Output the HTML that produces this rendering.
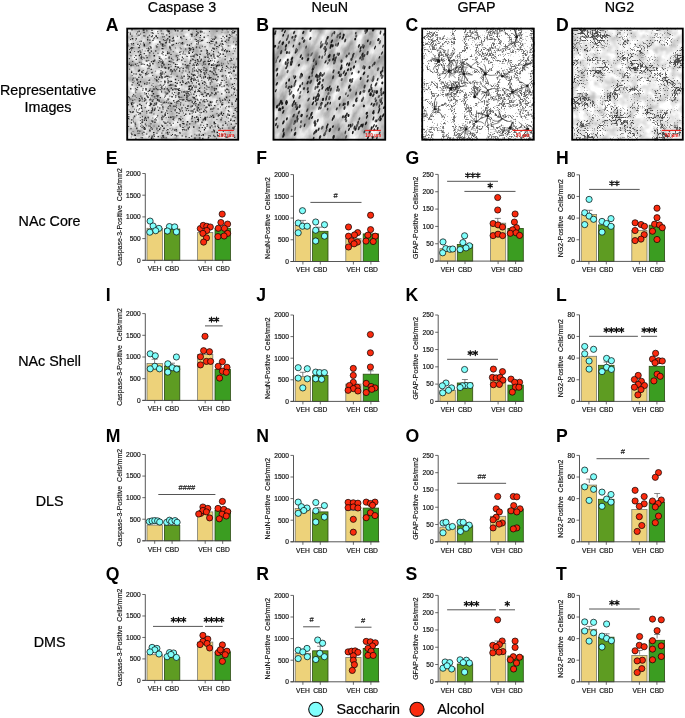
<!DOCTYPE html><html><head><meta charset="utf-8"><style>html,body{margin:0;padding:0;background:#fff}svg{display:block;will-change:transform}text{font-family:"Liberation Sans", sans-serif}</style></head><body>
<svg width="685" height="718" viewBox="0 0 685 718">
<defs>
<filter id="mA" x="0" y="0" width="100%" height="100%" color-interpolation-filters="sRGB">
 <feTurbulence type="fractalNoise" baseFrequency="0.12" numOctaves="3" seed="4"/>
 <feColorMatrix type="matrix" values="0.55 0 0 0 0.55  0.55 0 0 0 0.55  0.55 0 0 0 0.55  0 0 0 0 1"/>
</filter>
<filter id="mB" x="0" y="0" width="100%" height="100%" color-interpolation-filters="sRGB">
 <feTurbulence type="fractalNoise" baseFrequency="0.05 0.1" numOctaves="4" seed="7"/>
 <feColorMatrix type="matrix" values="0.8 0 0 0 0.38  0.8 0 0 0 0.38  0.8 0 0 0 0.38  0 0 0 0 1"/>
</filter>
<filter id="mC" x="0" y="0" width="100%" height="100%" color-interpolation-filters="sRGB">
 <feTurbulence type="turbulence" baseFrequency="0.09" numOctaves="2" seed="4" result="t0"/>
 <feColorMatrix in="t0" type="matrix" values="1 0 0 0 0  1 0 0 0 0  1 0 0 0 0  0 0 0 0 1" result="t"/>
 <feTurbulence type="fractalNoise" baseFrequency="0.7" numOctaves="1" seed="9" result="h0"/>
 <feColorMatrix in="h0" type="matrix" values="1 0 0 0 0  1 0 0 0 0  1 0 0 0 0  0 0 0 0 1" result="h"/>
 <feComposite in="t" in2="h" operator="arithmetic" k1="0" k2="1" k3="1.1" k4="-0.55" result="v"/>
 <feColorMatrix in="v" type="matrix" values="2.6 0 0 0 0.42  2.6 0 0 0 0.42  2.6 0 0 0 0.42  0 0 0 0 1"/>
</filter>
<filter id="mD" x="0" y="0" width="100%" height="100%" color-interpolation-filters="sRGB">
 <feTurbulence type="fractalNoise" baseFrequency="0.06" numOctaves="2" seed="8" result="lo0"/>
 <feColorMatrix in="lo0" type="matrix" values="1 0 0 0 0  1 0 0 0 0  1 0 0 0 0  0 0 0 0 1" result="lo"/>
 <feTurbulence type="turbulence" baseFrequency="0.3" numOctaves="2" seed="5" result="hi0"/>
 <feColorMatrix in="hi0" type="matrix" values="1 0 0 0 0  1 0 0 0 0  1 0 0 0 0  0 0 0 0 1" result="hi"/>
 <feComposite in="lo" in2="hi" operator="arithmetic" k1="0" k2="-0.8" k3="1" k4="0.4" result="v"/>
 <feColorMatrix in="v" type="matrix" values="2.6 0 0 0 0.32  2.6 0 0 0 0.32  2.6 0 0 0 0.32  0 0 0 0 1" result="g"/>
 <feTurbulence type="fractalNoise" baseFrequency="0.12" numOctaves="2" seed="31" result="m0"/>
 <feColorMatrix in="m0" type="matrix" values="0.5 0 0 0 0.67  0.5 0 0 0 0.67  0.5 0 0 0 0.67  0 0 0 0 1" result="m"/>
 <feComposite in="g" in2="m" operator="arithmetic" k1="1" k2="0" k3="0" k4="0"/>
</filter>
<filter id="bl3" x="-5%" y="-5%" width="110%" height="110%"><feGaussianBlur stdDeviation="0.35"/></filter>
<filter id="bl20" x="-20%" y="-20%" width="140%" height="140%"><feGaussianBlur stdDeviation="2"/></filter>
</defs>
<rect width="685" height="718" fill="#fff"/>
<text x="182" y="11.5" font-size="14.3" text-anchor="middle" fill="#000" stroke="#000" stroke-width="0.22">Caspase 3</text>
<text x="329.8" y="11.5" font-size="14.3" text-anchor="middle" fill="#000" stroke="#000" stroke-width="0.22">NeuN</text>
<text x="476.5" y="11.5" font-size="14.3" text-anchor="middle" fill="#000" stroke="#000" stroke-width="0.22">GFAP</text>
<text x="619.5" y="11.5" font-size="14.3" text-anchor="middle" fill="#000" stroke="#000" stroke-width="0.22">NG2</text>
<text transform="translate(105.8 30.8) scale(0.98 1)" font-size="18" font-weight="bold" fill="#000">A</text>
<text transform="translate(256.2 30.8) scale(0.98 1)" font-size="18" font-weight="bold" fill="#000">B</text>
<text transform="translate(405.6 30.8) scale(0.98 1)" font-size="18" font-weight="bold" fill="#000">C</text>
<text transform="translate(556.1 30.8) scale(0.98 1)" font-size="18" font-weight="bold" fill="#000">D</text>
<text transform="translate(105.8 163.8) scale(0.98 1)" font-size="18" font-weight="bold" fill="#000">E</text>
<text transform="translate(256.2 163.8) scale(0.98 1)" font-size="18" font-weight="bold" fill="#000">F</text>
<text transform="translate(405.6 163.8) scale(0.98 1)" font-size="18" font-weight="bold" fill="#000">G</text>
<text transform="translate(556.1 163.8) scale(0.98 1)" font-size="18" font-weight="bold" fill="#000">H</text>
<text transform="translate(105.8 301.3) scale(0.98 1)" font-size="18" font-weight="bold" fill="#000">I</text>
<text transform="translate(256.2 301.3) scale(0.98 1)" font-size="18" font-weight="bold" fill="#000">J</text>
<text transform="translate(405.6 301.3) scale(0.98 1)" font-size="18" font-weight="bold" fill="#000">K</text>
<text transform="translate(556.1 301.3) scale(0.98 1)" font-size="18" font-weight="bold" fill="#000">L</text>
<text transform="translate(105.8 442) scale(0.98 1)" font-size="18" font-weight="bold" fill="#000">M</text>
<text transform="translate(256.2 442) scale(0.98 1)" font-size="18" font-weight="bold" fill="#000">N</text>
<text transform="translate(405.6 442) scale(0.98 1)" font-size="18" font-weight="bold" fill="#000">O</text>
<text transform="translate(556.1 442) scale(0.98 1)" font-size="18" font-weight="bold" fill="#000">P</text>
<text transform="translate(105.8 580) scale(0.98 1)" font-size="18" font-weight="bold" fill="#000">Q</text>
<text transform="translate(256.2 580) scale(0.98 1)" font-size="18" font-weight="bold" fill="#000">R</text>
<text transform="translate(405.6 580) scale(0.98 1)" font-size="18" font-weight="bold" fill="#000">S</text>
<text transform="translate(556.1 580) scale(0.98 1)" font-size="18" font-weight="bold" fill="#000">T</text>
<text x="48" y="94.5" font-size="14.3" text-anchor="middle" fill="#000" stroke="#000" stroke-width="0.22">Representative</text>
<text x="48" y="112" font-size="14.3" text-anchor="middle" fill="#000" stroke="#000" stroke-width="0.22">Images</text>
<text x="49.6" y="226.4" font-size="14.3" text-anchor="middle" fill="#000" stroke="#000" stroke-width="0.22">NAc Core</text>
<text x="49.6" y="366.4" font-size="14.3" text-anchor="middle" fill="#000" stroke="#000" stroke-width="0.22">NAc Shell</text>
<text x="49.6" y="506.4" font-size="14.3" text-anchor="middle" fill="#000" stroke="#000" stroke-width="0.22">DLS</text>
<text x="49.6" y="646.6" font-size="14.3" text-anchor="middle" fill="#000" stroke="#000" stroke-width="0.22">DMS</text>
<clipPath id="cp0"><rect x="126.3" y="27.7" width="112.8" height="112.9"/></clipPath>
<g clip-path="url(#cp0)">
<g transform="translate(126.3 27.7)"><rect x="0" y="0" width="112.8" height="112.9" fill="#ccc" filter="url(#mA)"/></g>
<g filter="url(#bl3)"><path fill="#1e1e1e" d="M142 121.4h1.2v1.3h-1.2zM178.9 70.2h1.3v1.5h-1.3zM201.3 111.9h0.9v1h-0.9zM228.1 39.6h1.2v1.1h-1.2zM187.3 105.6h1.2v1.3h-1.2zM182.5 81.8h1.2v1.2h-1.2zM147.1 38.7h1.2v1.4h-1.2zM135 123.7h1.2v1h-1.2zM161.4 66.3h1.2v1.4h-1.2zM183.1 51.6h0.9v0.9h-0.9zM130.7 102.5h1.3v1.2h-1.3zM221.1 62.7h1v0.9h-1zM229.8 71.4h0.9v1h-0.9zM163.1 136.7h1.2v1.1h-1.2zM210.3 94.4h1.2v1h-1.2zM153 132h1.3v1.3h-1.3zM222 114.9h1.2v1.2h-1.2zM228.5 37.1h1.5v1.4h-1.5zM132.3 61.1h0.9v0.8h-0.9zM145.6 55.1h0.9v1.1h-0.9zM215.4 88.1h1.5v1.5h-1.5zM192.5 77.9h0.9v0.8h-0.9zM163.8 88.2h1.5v1.3h-1.5zM212.3 64.6h1v0.9h-1zM226 116.6h1v1h-1zM234 30.8h1.5v1.3h-1.5zM155.6 119.4h1.3v1.1h-1.3zM194.1 108.4h1v0.8h-1zM233.5 70.5h1.3v1.5h-1.3zM175.2 96.8h1v1h-1zM195.9 95h1v0.9h-1zM215.6 41.6h1.5v1.6h-1.5zM140.8 107.2h1.5v1.7h-1.5zM202 82.6h1.3v1.3h-1.3zM236 98.2h1.5v1.8h-1.5zM196.8 58.9h1.5v1.7h-1.5zM188.6 47.6h1.5v1.3h-1.5zM143.5 132.1h1v0.9h-1zM205.5 68.2h1v0.9h-1zM162.4 130.3h0.9v0.9h-0.9zM204.2 117.9h1.5v1.6h-1.5zM157.3 95.8h1v1h-1zM200 34.9h1v1.1h-1zM196.3 134.8h1v1h-1zM226.2 88.5h1.5v1.6h-1.5zM205.3 110h0.9v1.1h-0.9zM143.8 129.2h0.9v0.8h-0.9zM216.2 80h1.2v1.2h-1.2zM175.8 42.7h1.3v1.3h-1.3zM168.9 41.5h0.9v0.8h-0.9zM216.4 99.9h1.2v1.1h-1.2zM166.8 131.8h1.3v1.4h-1.3zM139.6 112.5h1.5v1.3h-1.5zM151.1 120.4h1.3v1.2h-1.3zM180 36.7h1.2v1h-1.2zM185.4 70.4h0.9v1h-0.9zM183.9 94.6h1.3v1.3h-1.3zM191.4 88.9h1v0.8h-1zM211.3 71.2h1.3v1.3h-1.3zM221.1 93.2h1.3v1.3h-1.3zM208.1 104.3h1.3v1.5h-1.3zM231.1 72.7h0.9v1.1h-0.9zM194.2 137.6h1.5v1.2h-1.5zM210.1 108.5h1.2v1.3h-1.2zM182.8 58.3h1v0.9h-1zM230.7 58.3h1.2v1.1h-1.2zM190.8 78.1h1.5v1.6h-1.5zM140.2 125.8h1v1h-1zM151.4 110h1.2v1.3h-1.2zM168.8 42h0.9v1h-0.9zM142.5 72.4h1v0.9h-1zM128.2 125.9h0.9v1h-0.9zM197.4 121h1.2v1.3h-1.2zM186.8 121h1.5v1.4h-1.5zM192.7 74.9h1.3v1.3h-1.3zM191.5 86.7h1.5v1.8h-1.5zM191 81.2h1v0.9h-1zM206.4 49.9h1.5v1.5h-1.5zM153.4 113.5h1v1h-1zM202.8 100.2h1v1h-1zM154.9 70.7h0.9v0.8h-0.9zM205.9 72.2h1v1.1h-1zM138.6 69.5h1.5v1.7h-1.5zM161.8 117.6h0.9v0.9h-0.9zM191.4 110.2h1.3v1.5h-1.3zM204.7 118.3h1.5v1.6h-1.5zM166.6 124.7h0.9v0.7h-0.9zM187.7 128.2h1.3v1.4h-1.3zM214.2 93.9h1.2v1.3h-1.2zM225.9 65.5h1.5v1.4h-1.5zM186.3 65.3h1.5v1.3h-1.5zM204.8 127.6h1.3v1.2h-1.3zM141.9 77.1h0.9v0.8h-0.9zM191.6 101.3h1.3v1.5h-1.3zM152.7 93h1.5v1.4h-1.5zM175.7 55.3h1.2v1.3h-1.2zM195 121.2h1.5v1.2h-1.5zM175.8 105.2h1v1h-1zM197.5 67.7h0.9v0.9h-0.9zM161.1 124.7h0.9v0.7h-0.9zM139.5 99.4h1.2v1.4h-1.2zM151.4 95h1.2v1.3h-1.2zM133.2 94h1v1.2h-1zM134.1 108.8h0.9v0.7h-0.9zM164.4 114.6h1.5v1.3h-1.5zM159.6 88.9h1v1h-1zM133.8 134.8h0.9v0.9h-0.9zM129 48.9h1v0.9h-1zM226.3 39.4h1v1h-1zM210.9 64.3h1.5v1.6h-1.5zM187.3 108.2h1v0.8h-1zM194.2 54.5h1v1h-1zM220.3 83.8h1.2v1h-1.2zM154.3 121.5h1.3v1.4h-1.3zM152.6 60.5h1v0.9h-1zM164.7 91.6h0.9v1h-0.9zM164.2 121.8h1.2v1h-1.2zM159.1 41.4h1.5v1.4h-1.5zM198.8 90.6h1.5v1.3h-1.5zM208.7 104.9h1.3v1.3h-1.3zM202.5 101.2h0.9v1h-0.9zM140.8 57.4h1.2v1.3h-1.2zM170.7 80.7h1.5v1.3h-1.5zM192.6 48.4h1.5v1.6h-1.5zM233.9 88.9h1.2v1.4h-1.2zM143.6 44.7h1.5v1.7h-1.5zM234.8 125.7h1v0.8h-1zM202.8 118.8h1v0.9h-1zM150.2 127.4h1v1.2h-1zM134.5 95.6h1.2v1h-1.2zM137.1 87h1v1.1h-1zM226.6 29.3h0.9v0.9h-0.9zM167.9 66.9h1.3v1.5h-1.3zM153.5 55.1h1.5v1.3h-1.5zM146.1 118.5h0.9v1h-0.9zM191.2 33.9h1.5v1.2h-1.5zM140.1 123h0.9v0.8h-0.9zM140.1 51.7h1.2v1.1h-1.2zM223.8 50.1h1.5v1.5h-1.5zM130.5 128.1h1v1.2h-1zM162.5 134.9h1.5v1.5h-1.5zM208.7 76.6h1.5v1.5h-1.5zM170.8 111h0.9v0.8h-0.9zM194.1 86.7h0.9v0.7h-0.9zM182.4 127h1.3v1.1h-1.3zM190.4 55.8h1.2v1.4h-1.2zM174.5 134.3h1.3v1.5h-1.3zM196.9 118.8h1.3v1.2h-1.3zM134.6 77.5h1v1.1h-1zM159.7 97.1h1.2v1.1h-1.2zM211.5 78.4h1.2v1h-1.2zM170.1 116.4h1.5v1.7h-1.5zM172.2 37.9h1.3v1.4h-1.3zM199.1 56.3h1v0.9h-1zM145.3 89.2h1.5v1.4h-1.5zM188.1 29.8h1.3v1.1h-1.3zM128.4 114.1h0.9v0.8h-0.9zM199.6 41.2h0.9v0.8h-0.9zM226.3 96.9h0.9v1h-0.9zM190.3 85.3h1.3v1.2h-1.3zM188 88.4h1.5v1.3h-1.5zM185.9 109.7h1v1h-1zM133.1 120.7h0.9v0.8h-0.9zM164.2 80.6h1.2v1.4h-1.2zM171.5 71h1v1h-1zM138.9 103.8h1.2v1.2h-1.2zM161.4 77.1h1.3v1.3h-1.3zM180.7 37.8h0.9v0.7h-0.9zM161.3 87.5h1.2v1.4h-1.2zM153.3 134.5h0.9v0.9h-0.9zM186.1 96.5h1.3v1.5h-1.3zM178.9 108.7h1.3v1.3h-1.3zM166.5 88.3h1.5v1.2h-1.5zM199.2 57.5h1v1.1h-1zM191.6 82.4h1.3v1.1h-1.3zM187.3 100.3h0.9v0.9h-0.9zM224.5 98.9h1.3v1.5h-1.3zM222.8 131.1h0.9v1h-0.9zM221 64.8h1.3v1.3h-1.3zM195.6 86.8h1v1h-1zM144.3 128.2h1.5v1.6h-1.5zM227.6 89.5h1v0.8h-1zM193.3 97.6h0.9v1h-0.9zM221.8 127.8h1.3v1h-1.3zM132.9 117.6h0.9v1h-0.9zM227.3 113.5h1.2v1.3h-1.2zM182.3 99h1.5v1.4h-1.5zM185.9 82.2h1v1h-1zM217.7 115.3h1v1.1h-1zM217.1 64.6h1.5v1.6h-1.5zM152.4 120.6h1v0.9h-1zM184.9 107.2h1v1.1h-1zM181.1 84.1h1.3v1.5h-1.3zM157.5 52.7h1v1h-1zM171.3 95.9h1.5v1.7h-1.5zM212.9 129.4h1.3v1.2h-1.3zM182.2 122.9h1.2v1.1h-1.2zM229 34.3h0.9v0.8h-0.9zM194.8 105.4h0.9v0.9h-0.9zM136.4 65.3h0.9v1h-0.9zM168.8 76.4h1v1h-1zM180.5 50.9h0.9v0.9h-0.9zM180.3 36.6h1.3v1.4h-1.3zM195 111.4h1.2v1.3h-1.2zM179.5 118h1v1h-1zM210.9 116h1v1.2h-1zM145.1 99.3h1.3v1.2h-1.3zM144.1 83.1h1.2v1.4h-1.2zM167.2 75.7h1.3v1.4h-1.3zM139.6 53.8h1.3v1.1h-1.3zM168.7 131.8h1v0.9h-1zM218.2 52.2h1v1.1h-1zM191.7 115.7h1.3v1.3h-1.3zM188.8 71.6h1v1.2h-1zM177.3 88.5h1.5v1.6h-1.5zM236.5 78.7h0.9v0.7h-0.9zM140.8 104.9h1.3v1.1h-1.3zM172 134.1h1v1h-1zM194.3 117.1h1v1.2h-1zM142.6 88.2h1v1.1h-1zM221.1 68.7h1.5v1.7h-1.5zM195.6 39.1h1.3v1.1h-1.3zM141.5 110.9h1.3v1.1h-1.3zM203 110.9h1.5v1.4h-1.5zM236.6 67.3h0.9v0.9h-0.9zM205.6 106.8h1v1.1h-1zM152.4 121.6h0.9v1.1h-0.9zM205.1 116.7h1.3v1.5h-1.3zM165.2 42h1.5v1.4h-1.5zM188.5 77.7h0.9v0.8h-0.9zM221.2 103.9h1.5v1.5h-1.5zM151.2 36.1h1.2v1.1h-1.2zM163 85.2h0.9v0.9h-0.9zM184.9 83.1h1.3v1.2h-1.3zM160.5 101.8h1v1h-1zM188.3 91h1.3v1.1h-1.3zM137.2 31.4h1v1.2h-1zM196.9 62.8h1.3v1.2h-1.3zM183 104.8h0.9v0.8h-0.9zM228.2 71.9h1.3v1.5h-1.3zM203.1 110.8h1.3v1.3h-1.3zM230.1 119.8h1.3v1.3h-1.3zM182.3 126.9h1.2v1h-1.2zM204.6 76.1h1.5v1.6h-1.5zM219 84.4h1v0.9h-1zM224.6 55.8h1.3v1.1h-1.3zM136.6 80h1v1h-1zM176.6 66.3h1v1.1h-1zM178.9 88h0.9v0.9h-0.9zM227.7 117.5h1v0.9h-1zM231.8 83.8h1.3v1.1h-1.3zM151.1 127.3h0.9v0.8h-0.9zM193 126.2h1.5v1.6h-1.5zM135.5 38.3h1.5v1.3h-1.5zM226 50.6h1v0.9h-1zM133.4 73.3h1v1.1h-1zM225.9 78.5h0.9v1h-0.9zM194.8 100.8h1.3v1.2h-1.3zM141.6 127h1v1.1h-1zM167.3 98.4h0.9v0.8h-0.9zM138.3 112.3h0.9v1h-0.9zM218.9 64.5h1v1.2h-1zM142.7 70.1h0.9v1h-0.9zM151.4 84.7h1v1.1h-1zM177.9 100.3h1.3v1.2h-1.3zM134.1 57.1h0.9v0.7h-0.9zM233.9 82.9h0.9v1.1h-0.9zM151.4 29.8h1.2v1.1h-1.2zM196 116.2h1.5v1.5h-1.5zM158.9 76.4h1.5v1.7h-1.5zM208.8 41.9h1.2v1.3h-1.2zM224.7 120.9h1v0.9h-1zM205.4 83.4h1v0.9h-1zM197.8 42.3h1.2v1.1h-1.2zM172.5 118.7h1.3v1.4h-1.3zM221.5 65h1v1.1h-1zM137.6 133.2h0.9v0.8h-0.9zM131.8 74.9h0.9v0.9h-0.9zM194.2 90.9h1.5v1.3h-1.5zM184.8 64.1h1v0.9h-1zM184.3 90.8h1.2v1h-1.2zM167.2 129.1h1.3v1.1h-1.3zM132.5 82.1h1v0.9h-1zM228.9 99.6h1.2v1.3h-1.2zM159.1 107.5h1.3v1.1h-1.3zM174.7 70.4h1.2v1.2h-1.2zM206.6 126.1h0.9v1h-0.9zM195.9 64.3h1.5v1.6h-1.5zM194.6 59.8h1v0.9h-1zM139.8 80.9h1.3v1.5h-1.3zM164.8 67.6h1.2v1.2h-1.2zM209.5 103.5h0.9v0.9h-0.9zM183.3 123.1h1.2v1.3h-1.2zM227.4 67h0.9v1h-0.9zM168.6 57.5h1v1.2h-1zM204.2 116.7h0.9v1h-0.9zM153.6 104.4h1.2v1.2h-1.2zM188.2 109.9h1v1h-1zM130.7 64.1h0.9v0.7h-0.9zM129.7 111h1v1h-1zM215.2 36.6h1.2v1.4h-1.2zM181.3 96.8h0.9v0.9h-0.9zM128.8 97.1h1v1h-1zM211.2 102.5h0.9v0.8h-0.9zM193.9 66.7h0.9v1h-0.9zM222 66.8h1v1h-1zM129.1 68.7h1v0.9h-1zM235.3 74.4h1v1h-1zM146 120h1v0.9h-1zM176.2 115h1.2v1.1h-1.2zM177.4 102.7h0.9v0.9h-0.9zM161.5 47.9h1.5v1.3h-1.5zM131 71.8h1.3v1.1h-1.3zM233.3 128.3h1.2v1.1h-1.2zM212.2 39.1h1v0.9h-1zM182 77.6h0.9v1h-0.9zM160.9 104.6h0.9v0.9h-0.9zM143.5 43.8h1.5v1.7h-1.5zM161 117.3h1.5v1.2h-1.5zM137 82.7h1.2v1.3h-1.2zM180.6 43.2h1v1.1h-1zM148.1 93.4h0.9v0.9h-0.9zM221.3 134.4h1v0.9h-1zM233.7 126.6h1.3v1.1h-1.3zM161.5 62.8h1.2v1.1h-1.2zM177.2 35.8h0.9v1h-0.9zM179.8 96.7h0.9v1h-0.9zM203.7 81.1h1v1.2h-1zM189.6 89.1h1.5v1.5h-1.5zM226.7 50.5h1.5v1.2h-1.5zM170.2 69.1h1.5v1.4h-1.5zM188.7 76.1h1.3v1.3h-1.3zM174.1 129.6h1.2v1.2h-1.2zM167.3 133.4h1.3v1.4h-1.3zM131.3 44.2h1.2v1h-1.2zM142.3 63.4h1v1h-1zM130 48.2h0.9v0.8h-0.9zM178.2 92.1h1.5v1.7h-1.5zM161.8 44.8h1v1.1h-1zM200.8 58.8h1.2v1h-1.2zM195.4 103.1h1.2v1.1h-1.2zM225.8 96.6h1.5v1.6h-1.5zM138.7 55.1h1.3v1.1h-1.3zM232.4 120.4h0.9v1h-0.9zM150.7 50.6h1.3v1.1h-1.3zM193.4 103.2h1.3v1.3h-1.3zM197.4 72.5h1.3v1h-1.3zM171.5 40.4h1.3v1.4h-1.3zM209.5 70.6h1.3v1.3h-1.3zM129.8 32.5h0.9v0.8h-0.9zM181.2 91.5h0.9v0.9h-0.9zM152.9 86.2h0.9v0.9h-0.9zM172.1 71.2h1v1.1h-1zM177.9 42.8h1v0.8h-1zM200.2 124.5h1.2v1h-1.2zM153.8 135.7h1.2v1h-1.2zM231.1 87.2h1.2v1.2h-1.2zM141.9 98.7h1v0.9h-1zM203.1 95.9h1.2v1.1h-1.2zM221.3 117.5h1v0.9h-1zM153.2 88.4h1.5v1.3h-1.5zM146.5 56.9h1.2v1.3h-1.2zM200.3 71h1.5v1.6h-1.5zM131.8 84.5h0.9v0.8h-0.9zM148.8 89.8h1.5v1.4h-1.5zM187.4 92.7h1.2v1.2h-1.2zM192.4 96.6h0.9v1.1h-0.9zM169.4 95.8h1v0.8h-1zM139.9 120.2h0.9v0.8h-0.9zM205.7 94.8h1.5v1.8h-1.5zM224.7 40.8h1.2v1.3h-1.2zM162 43.4h1.5v1.8h-1.5zM161.1 73.6h1.2v1.3h-1.2zM193.3 55.6h0.9v0.8h-0.9zM130.8 122.2h1.2v1.4h-1.2zM164.6 76.6h1v1.1h-1zM152 35.2h1v1.1h-1zM164.4 39.9h1.2v1h-1.2zM147.6 96.5h1.2v1.4h-1.2zM198 120.3h0.9v0.9h-0.9zM146.5 60.3h1v1.1h-1zM215.7 65.8h1.5v1.4h-1.5zM159.3 41h0.9v0.7h-0.9zM131 103.7h1.5v1.6h-1.5zM209.1 31.3h0.9v0.8h-0.9zM166.2 101.8h0.9v1.1h-0.9zM164.3 66.8h1.3v1.4h-1.3zM170.4 49.3h1v0.9h-1zM235 67.3h0.9v1.1h-0.9zM162.2 62.6h1.2v1.1h-1.2zM218.3 69.3h0.9v1h-0.9zM196.1 54h1.2v1.3h-1.2zM162.1 71.5h1.2v1.2h-1.2zM166.9 52.8h1.3v1.5h-1.3zM174.7 65.8h1.5v1.4h-1.5zM221.4 71h1v0.8h-1zM215.8 101.4h1.2v1h-1.2zM135.3 54.9h1.2v1.4h-1.2zM137.5 35.4h0.9v0.9h-0.9zM177.5 55.2h1v0.9h-1zM190.8 43.2h1v1.1h-1zM151.6 107.5h1.5v1.2h-1.5zM181.9 80.3h1.3v1.1h-1.3zM194.1 74.3h0.9v1h-0.9zM206.4 93.2h1.5v1.2h-1.5zM196 82.2h1v1h-1zM164.7 75.9h1v0.8h-1zM127.4 32h1v1h-1zM175.2 85h1v1h-1zM188.4 85.7h1.5v1.8h-1.5zM192.2 58.7h1.5v1.6h-1.5zM218.7 44.7h1.3v1.4h-1.3zM198.3 83.2h1.5v1.8h-1.5zM168.4 30.6h1.5v1.4h-1.5zM143.8 64h0.9v0.9h-0.9zM156 76.4h1.3v1.3h-1.3zM203.8 118.2h1.2v1.4h-1.2zM191.3 35.4h1.2v1.1h-1.2zM130.9 47.1h1.3v1.5h-1.3zM226.1 52.5h0.9v0.8h-0.9zM209.7 101.2h1.5v1.7h-1.5zM159.7 84.4h1.5v1.2h-1.5zM161.4 33.3h0.9v1h-0.9zM231.4 33.6h0.9v0.9h-0.9zM131.1 119.3h1.2v1.3h-1.2zM156.1 46.3h1.5v1.3h-1.5zM186.6 96.7h1v1.1h-1zM130.8 42.9h0.9v1h-0.9zM221.5 75.5h1.5v1.3h-1.5zM216.5 30.7h0.9v1h-0.9zM211.2 49.8h1v0.9h-1zM144.8 116.7h1.3v1.3h-1.3zM128.7 63.7h1.2v1.4h-1.2zM182.4 28.7h1v0.9h-1zM132.7 42.9h1.5v1.2h-1.5zM155.4 104h1.3v1.2h-1.3zM130.5 55.3h0.9v1h-0.9zM137.9 65.2h0.9v1h-0.9zM199.5 39.4h1v0.9h-1zM213.8 130.1h1v0.9h-1zM181.1 59.7h1.3v1.1h-1.3zM224.8 70h1v1.2h-1zM134.8 134.5h1.2v1.4h-1.2zM165.7 137.2h0.9v1.1h-0.9zM233.1 69.8h1.5v1.6h-1.5zM218 126.9h1.3v1.4h-1.3zM190.7 80.7h1.2v1.2h-1.2zM186.5 108h0.9v0.9h-0.9zM144.9 72.9h1.5v1.4h-1.5zM148.8 105h1v0.9h-1zM222.4 103.9h0.9v1.1h-0.9zM163.7 84.1h0.9v0.7h-0.9zM208.1 79.5h1v1h-1zM147.1 39.4h1.2v1.2h-1.2zM181.8 72.4h0.9v0.9h-0.9zM170.4 54h1.2v1h-1.2zM174.8 82.1h1.2v1h-1.2zM167.4 82.1h1.3v1.4h-1.3zM228.4 127.6h0.9v0.9h-0.9zM171.4 44.4h1.5v1.4h-1.5zM232.2 127.3h1.5v1.4h-1.5zM149.9 103.7h1.2v1.4h-1.2zM148.8 82.4h1v1.1h-1zM179.5 124.6h1.3v1.1h-1.3zM181.4 107.3h1.2v1.2h-1.2zM138 47.2h1.2v1.1h-1.2zM184.1 129.5h0.9v1h-0.9zM229.4 60.1h1.3v1.5h-1.3zM232.2 32h1.5v1.6h-1.5zM178.7 97.2h1v1.1h-1zM151.8 32.2h1.2v1.4h-1.2zM130.4 112.1h0.9v0.9h-0.9zM151.6 90.6h1.5v1.6h-1.5zM160.3 72.2h1v1h-1zM216.2 64.8h1v1.1h-1zM170.5 124.4h1.3v1.3h-1.3zM177.3 57.7h0.9v0.7h-0.9zM181.7 41.9h1.5v1.8h-1.5zM164.4 123.1h1.2v1h-1.2zM160.5 75.2h0.9v0.9h-0.9zM167.5 107.6h0.9v1.1h-0.9zM157.6 136.1h1.2v1.2h-1.2zM141.1 71.3h1.5v1.4h-1.5zM182.6 121.1h0.9v0.9h-0.9zM203 76.4h0.9v1h-0.9zM205.9 69.4h1.3v1.1h-1.3zM169.4 104.7h1.5v1.5h-1.5zM188.8 82.5h0.9v1.1h-0.9zM217.4 91.4h1.2v1.2h-1.2zM211.8 110.9h0.9v0.9h-0.9zM233.7 120.1h1.2v1.3h-1.2zM171 102.8h1.3v1.5h-1.3zM212.9 63.3h0.9v0.9h-0.9zM222.4 43.9h1.2v1.1h-1.2zM156.1 79.7h1.5v1.7h-1.5zM162.9 39.3h1.2v1h-1.2zM198.4 69h1.3v1.5h-1.3zM228.9 50.8h1.2v1.2h-1.2zM154.7 107.6h1v1.1h-1zM211.6 131.3h1v1.1h-1zM213.6 130.2h0.9v1h-0.9zM145.6 28.7h1v0.9h-1zM142.7 29.2h1.3v1.5h-1.3zM147.8 49.7h1.3v1.5h-1.3zM161 91.2h1.2v1.3h-1.2zM151.6 128.5h1.2v1.2h-1.2zM186.4 90.8h1.3v1.4h-1.3zM136.9 105.2h1.2v1.4h-1.2zM147 96.4h1v1.1h-1zM152.3 39.8h1.3v1.3h-1.3zM166 41.4h1v1h-1zM221.5 31.8h1v0.8h-1zM143.7 100.7h1v1.1h-1zM148.3 125.4h1.3v1.2h-1.3zM220.7 112.9h1.3v1.5h-1.3zM141.8 76.3h0.9v1h-0.9zM135.2 88.2h0.9v1.1h-0.9zM144.1 97.8h1.3v1.2h-1.3zM209.1 95.6h1v1.2h-1zM235 94.7h1.2v1.3h-1.2zM217.2 135h1.5v1.6h-1.5zM168.6 60.8h1.5v1.3h-1.5zM207.3 56.5h1.3v1.5h-1.3zM198.8 133.8h1v0.9h-1zM140.9 56.3h1v1h-1zM210.4 54.8h1.5v1.6h-1.5zM138.4 84.3h1.5v1.4h-1.5zM227.7 63.3h1v1h-1zM216.5 131.7h1.5v1.6h-1.5zM149.8 102.5h1.3v1.1h-1.3zM212.2 114.8h1.3v1.5h-1.3zM138.9 98.1h1v1h-1zM219.5 113.5h0.9v1.1h-0.9zM158.8 57.7h1.5v1.4h-1.5zM189.3 62.7h1.3v1.3h-1.3zM235.5 65.9h1v1.2h-1zM204.3 60.8h1.2v1.2h-1.2zM233.2 115.2h1.3v1.1h-1.3zM200.9 39.9h1.5v1.3h-1.5zM189.3 85.6h1.3v1.5h-1.3zM180.7 30.7h1v0.8h-1zM151.9 109.5h1v1.1h-1zM210.3 76.9h1.3v1.1h-1.3zM158.3 95.2h1v1.1h-1zM131.4 29.1h1.2v1.3h-1.2zM157.6 32.9h1v0.8h-1zM213.6 131.1h1.3v1.4h-1.3zM188.4 65.4h0.9v1h-0.9zM145.8 93.1h1.2v1.4h-1.2zM149.6 64.6h1.3v1.5h-1.3zM226.1 77.2h0.9v0.9h-0.9zM198.1 64.5h0.9v0.7h-0.9zM148.9 79.4h1.3v1.4h-1.3zM213 51.1h1.2v1.1h-1.2zM220.2 101.2h1.2v1.2h-1.2zM216.3 46.1h1.5v1.2h-1.5zM168.7 36.1h1.5v1.5h-1.5zM189.2 123.2h1.2v1.3h-1.2zM192 51.8h1v1.2h-1zM131.7 102.1h1v1.1h-1zM157.2 31.2h1v1h-1zM139.2 73.8h1.2v1.4h-1.2zM197.7 32.7h0.9v1h-0.9zM146.3 95.3h1.3v1.1h-1.3zM175.6 129.1h1.3v1.1h-1.3zM201.4 121.6h1.2v1.3h-1.2zM208.7 63h1.3v1.1h-1.3zM221.5 117.7h0.9v0.8h-0.9zM216.1 74.1h1.3v1.4h-1.3zM128 118.1h0.9v0.9h-0.9zM162.4 36.3h1v1.1h-1zM174.8 63.8h1.2v1.3h-1.2zM131.8 38h1.5v1.4h-1.5zM210.5 40.5h1.5v1.4h-1.5zM221.5 135.4h1.3v1.1h-1.3zM158.2 125.6h1.2v1.3h-1.2zM138.9 108.3h1v1h-1zM231.6 104.4h0.9v0.8h-0.9zM139.5 113.4h1v1h-1zM173.1 62.2h1.3v1.3h-1.3zM195.1 89.7h1v0.9h-1zM155.4 35.3h1.5v1.7h-1.5zM186.1 94.4h1.5v1.4h-1.5zM143.4 31.7h1.3v1.3h-1.3zM147.5 116.7h1.3v1.1h-1.3zM197.7 79.5h0.9v1h-0.9zM185.9 55.7h1v0.8h-1zM178.4 118.3h1.2v1h-1.2zM165.9 75.5h1.3v1.3h-1.3zM236.3 99h1.2v1.4h-1.2zM136.2 89h1.2v1.3h-1.2zM192.4 74.1h1.3v1.1h-1.3zM179.4 90h1v0.9h-1zM200.8 93.7h1.2v1h-1.2zM218.3 46.6h0.9v0.8h-0.9zM199.5 102.4h1.2v1.2h-1.2zM233 66.5h1.5v1.2h-1.5zM143.5 29.4h1.3v1.1h-1.3zM207.6 35.3h0.9v0.8h-0.9zM200 70h0.9v1.1h-0.9zM198 107h0.9v0.9h-0.9zM200 117.2h1v0.8h-1zM196 69.6h0.9v0.8h-0.9zM150.5 103.2h1.5v1.5h-1.5zM136.2 78.4h1.5v1.5h-1.5zM202.5 134h1.5v1.7h-1.5zM203.9 84.2h1v1h-1zM189 88h1.2v1.3h-1.2zM203.1 63.4h1.2v1h-1.2zM160.7 89.8h0.9v0.8h-0.9zM212.9 116.6h1.5v1.3h-1.5zM214 44.4h1.5v1.2h-1.5zM179.9 118.9h1.5v1.7h-1.5zM161.9 135h1v1h-1zM181.8 110.3h1v1.2h-1zM167.2 113h0.9v1h-0.9zM133.3 44.6h0.9v0.9h-0.9zM189.2 49.6h1.2v1.4h-1.2zM205.9 49.5h1v0.8h-1zM177.1 30.2h1.5v1.3h-1.5zM212.2 40.8h1.3v1.1h-1.3zM234.7 107.9h1.2v1.3h-1.2zM161.2 75.9h1.3v1.4h-1.3zM203.8 129.1h1.3v1.5h-1.3zM171.2 72.6h0.9v1h-0.9zM162.3 107.3h1.3v1.3h-1.3zM160.6 81.3h0.9v0.8h-0.9zM206.6 123.9h1.3v1.5h-1.3zM150.9 137.3h1.5v1.7h-1.5zM164.7 95.5h1.3v1h-1.3zM140.4 95.6h1v1.2h-1zM236.4 110.9h1.3v1.3h-1.3zM192.3 47h1v1h-1zM177.2 75.8h0.9v0.9h-0.9zM213.5 121.4h1.5v1.6h-1.5zM188.8 44.6h1.3v1.3h-1.3zM188.4 52.3h1.5v1.7h-1.5zM136.1 109.5h0.9v1h-0.9zM148.7 52.3h0.9v1h-0.9zM129.9 33.6h1v1.2h-1zM160.6 86.9h1v0.8h-1zM176.5 82.8h1.3v1.1h-1.3zM203.8 105.2h0.9v0.8h-0.9zM148.2 109.9h1v1h-1zM159.8 73.2h1.3v1.4h-1.3zM162.6 108.9h0.9v0.8h-0.9zM129.7 51.6h1.3v1.5h-1.3zM162.6 54.3h0.9v0.9h-0.9zM162.1 61.3h1.5v1.4h-1.5zM130.3 65h1.5v1.3h-1.5zM180.7 108.7h0.9v0.8h-0.9zM220.2 54.3h0.9v0.8h-0.9zM210.6 104.7h1.3v1.1h-1.3zM231.3 59.7h1.2v1.3h-1.2zM195.8 28.9h1v0.8h-1zM196.6 76.6h1.2v1.4h-1.2zM172.1 89.1h1.3v1.3h-1.3zM221.5 134.1h1.2v1.3h-1.2zM201.2 50.4h1v1h-1zM132.8 111h1v1.2h-1zM202.2 137.8h1.2v1.2h-1.2zM210 59.9h1.2v1.3h-1.2zM141.8 49.5h0.9v0.8h-0.9zM174.3 101.9h1v0.9h-1zM186.2 98.5h1.5v1.4h-1.5zM176.3 112h1.2v1.3h-1.2zM163.3 127.6h1.5v1.7h-1.5zM187.3 64.7h1.3v1.1h-1.3zM210.6 79.4h0.9v1h-0.9zM130 39.1h0.9v0.8h-0.9zM159 128.6h1.3v1.4h-1.3zM178 89.4h1.3v1.5h-1.3zM152.9 60.5h1.5v1.4h-1.5zM169.4 47.8h1.3v1h-1.3zM170 47.6h1v1h-1zM215.1 92.2h1.5v1.7h-1.5zM196.1 70.8h0.9v0.8h-0.9zM198.9 87.8h1.3v1.2h-1.3zM195.7 34.8h1.2v1.2h-1.2zM229.8 35.2h1v1.1h-1zM139.5 50.2h1v1.2h-1zM229.9 132.4h1v0.9h-1zM170.6 87.5h1.5v1.2h-1.5zM174.4 116.6h1v0.9h-1zM191.7 117.3h1v0.9h-1zM167.2 51.3h0.9v1.1h-0.9zM214.2 69.9h1v0.8h-1zM203.1 77.7h1v0.9h-1zM186.7 44.2h1.2v1.3h-1.2zM225.1 136.6h0.9v0.8h-0.9zM207.5 60.4h1.5v1.5h-1.5zM172.8 51.2h0.9v1.1h-0.9zM232.9 88.3h0.9v1h-0.9zM211.1 92.2h1.3v1.3h-1.3zM134.5 122.5h1.2v1h-1.2zM178.1 79.9h1v0.9h-1zM215.2 123.1h1v1.2h-1zM144 127.1h1.2v1.4h-1.2zM142.3 89.8h1v1h-1zM160.4 43.3h1.2v1.1h-1.2zM200 131.2h0.9v1h-0.9zM146.8 64.3h1.2v1.4h-1.2zM193.4 96.9h1.5v1.8h-1.5zM199.2 101.8h1.2v1.2h-1.2zM200.1 30.8h1.5v1.8h-1.5zM182.3 130.4h1v0.8h-1zM161.8 125.4h1.3v1.5h-1.3zM219.2 97.7h1v1h-1zM197.4 31.9h1.2v1.3h-1.2zM190.5 33.6h1.3v1.2h-1.3zM202.9 69.5h1v1.1h-1zM149.2 130.2h1.5v1.4h-1.5zM220.8 45.6h0.9v1h-0.9zM226 35.4h1.3v1.5h-1.3zM166.9 29.6h1.5v1.8h-1.5zM182.3 63.5h1.2v1.2h-1.2zM183.8 115.1h1v0.8h-1zM223 112.9h1.2v1.3h-1.2zM163.3 63.9h1.3v1.3h-1.3zM208.1 63.5h1.5v1.7h-1.5zM197.6 118.9h1.5v1.6h-1.5zM195.6 85.4h0.9v0.8h-0.9zM155.2 118.2h0.9v1h-0.9zM180.1 104.3h0.9v1.1h-0.9zM179.2 51.8h1.2v1.2h-1.2zM156.9 99.1h1.5v1.6h-1.5zM207.1 54.2h1.3v1.2h-1.3zM188.4 100.1h1.3v1.4h-1.3zM174.9 108.9h0.9v0.9h-0.9zM137.3 43.8h1.2v1.1h-1.2zM226.2 136.5h1.3v1.3h-1.3zM211.5 108.6h1v0.9h-1zM152.2 109.1h1v1.1h-1zM225.1 122.5h1.2v1.4h-1.2zM202.9 61.5h1.3v1.2h-1.3zM231.5 103.6h1.3v1.5h-1.3zM141.9 119.2h1.3v1.2h-1.3zM196 46.5h1.2v1h-1.2zM190.4 99.8h1v1.2h-1zM167.8 31.5h0.9v1h-0.9zM214 105h1v1h-1zM213.1 73h1.2v1.4h-1.2zM189 126.6h1v1.1h-1zM228.8 114.4h1.3v1.6h-1.3zM220.4 119.1h1.3v1.4h-1.3zM174.8 78.8h1.5v1.4h-1.5z"/><path fill="#3c3c3c" d="M130.1 87.9h1.3v1.5h-1.3zM206.6 86.4h1.3v1.2h-1.3zM206.2 106.5h1.3v1.5h-1.3zM139.1 46.6h1.2v1h-1.2zM132.1 105.7h1.5v1.6h-1.5zM149.1 129.4h1.3v1.5h-1.3zM190.5 78.9h1.5v1.6h-1.5zM213.3 64.9h1v1h-1zM157.1 106.5h1.2v1h-1.2zM131.2 133.7h1.5v1.5h-1.5zM151.4 135.4h1.5v1.5h-1.5zM149.2 39.5h1.3v1.3h-1.3zM137.8 70.2h1.5v1.8h-1.5zM222.1 80h1v0.9h-1zM215.6 72.7h0.9v0.7h-0.9zM144.6 106.9h1.2v1.3h-1.2zM152 62.9h1v0.9h-1zM151.1 91h0.9v0.9h-0.9zM196.9 70.7h1.5v1.2h-1.5zM234.5 117.1h1.2v1h-1.2zM233.8 134.7h0.9v1.1h-0.9zM233.7 88.4h0.9v0.9h-0.9zM168.1 116.8h1.2v1.1h-1.2zM193 85.3h1.2v1.2h-1.2zM200.4 50.3h1.3v1.5h-1.3zM164 96.7h0.9v1h-0.9zM197.3 99.7h1.3v1.1h-1.3zM212.4 72.2h1v1.1h-1zM143.9 119.8h1.3v1.2h-1.3zM156.7 36.9h1.5v1.5h-1.5zM207.6 137.7h1.2v1.1h-1.2zM195.7 46.8h1.3v1.5h-1.3zM216.9 79.3h1v0.9h-1zM130.3 98.4h1v1h-1zM213.4 47.9h1.5v1.8h-1.5zM131 70.7h1.2v1.1h-1.2zM138.7 100.1h1.5v1.7h-1.5zM204 87.3h1.2v1.1h-1.2zM169.8 64.2h1v0.8h-1zM140.6 63.4h1.2v1.2h-1.2zM184.5 91.7h1v1.1h-1zM219.9 106.4h1v1.1h-1zM219.8 70.6h1.2v1.4h-1.2zM150.7 99.2h0.9v0.8h-0.9zM226.3 50.7h1.3v1.5h-1.3zM167.5 80.2h1.5v1.6h-1.5zM197.8 117.5h1.2v1.2h-1.2zM204.1 90.3h1v1h-1zM141.1 106.3h0.9v0.9h-0.9zM201.9 45.7h1v1.1h-1zM159.6 103.9h0.9v0.7h-0.9zM216.4 43.2h0.9v1h-0.9zM138.8 132.8h0.9v1h-0.9zM161.6 124.9h0.9v0.9h-0.9zM166.5 111.2h1v1h-1zM133.4 102.3h1v1.1h-1zM154.1 102.7h1.2v1.3h-1.2zM172.6 116.1h1v1h-1zM196.6 109.2h1.5v1.8h-1.5zM186.8 56h1v0.9h-1zM183.4 75.5h1.5v1.6h-1.5zM221.2 79.7h1v1.2h-1zM187.8 105.2h1v0.9h-1zM154.9 50.2h1.5v1.5h-1.5zM229.5 45.4h0.9v0.9h-0.9zM201.9 93.4h1.5v1.8h-1.5zM149.3 112.2h1.3v1.2h-1.3zM131.4 47.1h1.5v1.7h-1.5zM233.1 112.8h1.2v1.3h-1.2zM146.2 83.6h1.3v1.1h-1.3zM132.1 95.5h1.2v1.2h-1.2zM219.3 99.4h1.2v1.4h-1.2zM162.8 52.1h1v1h-1zM131.4 35.6h1.2v1.2h-1.2zM194.4 68.5h0.9v0.9h-0.9zM173.2 105.5h1.5v1.5h-1.5zM216.9 61.7h1.3v1.2h-1.3zM197.7 104.1h1.5v1.6h-1.5zM205.2 70.2h1.2v1.4h-1.2zM167.8 89.3h1.5v1.8h-1.5zM152.5 110.5h0.9v0.9h-0.9zM158.6 56.3h1v1.1h-1zM214.5 125.6h1.2v1.1h-1.2zM177.2 67.2h1.3v1.2h-1.3zM152.2 62.8h1.5v1.7h-1.5zM213.6 123.1h1.5v1.5h-1.5zM153.2 104.9h1.3v1.1h-1.3zM187.6 127.3h1.3v1.1h-1.3zM134.8 63.6h1.5v1.4h-1.5zM203.6 32.8h0.9v0.7h-0.9zM233.3 47.7h0.9v1h-0.9zM208.3 86.7h1.3v1.3h-1.3zM161.3 85.6h1.2v1.3h-1.2zM198.9 109.1h1.3v1.3h-1.3zM233.9 77.9h1.2v1h-1.2zM138.4 34.6h1.3v1.3h-1.3zM145.2 87.9h1.5v1.5h-1.5zM180.5 77.4h1.2v1.1h-1.2zM192.3 55.5h1.5v1.4h-1.5zM165.7 117.2h0.9v1h-0.9zM175.6 85.8h1.2v1.3h-1.2zM212.5 53.5h1.5v1.8h-1.5zM157.9 109.7h1.3v1.3h-1.3zM176 130.5h1.3v1.1h-1.3zM214.3 135.9h1.3v1.3h-1.3zM141.4 121.5h1.3v1.3h-1.3zM194.1 91.4h1.3v1.4h-1.3zM182.2 43.8h0.9v1h-0.9zM158.3 99.4h1.5v1.5h-1.5zM140 33.4h1.2v1.1h-1.2zM202.1 127h0.9v0.8h-0.9zM168.9 32.5h1.3v1.1h-1.3zM190.1 48.1h1.5v1.6h-1.5zM171.1 135h0.9v1.1h-0.9zM194.7 98.6h1.2v1.2h-1.2zM182.9 112.6h1v1h-1zM155.7 102.2h1.5v1.7h-1.5zM204.4 70.3h1v1h-1zM184.8 64.5h1v1.1h-1zM161.3 137.3h1.2v1.2h-1.2zM164.1 36.2h0.9v1h-0.9zM155.6 88.1h1.5v1.5h-1.5zM151.2 72.1h1.5v1.5h-1.5zM191.4 35.4h0.9v1h-0.9zM230.5 78.4h1.2v1.1h-1.2zM191.7 112.7h1v1h-1zM140.5 57.1h1.2v1.3h-1.2zM200.9 135h0.9v1h-0.9zM172.2 84.6h1.2v1h-1.2zM158.5 66.7h1.3v1.2h-1.3zM188.6 137h1.3v1.1h-1.3zM233.7 91.7h1v1.2h-1zM146.1 110.7h1.3v1.4h-1.3zM164.2 81.4h1.5v1.7h-1.5zM147.3 49.9h1.5v1.6h-1.5zM221.3 103.2h0.9v0.9h-0.9zM185.5 129.3h1.3v1.4h-1.3zM203.9 73.7h1.5v1.4h-1.5zM139.1 130.6h1.5v1.2h-1.5zM219.4 128.3h1.5v1.3h-1.5zM158 62.1h1.2v1h-1.2zM232.6 53.1h1v1.2h-1zM150.8 68.7h1.2v1.2h-1.2zM143.6 52.9h1.5v1.4h-1.5zM149.3 99h1.3v1.4h-1.3zM219.6 53.1h1.2v1.3h-1.2zM191.5 120.8h1.3v1.3h-1.3zM213.4 56.2h1.2v1.2h-1.2zM169.6 102.4h1.3v1.5h-1.3zM196.1 33.5h1.5v1.6h-1.5zM203.5 36.6h1.5v1.5h-1.5zM206.2 52.8h0.9v0.9h-0.9zM170.6 74h0.9v0.9h-0.9zM163.9 101.6h1.5v1.7h-1.5zM154.3 60.7h1v0.9h-1zM190.5 58.8h1v0.8h-1zM194.8 60.1h1.2v1h-1.2zM173.6 68.8h1.3v1.4h-1.3zM235.5 123.1h1.3v1.2h-1.3zM152.1 75.1h1.2v1h-1.2zM149.6 105.1h1.2v1.2h-1.2zM169.1 46.5h1.5v1.5h-1.5zM187.3 75.4h1.5v1.4h-1.5zM219.9 43.5h1v0.9h-1zM161.8 115.5h1.3v1.3h-1.3zM208.8 78.1h1.3v1.5h-1.3zM223.9 37.2h1v1.1h-1zM142.3 125.6h1v1h-1zM141.5 137h1.3v1.3h-1.3zM225.7 68.3h0.9v0.8h-0.9zM165.2 54.8h1.3v1.1h-1.3zM153 52.7h0.9v1h-0.9zM142.4 56.7h1.2v1h-1.2zM159.5 41.8h0.9v0.9h-0.9zM150.8 61.1h1.3v1.3h-1.3zM128.8 58.1h1.2v1.2h-1.2zM214.7 126.6h0.9v0.8h-0.9zM230.3 77.7h1.2v1.4h-1.2zM174.4 109.5h1.3v1.4h-1.3zM201.8 39.4h1.5v1.5h-1.5zM213.8 38.5h1.2v1.4h-1.2zM174.6 85h1.5v1.7h-1.5zM192.1 64.9h1v0.9h-1zM213.9 89.6h1.3v1.5h-1.3zM226.3 84.1h1.5v1.5h-1.5zM199.7 70.1h1.2v1h-1.2zM213.1 134.7h1.3v1.5h-1.3zM179.4 98.9h1.3v1.1h-1.3zM179.5 124h1v1.1h-1zM197.5 43.8h1v1h-1zM132.6 119.5h0.9v0.8h-0.9zM214.6 70.7h1.2v1.1h-1.2zM226.4 137h1v0.9h-1zM214.6 105.3h1.2v1h-1.2zM177.1 121.7h1.2v1.3h-1.2zM160.3 58.6h1.5v1.2h-1.5zM194.3 74.7h1.5v1.3h-1.5zM153.5 133.9h1v1h-1zM217.9 114.2h1.2v1.2h-1.2zM192.3 104.9h1v0.9h-1zM166.2 109.8h1.2v1.1h-1.2zM172.4 116.1h1.2v1.3h-1.2zM174 91.9h1.2v1.2h-1.2zM187.8 93h1.3v1.2h-1.3zM155 86.7h1v0.8h-1zM144.3 35.4h1.2v1.1h-1.2zM221.9 127.7h1v0.8h-1zM177 58.9h1.3v1.3h-1.3zM223.9 80h0.9v0.8h-0.9zM229.2 72.2h1v1h-1zM174.1 28.8h1v1.1h-1zM207.9 134.9h0.9v0.9h-0.9zM143.1 126.3h1v1.1h-1zM132.1 99.7h1.3v1.5h-1.3zM147.1 36.6h1.3v1.5h-1.3zM191.3 118.3h1v1.2h-1zM201.7 126.9h1.2v1.1h-1.2zM213.7 87.8h1.3v1.5h-1.3zM174.9 47.5h0.9v0.9h-0.9zM204.6 92h1.5v1.3h-1.5zM176.7 82.5h0.9v1.1h-0.9zM167.8 68.1h1.3v1.4h-1.3zM136.9 62.9h0.9v0.9h-0.9zM145.6 73.2h1v1.1h-1zM177 100.8h1v1.2h-1zM162.8 33.4h1v1h-1zM140.6 74.2h1v1h-1zM165.1 111.9h1v0.8h-1zM232.8 85.9h1v1h-1zM205.4 56.3h0.9v0.9h-0.9zM233.8 109.7h1v0.8h-1zM136 127.5h1.5v1.7h-1.5zM141.3 97.2h1.3v1.5h-1.3zM232.5 67.8h0.9v0.8h-0.9zM170.2 84.1h1.5v1.8h-1.5zM149.1 42h1.5v1.5h-1.5zM221.3 86.3h1.2v1h-1.2zM157.1 95h1.2v1.2h-1.2zM221 65h1v1h-1zM187.1 95.5h1.5v1.3h-1.5zM173.6 88.2h1.3v1.4h-1.3zM137.6 50.9h1.5v1.5h-1.5zM219 84.5h1.5v1.7h-1.5zM197.3 40.2h1.2v1.4h-1.2zM220.8 38h1v0.9h-1zM152.1 71.8h0.9v0.8h-0.9zM162.1 51.3h1.3v1.3h-1.3zM139.5 113.1h1v1h-1zM209.8 70.7h1v0.9h-1zM179.6 110.3h1.5v1.5h-1.5zM193.5 64.6h1.3v1.4h-1.3zM177.7 66.4h1.5v1.5h-1.5zM181.5 59.4h0.9v0.8h-0.9zM178.1 107.9h1v0.9h-1zM137.3 78.9h1v1h-1zM181.6 135.2h1.2v1.3h-1.2zM153.9 96.2h1.5v1.4h-1.5zM228.2 106h0.9v0.9h-0.9zM193.2 93.5h1.3v1.5h-1.3zM196.5 106.3h1.3v1.5h-1.3zM197.1 110.2h0.9v1.1h-0.9zM199.4 84.8h0.9v0.9h-0.9zM183.4 128.8h1.2v1.2h-1.2zM235 100.5h1.3v1.5h-1.3zM175.9 102.2h1.3v1.4h-1.3zM216.1 137.7h1v1.1h-1zM222 99.6h1.3v1.5h-1.3zM165.3 122.5h1.3v1.4h-1.3zM158.8 60.3h1.5v1.3h-1.5zM200.2 60h1.3v1.3h-1.3zM230.4 118.4h1.2v1.4h-1.2zM190.5 76.4h1.5v1.4h-1.5zM190.9 135.4h1.3v1.4h-1.3zM163 116.5h1v1h-1zM200.5 112.6h0.9v0.9h-0.9zM203.5 99.3h1.3v1.3h-1.3zM134.7 125.4h1.5v1.2h-1.5zM164.9 71.6h1.3v1.4h-1.3zM184.5 60.9h1v1.1h-1zM211.4 86.3h1.2v1.1h-1.2zM198.9 95.4h1v0.9h-1zM200.3 86.7h0.9v0.9h-0.9zM190 79.3h0.9v0.9h-0.9zM175.2 95.1h1.2v1.3h-1.2zM205.5 88.4h0.9v0.8h-0.9zM216.7 55.6h1.5v1.4h-1.5zM162 59.8h0.9v0.9h-0.9zM138.1 76.8h1.3v1.3h-1.3zM209.9 77.7h1v1.1h-1zM170.9 57.8h1.3v1.5h-1.3zM166.4 93.8h0.9v0.8h-0.9zM148.1 65.3h1.2v1.3h-1.2zM202.5 119.4h1.3v1.3h-1.3zM148.2 80h0.9v0.8h-0.9zM141.5 122.2h1v1.1h-1zM217.3 75.9h1.5v1.6h-1.5zM221.6 43.1h1.5v1.7h-1.5zM147.8 117.6h0.9v1h-0.9zM169.3 80.7h1.5v1.5h-1.5zM197.7 107.6h1.5v1.2h-1.5zM204.4 72.7h1v1.1h-1zM165.6 132.5h0.9v0.9h-0.9zM160.7 60.8h1v1.1h-1zM183.5 43.4h0.9v0.9h-0.9zM188 67.6h0.9v0.8h-0.9zM191.4 105.4h1.5v1.7h-1.5zM228.6 110.9h1v1h-1zM220.7 111.6h1.5v1.3h-1.5zM194.4 78.8h1.5v1.6h-1.5zM165.7 94h0.9v0.8h-0.9zM160.4 74.9h1.2v1.4h-1.2zM188.5 28.7h1.2v1h-1.2zM152.7 32.8h1v1.1h-1zM228.2 101.4h0.9v0.9h-0.9zM139 45h0.9v1h-0.9zM164.1 76.9h0.9v0.7h-0.9zM157.1 88.9h1.5v1.4h-1.5zM226 91.8h1.2v1.2h-1.2zM213.7 53.7h0.9v0.9h-0.9zM191.5 35.2h1v1.1h-1zM163.2 48.3h1v1h-1zM204.4 126.7h0.9v1.1h-0.9zM167.1 38.1h1.3v1.3h-1.3zM161.3 132.5h1.2v1.3h-1.2zM191 73.6h1.3v1.2h-1.3zM180.6 67h1v0.8h-1zM144.2 92.2h1v1.1h-1zM128.2 116.1h1.2v1.4h-1.2zM222 46.5h0.9v1.1h-0.9zM144.8 123.5h1.3v1.3h-1.3zM146.1 112.6h1.2v1h-1.2zM213.2 67.3h1.5v1.6h-1.5zM222.4 35.7h1.3v1.2h-1.3zM182.4 53.3h1.2v1.1h-1.2zM228.1 110.7h0.9v0.8h-0.9zM178.1 96h1.5v1.5h-1.5zM231 94.4h1.3v1.3h-1.3zM133.8 80.7h0.9v0.9h-0.9zM153.9 108.5h1.5v1.5h-1.5zM185.3 136.2h1.2v1.3h-1.2zM127.9 96h1v1h-1zM132.6 131.2h0.9v0.8h-0.9zM229.7 135.5h1v1.1h-1zM203.8 56.5h1v0.9h-1zM176.4 64h1.3v1.1h-1.3zM193 79.9h1.3v1.2h-1.3zM169.7 84.2h0.9v0.7h-0.9zM181.1 75.7h0.9v1h-0.9zM206.4 88.7h1v1.1h-1zM209.3 134.9h1.3v1.3h-1.3zM172.9 94.3h1.2v1h-1.2zM153.9 59.5h1.5v1.5h-1.5zM209.8 83.6h1v1.2h-1zM207.3 52h0.9v0.9h-0.9zM137.5 130h1v0.9h-1zM170.4 61.4h1.2v1.1h-1.2zM176.2 107h0.9v1h-0.9zM148.2 73.3h0.9v0.8h-0.9zM210.1 115.4h1v0.9h-1zM217.8 115.4h1.2v1.2h-1.2zM128.6 118.6h1v0.9h-1zM203.5 71.9h1.2v1.3h-1.2zM189.6 49h1.5v1.3h-1.5zM207.8 74.3h0.9v1h-0.9zM168 63.9h1.3v1.1h-1.3zM203.3 66.9h1.5v1.5h-1.5zM234.9 110.1h1v1h-1zM188.1 78.2h0.9v0.9h-0.9zM233.9 64.7h0.9v0.8h-0.9zM190 60.1h1.5v1.4h-1.5zM170.5 134.7h0.9v0.8h-0.9zM193.5 56.2h1.3v1.4h-1.3zM185.5 92.6h1.5v1.6h-1.5zM150.6 47.7h1v1h-1zM168.1 105.9h1v0.8h-1zM218.4 114.8h1.5v1.3h-1.5zM151.7 100.2h1.5v1.7h-1.5zM196.1 64.9h0.9v0.7h-0.9zM199.7 30.7h1.5v1.7h-1.5zM150.8 111.8h1.5v1.7h-1.5zM199.5 36.9h1.2v1.4h-1.2zM192.8 63.6h1.2v1.1h-1.2zM203.9 101.1h1.5v1.4h-1.5zM168.5 91.1h1.5v1.4h-1.5zM213.1 107.4h1.3v1.4h-1.3zM172.7 36.8h1.3v1.4h-1.3zM174.6 70.2h0.9v0.9h-0.9zM217.2 125.5h1.3v1.5h-1.3zM161.3 118.7h1.5v1.3h-1.5zM132 79.2h1.3v1.2h-1.3zM151.1 68.8h1v1.1h-1zM150.8 110.5h0.9v0.9h-0.9zM200.7 59.3h1.2v1.2h-1.2zM182.6 70.5h1.2v1h-1.2zM172.9 100.1h1.5v1.4h-1.5zM148 47.6h0.9v0.7h-0.9zM181.8 56.6h1.2v1.3h-1.2zM199.9 74.3h1.2v1.2h-1.2zM225 49.1h1v1h-1zM212.2 47.5h1.5v1.4h-1.5zM180.1 102.2h1.2v1.4h-1.2zM198.7 127.3h1.3v1.3h-1.3zM219.5 57.3h0.9v1h-0.9zM172.9 43.9h1.2v1.3h-1.2zM199.5 60.9h1.2v1.1h-1.2zM169.3 45.7h0.9v0.8h-0.9zM233.4 32.1h1.5v1.4h-1.5zM168.9 33.4h0.9v0.9h-0.9zM232.7 70.8h1v1h-1zM176 135.2h1v1.1h-1zM147.3 82.4h0.9v0.8h-0.9zM160.9 111.3h1.5v1.7h-1.5zM209.5 117.1h0.9v0.7h-0.9zM191 88.2h1.3v1.5h-1.3zM195.9 40.9h1.2v1.1h-1.2zM132.6 103.4h1v0.9h-1zM179.6 132.6h1.2v1.2h-1.2zM187.6 81.2h1.5v1.5h-1.5zM166 67.5h1v0.9h-1zM228.4 105.8h1.3v1.6h-1.3zM135.2 92.3h1.2v1h-1.2zM161.5 119.1h1v1.1h-1zM200.9 77.6h1.2v1h-1.2zM235.2 43.8h1.5v1.7h-1.5zM132.4 64.5h1.3v1.2h-1.3zM161.4 73.2h1.5v1.3h-1.5zM230.7 123.5h1.2v1.4h-1.2zM196.5 98.7h1.3v1.5h-1.3zM218 61.2h1.2v1.1h-1.2zM169 39.2h1.5v1.7h-1.5zM210.9 80.6h0.9v1h-0.9zM212.7 78.6h1.5v1.5h-1.5zM197.5 60.6h1.3v1.4h-1.3zM216.5 113h1v1.2h-1zM167.2 121.6h1.3v1.1h-1.3zM155.6 79.1h1.2v1.2h-1.2zM206 111.3h1.2v1.3h-1.2zM179.4 42h1v0.8h-1zM198.6 103.8h0.9v0.8h-0.9zM187 73.9h0.9v1h-0.9zM207.5 93h1.5v1.7h-1.5zM181.9 129.1h1.3v1.1h-1.3zM150.5 69.3h1v0.8h-1zM232.9 41.5h1.2v1h-1.2zM225 107.6h1.2v1h-1.2zM183.7 99.3h1v0.9h-1zM129.7 111.3h1v1h-1zM228.9 33.9h0.9v0.8h-0.9zM226.1 105.9h1v0.8h-1zM206.5 69.6h1v1.2h-1zM152.4 117.5h0.9v1h-0.9zM165.5 58.3h0.9v0.9h-0.9zM207.8 136.4h1.5v1.6h-1.5zM140.9 54.6h0.9v0.8h-0.9zM228.5 91.4h1.3v1.4h-1.3zM179.1 131.9h1.2v1h-1.2zM154.3 78.2h1v1h-1zM174.7 29.8h1.5v1.7h-1.5zM184.9 113.5h1.5v1.5h-1.5zM157 115.2h1.3v1.3h-1.3zM230.2 57.7h0.9v0.7h-0.9zM156.4 95.1h1.5v1.7h-1.5zM181.5 38.2h1v1.1h-1zM222.5 53.6h1.5v1.3h-1.5zM145.7 125.2h1v1.1h-1zM138.8 61.8h1v1.2h-1zM167.5 98.9h1.3v1.5h-1.3zM209 60.9h1.3v1h-1.3zM199.7 114.7h0.9v1h-0.9zM164.5 113.3h1.5v1.6h-1.5zM176.3 101h1v0.9h-1zM205.7 98.9h1.3v1.1h-1.3zM140.6 40.6h1.2v1.3h-1.2zM179.5 81.7h1.5v1.6h-1.5zM157.1 130.6h0.9v0.7h-0.9zM134.4 99.3h0.9v1h-0.9zM144.2 100.1h1.2v1.2h-1.2zM188.1 51.3h0.9v1h-0.9zM162.6 102.2h1.5v1.4h-1.5zM195.1 61.5h1.2v1.2h-1.2zM196.1 43.3h1v1.2h-1zM199.4 53.8h1.5v1.3h-1.5zM199.6 137.6h0.9v0.8h-0.9zM146.4 81.7h1v1h-1zM168.7 57.1h1v1.1h-1zM134 134.3h0.9v0.9h-0.9zM139.8 117.2h1v0.8h-1zM196 30.7h1.3v1.4h-1.3zM164.5 45.3h0.9v0.9h-0.9zM139 47.3h1v0.9h-1zM168.6 84.9h1.5v1.2h-1.5zM227.7 109.9h1.3v1.2h-1.3zM214.7 78.5h1.5v1.5h-1.5zM206.7 51.5h1.2v1.3h-1.2zM211.6 81.5h1v1h-1zM233.1 58.4h1v0.8h-1zM194.1 70.1h1.3v1.3h-1.3zM158.5 100.9h1.3v1.2h-1.3zM200.7 68.9h1v1.2h-1zM127.3 101.9h1.3v1.1h-1.3zM141.2 108h0.9v0.9h-0.9zM226.9 124.5h0.9v0.9h-0.9zM171.7 92.6h1.2v1.2h-1.2zM140.1 43.6h1v1h-1zM153.9 109.9h1.2v1.1h-1.2zM192.2 32.7h1v0.9h-1zM167.8 108.2h1v1.1h-1zM195.9 79.9h0.9v0.9h-0.9zM149.4 94.7h0.9v0.9h-0.9zM137.5 81.4h1.3v1.1h-1.3zM131.8 111.4h1.3v1.5h-1.3zM228.2 101.9h1.3v1.3h-1.3zM199.8 75.9h1.3v1.1h-1.3zM163.2 121.3h1v1.2h-1zM166.2 39.3h1.2v1.4h-1.2zM194.4 61.9h1.3v1.3h-1.3zM144.2 117.8h1.5v1.7h-1.5zM134.2 50.9h0.9v1.1h-0.9zM192.7 102.9h1.3v1.4h-1.3zM130.9 49.5h1v1h-1zM216.2 47.9h0.9v1.1h-0.9zM196.9 54.6h1.2v1.3h-1.2zM197.9 90h1.5v1.7h-1.5zM149.1 52.2h1.5v1.3h-1.5zM188.2 69.4h1v0.9h-1zM162.3 45.5h1.3v1.6h-1.3zM177.4 135.3h1v1h-1zM233.1 93.6h0.9v0.8h-0.9zM138.3 109.4h1v1.1h-1zM135.5 58.8h1.5v1.3h-1.5zM233.9 136.6h1.5v1.5h-1.5zM204.8 56.7h1.3v1.3h-1.3zM190.2 110.6h1v1h-1zM183 91.2h1.3v1.2h-1.3zM178.6 58.7h1.2v1.1h-1.2zM216.4 85.3h1.5v1.3h-1.5zM221.2 40.3h1.5v1.6h-1.5zM204.4 74.7h1v0.9h-1zM211.4 57.7h1v1h-1zM175.2 106.1h1v0.8h-1zM174.7 110.3h1v1.1h-1zM146.8 70.7h0.9v0.7h-0.9zM170.4 60.6h1v1.2h-1zM135.1 90.5h1v1.1h-1zM206.5 53h1v1h-1zM192.2 68.2h1.2v1.2h-1.2zM208.6 53h1.3v1.5h-1.3zM138.5 30.5h1.3v1.5h-1.3zM209.5 126.6h1.5v1.8h-1.5zM176.6 59.9h1.2v1.2h-1.2zM190.8 93.7h0.9v0.8h-0.9zM173.2 117.8h1.2v1.2h-1.2zM233.4 64.2h1v0.9h-1zM173 39.7h1.5v1.7h-1.5zM177.6 93.5h1.5v1.7h-1.5zM223.8 85.3h1.2v1.3h-1.2zM178.3 112.7h1.5v1.4h-1.5zM204.3 81.7h1.3v1.3h-1.3zM185.8 38.9h1.2v1.1h-1.2zM184.5 53.8h1.2v1h-1.2zM231.2 31.2h1.3v1.4h-1.3zM186.1 66.7h1.5v1.7h-1.5zM141.9 116.1h1v1.2h-1zM231.5 102.3h1v1.1h-1zM141.6 59.2h1v0.9h-1zM147.9 47.8h1.3v1.4h-1.3zM210.6 67h1.2v1.1h-1.2zM140.1 74.8h0.9v1h-0.9zM197.5 89.2h1.2v1.1h-1.2zM193.4 108.7h1.2v1.4h-1.2zM168 52.4h1.5v1.4h-1.5zM222.4 29.7h0.9v0.9h-0.9zM194 101.7h1.2v1.2h-1.2zM222.3 124.4h1.3v1.5h-1.3zM179.7 54.1h0.9v0.8h-0.9zM183.9 91.5h1v0.9h-1zM166.8 92.6h1.5v1.7h-1.5zM227.5 31.4h1.2v1.1h-1.2zM182.5 67.8h1.5v1.2h-1.5zM133.8 115.6h1.5v1.6h-1.5zM150.2 46.7h1.5v1.7h-1.5z"/><path fill="#5e5e5e" d="M176 107.6h0.9v0.7h-0.9zM148.1 59.8h1.3v1.3h-1.3zM169.2 122.5h1.5v1.5h-1.5zM216.9 134h1v1.1h-1zM224.7 90.5h1.3v1.1h-1.3zM193 78.6h1.5v1.7h-1.5zM234.8 77.7h1.2v1.1h-1.2zM160.8 64.5h1.5v1.4h-1.5zM204.8 120h1v0.9h-1zM176.1 75.8h1.3v1.3h-1.3zM170.6 65.8h0.9v1.1h-0.9zM180.4 48.1h1.3v1.4h-1.3zM211 125.3h1.2v1.1h-1.2zM204 109.3h0.9v1.1h-0.9zM149.2 62.7h1.3v1.5h-1.3zM193.5 66.9h1.3v1.3h-1.3zM232.6 106h0.9v1h-0.9zM171.3 130.2h1v0.9h-1zM179.8 125.9h1.2v1.2h-1.2zM160.5 30.3h1.5v1.2h-1.5zM188.2 64.8h1.3v1.3h-1.3zM157.9 78.4h1.3v1.5h-1.3zM155.9 97.9h0.9v1h-0.9zM224.9 75.2h1.5v1.3h-1.5zM140.4 61.8h1.2v1.2h-1.2zM189.8 89h1.5v1.8h-1.5zM173.3 59.5h0.9v1.1h-0.9zM179.7 132.9h1v0.8h-1zM198.5 130h1.3v1.4h-1.3zM186 123.8h1.5v1.7h-1.5zM188.6 94.2h1.5v1.5h-1.5zM199.4 62.4h0.9v1h-0.9zM195.1 86.4h1.5v1.4h-1.5zM180.2 116.3h1.2v1h-1.2zM220.1 70.5h0.9v0.8h-0.9zM138.1 113.9h0.9v1h-0.9zM226.7 100.3h1v1h-1zM182.2 117.9h1v1.1h-1zM204.6 63.5h1.3v1.5h-1.3zM217.7 51.5h1.2v1.3h-1.2zM209.7 82.1h1.5v1.4h-1.5zM153.9 37.1h1.3v1.1h-1.3zM134.4 123.4h0.9v1h-0.9zM213.7 68.2h1.5v1.5h-1.5zM222 74.7h1.2v1.3h-1.2zM157.6 81.3h1.2v1.3h-1.2zM149.6 88.2h1.2v1.4h-1.2zM148.8 34.7h1.2v1.3h-1.2zM166.1 130h0.9v0.7h-0.9zM210.9 38h0.9v0.8h-0.9zM148.6 48.6h1.2v1.2h-1.2zM182.1 81h1.5v1.7h-1.5zM140.4 136.9h1v0.9h-1zM160.4 70.1h1.3v1.5h-1.3zM137.1 130.6h1.3v1.5h-1.3zM161.8 103.7h0.9v1h-0.9zM148.2 67.6h1.5v1.4h-1.5zM150.1 46.6h0.9v0.7h-0.9zM163.1 62.9h1.2v1.4h-1.2zM182.7 91.1h1.5v1.5h-1.5zM181.6 30.1h1.5v1.5h-1.5zM192.2 69.5h1.2v1.2h-1.2zM148.6 43.4h0.9v0.9h-0.9zM193.9 77.3h1v1.2h-1zM140.8 63.6h1.3v1.3h-1.3zM196.8 107.9h1.5v1.4h-1.5zM230.3 66.4h1.5v1.7h-1.5zM198.5 134.6h1.5v1.3h-1.5zM175.1 88h1.5v1.8h-1.5zM150.1 46h1v0.9h-1zM135.2 40.3h0.9v0.8h-0.9zM172.7 122.8h1.2v1.3h-1.2zM172.1 128.5h1.3v1.2h-1.3zM199.3 111.8h1.3v1.3h-1.3zM233.6 126.4h1.2v1.1h-1.2zM234 87.5h1.5v1.7h-1.5zM139.5 103.7h1.5v1.5h-1.5zM226.9 137h1v0.8h-1zM214 60.6h1v1.1h-1zM186 96.6h1v0.9h-1zM204.4 46h1.3v1.4h-1.3zM161.3 52.7h1.5v1.6h-1.5zM129 62.4h1.2v1.1h-1.2zM137 111.8h1v0.9h-1zM204.5 133.4h0.9v0.8h-0.9zM230.7 106.2h1v0.9h-1zM178.5 101h1.3v1.1h-1.3zM168 98.4h1.3v1.4h-1.3zM212.3 108.4h1.2v1.3h-1.2zM215.9 93.9h0.9v0.9h-0.9zM145.9 71.7h1.5v1.6h-1.5zM207 116.6h1v1.2h-1zM169.7 42.4h0.9v1.1h-0.9zM229.9 68.7h0.9v1h-0.9zM163.3 115.7h1.5v1.4h-1.5zM195.3 53.4h1.3v1.3h-1.3zM208.8 116.7h1v1h-1zM222 48.3h1.5v1.8h-1.5zM127.8 104h1.3v1.5h-1.3zM195 104.5h1.3v1.5h-1.3zM191.7 58.1h0.9v1.1h-0.9zM144.9 74.3h1.5v1.3h-1.5zM194.4 133.7h0.9v1h-0.9zM185 48.3h1.3v1.5h-1.3zM153.3 137.9h0.9v1h-0.9zM200.3 99h1.3v1.5h-1.3zM163.4 65.1h0.9v1h-0.9zM193 64.2h1.2v1.2h-1.2zM224.6 134.2h1v1.1h-1zM127.9 45.3h1v1.2h-1zM213 67h1v0.8h-1zM236.1 40.9h0.9v1h-0.9zM215.3 68.1h1.3v1.3h-1.3zM150.1 97.7h0.9v1.1h-0.9zM235.9 77.9h1.3v1.4h-1.3zM200.4 91.8h1.2v1.3h-1.2zM228.5 67.9h0.9v0.8h-0.9zM145.7 60.1h1.5v1.7h-1.5zM197 90.9h1.3v1.1h-1.3zM194.9 122.6h0.9v0.9h-0.9zM175.9 68.5h1.5v1.7h-1.5zM146.4 48.1h1v0.9h-1zM144.4 93.5h1.3v1.1h-1.3zM173.5 119.7h0.9v1h-0.9zM153.9 96.2h0.9v0.8h-0.9zM160.2 61.3h1.5v1.4h-1.5zM163.5 73.2h1.3v1.3h-1.3zM194.7 99.2h1v1.1h-1zM141.5 130.5h0.9v1h-0.9zM189.1 71.3h0.9v0.9h-0.9zM163.3 129.9h0.9v0.8h-0.9zM162 105.8h1.5v1.7h-1.5zM131.3 84.2h1.5v1.2h-1.5zM161.2 72.3h1.2v1.3h-1.2zM181.4 77.6h1.3v1.1h-1.3zM154.2 119.1h1.3v1.5h-1.3zM187 99.3h1v0.8h-1zM143.1 127.8h1.3v1.3h-1.3zM230.8 29.1h0.9v0.8h-0.9zM142.2 134.4h1.3v1.1h-1.3zM130.7 132.6h1.3v1.3h-1.3zM197.5 110.6h1v1.2h-1zM143.8 98.7h0.9v1h-0.9zM228.2 89.6h1.2v1h-1.2zM156.3 117.1h1v1h-1zM227.4 114.5h1.3v1.5h-1.3zM185.4 66.7h1.5v1.4h-1.5zM154.6 98h0.9v0.9h-0.9zM231.3 35.7h1.2v1h-1.2zM207.2 52.8h0.9v0.7h-0.9zM183.1 35.4h1.5v1.6h-1.5zM224.9 133.8h1.3v1.1h-1.3zM204.3 108.7h1v1.1h-1zM213.2 54.9h1.3v1.5h-1.3zM205.2 107.1h1.3v1.5h-1.3zM227.6 45.2h1.5v1.4h-1.5zM201.4 79.9h1v1h-1zM136.2 111.2h0.9v0.9h-0.9zM212.3 43.3h0.9v0.8h-0.9zM160 127.2h1.3v1.3h-1.3zM153.7 125.7h0.9v0.7h-0.9zM182.5 69.7h1v0.8h-1zM214.2 74h1.5v1.5h-1.5zM135.7 114.5h1v0.9h-1zM152.6 83h0.9v0.9h-0.9zM152.6 99h1.5v1.3h-1.5zM193.9 36.2h0.9v0.8h-0.9zM190 91.8h1v1h-1zM213.1 53.7h0.9v0.8h-0.9zM192.4 110.1h1.2v1.4h-1.2zM136 33.3h1.3v1.2h-1.3zM154.1 131.9h0.9v0.8h-0.9zM232.2 29.6h1.5v1.8h-1.5zM139.3 41h1v1h-1zM176.1 136.3h1v1h-1zM228.1 85.4h0.9v1h-0.9zM193.2 29.4h0.9v0.9h-0.9zM214.5 35.8h1v1.1h-1zM227.1 61.5h1v1.1h-1zM132.9 121.7h1v0.9h-1zM133 111.6h0.9v1h-0.9zM223.4 85.8h0.9v0.9h-0.9zM175 88.8h1.3v1.5h-1.3zM141.7 132.5h1.3v1.5h-1.3zM185.3 100.8h1v1.1h-1zM208.7 58.1h1v1.1h-1zM146.4 101.8h1v0.9h-1zM178.3 119.6h0.9v1h-0.9zM200.6 108.4h1.3v1.2h-1.3zM192.4 89.8h0.9v0.9h-0.9zM144.7 50.4h0.9v1h-0.9zM176.8 56.9h1.2v1.4h-1.2zM167.6 102.3h1.3v1.5h-1.3zM205.9 123.7h0.9v0.8h-0.9zM133.1 47.2h1.2v1h-1.2zM182.3 100.1h1v0.9h-1zM221.2 49.3h1.3v1.4h-1.3zM130.7 136.5h1v1.1h-1zM205 82h1v0.8h-1zM229.5 36.9h1.2v1.1h-1.2zM236.3 89.6h1.3v1.1h-1.3zM190.3 105.8h1.5v1.6h-1.5zM210.2 136.2h0.9v0.9h-0.9zM140.6 85.5h1.5v1.5h-1.5zM163.5 89.3h1v0.9h-1zM142.9 42.3h1.2v1.4h-1.2zM160.4 73.2h1.5v1.5h-1.5zM197.4 39.9h1.5v1.8h-1.5zM159.5 56.4h1v1h-1zM217.5 55.7h1.5v1.7h-1.5zM148.8 54.5h0.9v0.9h-0.9zM201.9 65.1h0.9v0.8h-0.9zM149.6 125.6h1.3v1.4h-1.3zM164.4 82.9h0.9v0.8h-0.9zM128.8 98.2h1.2v1.1h-1.2zM187.7 105.1h1.3v1.4h-1.3zM235 48.1h1v1.2h-1zM141.7 100.8h1v0.9h-1zM165.2 81.3h1v0.9h-1zM224.2 98.1h1v1h-1zM168.6 66.8h1.3v1.4h-1.3zM198.1 110.7h0.9v0.9h-0.9zM171.8 69.9h1.5v1.3h-1.5zM169.5 128.1h1v0.9h-1zM187.5 99.8h0.9v0.7h-0.9zM236.1 107.3h1.3v1.2h-1.3zM189.5 61.4h1.2v1.2h-1.2zM161.5 89.3h1v0.9h-1zM156.3 132.6h1.3v1.3h-1.3zM193 50.6h1v1.1h-1zM169.8 70.2h1.5v1.3h-1.5zM155.7 45.2h1.2v1.3h-1.2zM138.3 77.2h0.9v0.8h-0.9zM185.1 135.7h1.5v1.4h-1.5zM198.9 46.8h1.2v1.3h-1.2zM175.6 103.8h0.9v0.9h-0.9zM165.1 86.5h0.9v0.9h-0.9zM235.8 34.2h1.2v1.4h-1.2zM186.3 83h1.2v1.4h-1.2zM147.5 90.8h1.5v1.3h-1.5zM158.6 85.2h1v1h-1zM168.7 101.4h1v0.9h-1zM208.4 58.9h0.9v0.9h-0.9zM179.1 68h1.5v1.6h-1.5zM169.7 105.3h1.5v1.4h-1.5zM143.2 34.9h1.3v1.5h-1.3zM166.5 29.6h1.3v1.4h-1.3zM158 130.3h1.2v1h-1.2zM211.9 59.7h0.9v1h-0.9zM150.3 123.1h1.3v1.4h-1.3zM170.3 69.6h1v1.2h-1zM192.7 111.3h1.2v1.4h-1.2zM147 68.2h1v1h-1zM212.6 56.4h0.9v0.9h-0.9zM207 77.3h1.5v1.7h-1.5zM229.3 75.5h1v1.2h-1zM163.2 44.3h0.9v0.8h-0.9zM189 113.1h1.5v1.7h-1.5zM168.9 52.4h1.2v1.3h-1.2zM142.1 137.1h1v1.1h-1zM192.2 71h1.2v1.2h-1.2zM224.6 89.6h1.3v1.2h-1.3zM203.4 72.6h1.3v1.2h-1.3zM148.3 136.9h1v0.9h-1zM210.3 43.1h1.3v1.1h-1.3zM172.1 59.3h1v0.9h-1zM229.1 34.4h1.2v1.1h-1.2zM151.8 136.4h1.5v1.4h-1.5zM213 69.4h1.5v1.4h-1.5zM211.6 125h0.9v1.1h-0.9zM205.8 85.1h1.5v1.4h-1.5zM176.2 88.6h0.9v1.1h-0.9zM189.8 38.7h0.9v0.8h-0.9zM157.1 97.3h1.2v1.1h-1.2zM172 61.7h1v0.9h-1zM146.1 133.3h1.3v1.4h-1.3zM181.3 99.1h1.2v1.2h-1.2zM214.1 57.5h1.5v1.6h-1.5zM156.2 127.6h1.5v1.7h-1.5zM178.2 93.9h1v0.9h-1zM166.3 100.2h1.2v1.4h-1.2zM150.6 32.3h1.2v1h-1.2zM132.5 77.5h1.5v1.4h-1.5zM162 135.5h1.5v1.5h-1.5zM214.7 37.3h1.5v1.6h-1.5zM212.4 38.4h1.3v1.2h-1.3zM170.4 76.4h1.3v1.2h-1.3zM216.3 118.9h1.2v1.1h-1.2zM157.2 43.8h1.3v1.2h-1.3zM135.4 73.2h1.5v1.5h-1.5zM217.6 83h0.9v0.8h-0.9zM215.9 67.3h0.9v1.1h-0.9zM221.7 49.8h1.2v1.1h-1.2zM217.4 124.4h0.9v0.9h-0.9zM127.6 43.4h1.2v1.1h-1.2zM234.9 99.7h0.9v1h-0.9zM145.7 102.8h1.2v1.4h-1.2zM215.3 42.5h1.3v1.1h-1.3zM151.7 72.2h0.9v0.9h-0.9zM165.5 92.5h1.5v1.7h-1.5zM221.6 114.2h0.9v1h-0.9zM146.2 73.5h1.5v1.6h-1.5zM169 40.9h1.3v1.3h-1.3zM229.4 96.3h1v0.8h-1zM221.9 102.2h1.5v1.4h-1.5zM203.1 125.1h1v1h-1zM225.9 41.8h1.2v1h-1.2zM165.9 34.3h1.5v1.4h-1.5zM218.9 54.8h1v1.1h-1zM141.3 71.2h1v0.9h-1zM220.2 99.8h1v1.1h-1zM179.6 84.7h0.9v0.9h-0.9zM206.7 100.3h1.5v1.8h-1.5zM149 65.4h1.5v1.5h-1.5zM207.8 103.5h1.2v1.4h-1.2zM182.7 76.2h0.9v1h-0.9zM175.3 130.5h1v0.8h-1zM135.8 97h0.9v0.9h-0.9zM195.5 96h1v1.1h-1zM217.4 103.8h1v1h-1zM128.3 96.4h1.3v1.4h-1.3zM231.8 115.5h1.5v1.7h-1.5zM160.9 111.8h1v0.8h-1zM136.8 111.7h1.5v1.3h-1.5zM211.4 101.3h1.3v1.5h-1.3zM228.1 91.7h1.5v1.5h-1.5zM194.6 38.6h1.3v1.5h-1.3zM143 131.5h1.5v1.3h-1.5zM141.2 124.5h1.2v1h-1.2zM187.1 92.1h1.2v1.4h-1.2zM234 50.5h1.3v1.1h-1.3zM197.6 80.5h1.5v1.6h-1.5zM191.2 117.8h1.3v1.2h-1.3zM198.4 74.6h1v1.1h-1zM184.4 126.3h0.9v0.9h-0.9zM148.6 135.7h1.3v1.3h-1.3zM146.2 30h1.3v1.5h-1.3zM225.6 81.6h1.3v1.4h-1.3zM211.6 92.7h1.5v1.4h-1.5zM168.6 56.3h1.3v1.6h-1.3zM214.4 64.1h1.3v1.5h-1.3zM143.4 57.4h1.5v1.3h-1.5zM220.5 82.1h1.3v1.3h-1.3zM141.5 119.1h1.2v1.2h-1.2zM236.1 58.3h1.5v1.2h-1.5zM176.3 116.5h0.9v0.8h-0.9zM155.5 85.9h0.9v0.8h-0.9zM167 78.2h1.3v1.2h-1.3zM198.8 137h1.5v1.7h-1.5zM209.4 94.4h1.5v1.8h-1.5zM149.6 45.9h1.2v1.2h-1.2zM201.1 80h0.9v0.7h-0.9zM212.4 126.6h1v0.9h-1zM228.2 121h1v1.1h-1zM222.8 63.2h1.2v1.4h-1.2zM153.1 37.9h1.3v1.5h-1.3zM214.9 71.9h1.2v1.2h-1.2zM142.1 109.5h0.9v1h-0.9zM222.6 75.2h1.3v1.2h-1.3zM224.4 58.4h1.5v1.8h-1.5zM179.6 47.3h1.2v1h-1.2zM201.5 31.3h1.5v1.3h-1.5zM128.7 109.5h0.9v0.8h-0.9zM209.1 74.9h1v0.9h-1zM135.2 137.8h1.3v1.1h-1.3zM206.8 41.9h1.3v1.2h-1.3zM187.2 78.2h1.3v1.5h-1.3zM172.8 117.5h1.3v1.1h-1.3zM199.5 48h1v1.1h-1zM217.4 108.2h1.5v1.6h-1.5zM204.1 91.8h1.3v1.5h-1.3zM156.1 128.6h1v1.1h-1zM221.5 28.9h1.5v1.5h-1.5z"/></g>
</g>
<rect x="127.2" y="28.6" width="111" height="111.1" fill="none" stroke="#000" stroke-width="1.8"/>
<path d="M218.1 130.4H233.9" stroke="#f0201a" stroke-width="1.1"/>
<text x="226.1" y="136.9" font-size="4.8" font-weight="bold" text-anchor="middle" fill="#f0201a">100 µm</text>
<clipPath id="cp1"><rect x="272.6" y="27.7" width="113.5" height="112.9"/></clipPath>
<g clip-path="url(#cp1)">
<rect x="244.35" y="-0.85" width="170" height="170" fill="#ccc" filter="url(#mB)" transform="rotate(-68 329.35 84.15)"/>
<g filter="url(#bl3)"><g fill="#fafafa" opacity="0.45" filter="url(#bl20)"><ellipse cx="381.1" cy="134.7" rx="8.6" ry="2.1" transform="rotate(-70 381.1 134.7)"/><ellipse cx="367.4" cy="110.8" rx="14.7" ry="2.5" transform="rotate(-70 367.4 110.8)"/><ellipse cx="341.4" cy="96.2" rx="13.8" ry="2.2" transform="rotate(-70 341.4 96.2)"/><ellipse cx="321.5" cy="72.1" rx="15.2" ry="3.5" transform="rotate(-70 321.5 72.1)"/><ellipse cx="380.4" cy="89.1" rx="12.4" ry="2.4" transform="rotate(-70 380.4 89.1)"/><ellipse cx="276.7" cy="30.8" rx="12.6" ry="2.5" transform="rotate(-70 276.7 30.8)"/><ellipse cx="315.7" cy="128.4" rx="13.3" ry="2.8" transform="rotate(-70 315.7 128.4)"/><ellipse cx="299.4" cy="30.4" rx="11.3" ry="2.2" transform="rotate(-70 299.4 30.4)"/><ellipse cx="330.5" cy="140.5" rx="14.7" ry="2.3" transform="rotate(-70 330.5 140.5)"/><ellipse cx="374" cy="117.7" rx="15.3" ry="3.4" transform="rotate(-70 374 117.7)"/><ellipse cx="359.2" cy="116.9" rx="11.5" ry="3.5" transform="rotate(-70 359.2 116.9)"/><ellipse cx="381.8" cy="45.9" rx="15.5" ry="3.1" transform="rotate(-70 381.8 45.9)"/><ellipse cx="325" cy="87.6" rx="12.9" ry="3.4" transform="rotate(-70 325 87.6)"/><ellipse cx="329.4" cy="121.6" rx="11.5" ry="3.3" transform="rotate(-70 329.4 121.6)"/></g><g fill="#1a1a1a"><ellipse cx="298.9" cy="65.1" rx="1" ry="1.5" transform="rotate(28 298.9 65.1)"/><ellipse cx="342.8" cy="37.9" rx="1" ry="2.1" transform="rotate(28 342.8 37.9)"/><ellipse cx="283.7" cy="133.7" rx="0.7" ry="2.1" transform="rotate(12 283.7 133.7)"/><ellipse cx="363.7" cy="46.8" rx="0.8" ry="2" transform="rotate(18 363.7 46.8)"/><ellipse cx="373.4" cy="112" rx="1" ry="2" transform="rotate(20 373.4 112)"/><ellipse cx="347" cy="64.1" rx="0.7" ry="1.8" transform="rotate(27 347 64.1)"/><ellipse cx="338.7" cy="72.5" rx="0.9" ry="1.5" transform="rotate(29 338.7 72.5)"/><ellipse cx="341" cy="75.4" rx="0.7" ry="1.9" transform="rotate(14 341 75.4)"/><ellipse cx="275.1" cy="33.6" rx="0.9" ry="1.5" transform="rotate(25 275.1 33.6)"/><ellipse cx="319.6" cy="82.6" rx="0.8" ry="1.9" transform="rotate(13 319.6 82.6)"/><ellipse cx="317.5" cy="80.1" rx="1" ry="1.8" transform="rotate(14 317.5 80.1)"/><ellipse cx="283.4" cy="122.3" rx="1" ry="2.3" transform="rotate(24 283.4 122.3)"/><ellipse cx="376.7" cy="120.7" rx="0.8" ry="1.6" transform="rotate(20 376.7 120.7)"/><ellipse cx="321.4" cy="103.7" rx="1.1" ry="1.9" transform="rotate(26 321.4 103.7)"/><ellipse cx="313.6" cy="138.4" rx="0.8" ry="1.8" transform="rotate(13 313.6 138.4)"/><ellipse cx="372.7" cy="137.4" rx="1" ry="1.5" transform="rotate(17 372.7 137.4)"/><ellipse cx="378.6" cy="112" rx="0.7" ry="1.9" transform="rotate(24 378.6 112)"/><ellipse cx="373.7" cy="126" rx="0.7" ry="2.1" transform="rotate(25 373.7 126)"/><ellipse cx="327.7" cy="103.2" rx="0.8" ry="1.6" transform="rotate(21 327.7 103.2)"/><ellipse cx="283.3" cy="111.8" rx="0.8" ry="2.1" transform="rotate(26 283.3 111.8)"/><ellipse cx="348.5" cy="115.5" rx="1" ry="1.5" transform="rotate(14 348.5 115.5)"/><ellipse cx="325.5" cy="61.8" rx="0.7" ry="1.9" transform="rotate(29 325.5 61.8)"/><ellipse cx="327.6" cy="88.4" rx="1.1" ry="1.5" transform="rotate(26 327.6 88.4)"/><ellipse cx="345.4" cy="116.4" rx="1" ry="1.8" transform="rotate(27 345.4 116.4)"/><ellipse cx="286.9" cy="118.8" rx="0.9" ry="1.7" transform="rotate(17 286.9 118.8)"/><ellipse cx="323" cy="99.4" rx="1.1" ry="1.7" transform="rotate(13 323 99.4)"/><ellipse cx="295.4" cy="103.6" rx="0.8" ry="1.7" transform="rotate(26 295.4 103.6)"/><ellipse cx="348" cy="69.7" rx="0.9" ry="1.6" transform="rotate(29 348 69.7)"/><ellipse cx="326.8" cy="127" rx="0.8" ry="2.3" transform="rotate(14 326.8 127)"/><ellipse cx="313" cy="68.8" rx="1.1" ry="2.2" transform="rotate(25 313 68.8)"/><ellipse cx="291.1" cy="64.2" rx="1.1" ry="1.5" transform="rotate(14 291.1 64.2)"/><ellipse cx="302.1" cy="75.5" rx="0.8" ry="1.7" transform="rotate(16 302.1 75.5)"/><ellipse cx="341.5" cy="66.3" rx="0.8" ry="2.1" transform="rotate(13 341.5 66.3)"/><ellipse cx="311.6" cy="113.4" rx="0.9" ry="1.8" transform="rotate(29 311.6 113.4)"/><ellipse cx="333.6" cy="137" rx="1.1" ry="2.2" transform="rotate(20 333.6 137)"/><ellipse cx="349" cy="129.4" rx="0.7" ry="1.7" transform="rotate(26 349 129.4)"/><ellipse cx="286.2" cy="67.9" rx="0.8" ry="1.5" transform="rotate(24 286.2 67.9)"/><ellipse cx="289" cy="42.4" rx="0.7" ry="1.6" transform="rotate(12 289 42.4)"/><ellipse cx="375" cy="47.5" rx="0.7" ry="2.1" transform="rotate(23 375 47.5)"/><ellipse cx="295" cy="133.8" rx="1.1" ry="2.2" transform="rotate(20 295 133.8)"/><ellipse cx="319.8" cy="74.9" rx="1" ry="1.8" transform="rotate(23 319.8 74.9)"/><ellipse cx="360.7" cy="78.5" rx="0.9" ry="1.7" transform="rotate(20 360.7 78.5)"/><ellipse cx="295.5" cy="81.5" rx="0.8" ry="1.8" transform="rotate(22 295.5 81.5)"/><ellipse cx="371.5" cy="104" rx="0.8" ry="1.6" transform="rotate(27 371.5 104)"/><ellipse cx="276" cy="124.5" rx="0.8" ry="1.7" transform="rotate(17 276 124.5)"/><ellipse cx="353.9" cy="67" rx="0.9" ry="1.8" transform="rotate(27 353.9 67)"/><ellipse cx="338.1" cy="44.1" rx="0.8" ry="1.9" transform="rotate(18 338.1 44.1)"/><ellipse cx="370.3" cy="94.1" rx="1" ry="1.9" transform="rotate(16 370.3 94.1)"/><ellipse cx="281.4" cy="102.2" rx="0.8" ry="2" transform="rotate(19 281.4 102.2)"/><ellipse cx="380.9" cy="72.4" rx="0.9" ry="1.7" transform="rotate(15 380.9 72.4)"/><ellipse cx="332.9" cy="118.7" rx="0.7" ry="2.3" transform="rotate(24 332.9 118.7)"/><ellipse cx="360.3" cy="93" rx="1" ry="2.1" transform="rotate(15 360.3 93)"/><ellipse cx="380.4" cy="119.8" rx="1" ry="1.7" transform="rotate(28 380.4 119.8)"/><ellipse cx="301.6" cy="115.5" rx="1.1" ry="1.8" transform="rotate(28 301.6 115.5)"/><ellipse cx="340" cy="37.1" rx="0.8" ry="1.6" transform="rotate(12 340 37.1)"/><ellipse cx="318.7" cy="129.3" rx="0.8" ry="1.8" transform="rotate(20 318.7 129.3)"/><ellipse cx="362.1" cy="100.2" rx="0.8" ry="1.9" transform="rotate(14 362.1 100.2)"/><ellipse cx="277.1" cy="106.5" rx="1.1" ry="2" transform="rotate(22 277.1 106.5)"/><ellipse cx="345.7" cy="74.2" rx="0.9" ry="2.3" transform="rotate(26 345.7 74.2)"/><ellipse cx="348" cy="102.4" rx="0.9" ry="1.4" transform="rotate(20 348 102.4)"/><ellipse cx="284.9" cy="31.7" rx="0.7" ry="1.8" transform="rotate(24 284.9 31.7)"/><ellipse cx="330.5" cy="47.3" rx="0.9" ry="1.8" transform="rotate(18 330.5 47.3)"/><ellipse cx="308" cy="91.9" rx="0.9" ry="1.5" transform="rotate(29 308 91.9)"/><ellipse cx="362.7" cy="125.4" rx="0.9" ry="2.3" transform="rotate(13 362.7 125.4)"/><ellipse cx="327.6" cy="37.8" rx="1" ry="1.9" transform="rotate(26 327.6 37.8)"/><ellipse cx="325.4" cy="51.3" rx="0.7" ry="1.7" transform="rotate(26 325.4 51.3)"/><ellipse cx="329.9" cy="130" rx="1.1" ry="2.3" transform="rotate(23 329.9 130)"/><ellipse cx="379.4" cy="109.5" rx="0.8" ry="1.9" transform="rotate(12 379.4 109.5)"/><ellipse cx="291.7" cy="62.4" rx="0.9" ry="2.2" transform="rotate(21 291.7 62.4)"/><ellipse cx="376.4" cy="91.9" rx="1" ry="1.6" transform="rotate(18 376.4 91.9)"/><ellipse cx="295" cy="77.3" rx="0.9" ry="2" transform="rotate(27 295 77.3)"/><ellipse cx="279.3" cy="104.3" rx="0.9" ry="1.8" transform="rotate(25 279.3 104.3)"/><ellipse cx="294" cy="101.8" rx="0.9" ry="2" transform="rotate(21 294 101.8)"/><ellipse cx="329.6" cy="55.6" rx="0.9" ry="1.8" transform="rotate(13 329.6 55.6)"/><ellipse cx="293.4" cy="46.1" rx="0.7" ry="1.7" transform="rotate(19 293.4 46.1)"/><ellipse cx="316.2" cy="63.9" rx="0.8" ry="1.6" transform="rotate(16 316.2 63.9)"/><ellipse cx="366.8" cy="113.2" rx="1.1" ry="1.6" transform="rotate(26 366.8 113.2)"/><ellipse cx="337.7" cy="87.1" rx="0.9" ry="1.7" transform="rotate(13 337.7 87.1)"/><ellipse cx="377" cy="92.2" rx="1" ry="1.9" transform="rotate(16 377 92.2)"/><ellipse cx="303.3" cy="32.5" rx="0.9" ry="1.8" transform="rotate(28 303.3 32.5)"/><ellipse cx="325.8" cy="49.8" rx="0.7" ry="1.7" transform="rotate(29 325.8 49.8)"/><ellipse cx="348.6" cy="125.6" rx="0.7" ry="1.7" transform="rotate(19 348.6 125.6)"/><ellipse cx="377.6" cy="128.5" rx="0.9" ry="1.9" transform="rotate(13 377.6 128.5)"/><ellipse cx="297.1" cy="108.2" rx="1" ry="2.1" transform="rotate(27 297.1 108.2)"/><ellipse cx="286.2" cy="102" rx="1" ry="2" transform="rotate(19 286.2 102)"/><ellipse cx="371.6" cy="128.1" rx="1" ry="1.9" transform="rotate(12 371.6 128.1)"/><ellipse cx="300.8" cy="56.1" rx="0.8" ry="2" transform="rotate(24 300.8 56.1)"/><ellipse cx="373.3" cy="29.8" rx="1.1" ry="1.9" transform="rotate(23 373.3 29.8)"/><ellipse cx="350.3" cy="125.1" rx="0.8" ry="1.5" transform="rotate(26 350.3 125.1)"/><ellipse cx="286.2" cy="83.3" rx="0.8" ry="1.6" transform="rotate(17 286.2 83.3)"/><ellipse cx="341.2" cy="68.3" rx="1.1" ry="2" transform="rotate(29 341.2 68.3)"/><ellipse cx="289.1" cy="80" rx="0.9" ry="1.8" transform="rotate(14 289.1 80)"/><ellipse cx="315.7" cy="100.7" rx="0.9" ry="1.6" transform="rotate(18 315.7 100.7)"/><ellipse cx="339.6" cy="98" rx="1.1" ry="2.1" transform="rotate(25 339.6 98)"/><ellipse cx="333.4" cy="58.9" rx="1" ry="2.1" transform="rotate(25 333.4 58.9)"/><ellipse cx="355.2" cy="39.1" rx="1" ry="1.4" transform="rotate(12 355.2 39.1)"/><ellipse cx="380.8" cy="118.8" rx="0.8" ry="1.5" transform="rotate(28 380.8 118.8)"/><ellipse cx="367.9" cy="137.8" rx="0.8" ry="2" transform="rotate(27 367.9 137.8)"/><ellipse cx="280.7" cy="101.5" rx="0.9" ry="1.8" transform="rotate(14 280.7 101.5)"/><ellipse cx="367.8" cy="40.9" rx="0.8" ry="1.4" transform="rotate(15 367.8 40.9)"/><ellipse cx="332.7" cy="119" rx="0.7" ry="1.8" transform="rotate(26 332.7 119)"/><ellipse cx="293.6" cy="96.8" rx="0.8" ry="1.9" transform="rotate(14 293.6 96.8)"/><ellipse cx="311.2" cy="115" rx="0.9" ry="1.9" transform="rotate(23 311.2 115)"/><ellipse cx="339.6" cy="75.1" rx="0.8" ry="1.9" transform="rotate(16 339.6 75.1)"/><ellipse cx="379.4" cy="57.4" rx="0.7" ry="1.5" transform="rotate(23 379.4 57.4)"/><ellipse cx="378.4" cy="39.7" rx="1.1" ry="1.7" transform="rotate(28 378.4 39.7)"/><ellipse cx="286.8" cy="103.3" rx="0.8" ry="2.2" transform="rotate(26 286.8 103.3)"/><ellipse cx="331.8" cy="41.3" rx="0.9" ry="2.1" transform="rotate(24 331.8 41.3)"/><ellipse cx="276.8" cy="83.9" rx="0.9" ry="2" transform="rotate(27 276.8 83.9)"/><ellipse cx="350.8" cy="126.4" rx="0.9" ry="1.4" transform="rotate(13 350.8 126.4)"/><ellipse cx="364" cy="73.4" rx="1" ry="2.1" transform="rotate(28 364 73.4)"/><ellipse cx="382.3" cy="70.7" rx="0.8" ry="1.6" transform="rotate(17 382.3 70.7)"/><ellipse cx="312.1" cy="117.5" rx="0.8" ry="1.6" transform="rotate(28 312.1 117.5)"/><ellipse cx="329.4" cy="87.3" rx="0.8" ry="2.1" transform="rotate(27 329.4 87.3)"/><ellipse cx="307.6" cy="82.7" rx="0.9" ry="2" transform="rotate(25 307.6 82.7)"/><ellipse cx="377.6" cy="79.4" rx="0.7" ry="1.8" transform="rotate(21 377.6 79.4)"/><ellipse cx="370.9" cy="94.7" rx="0.9" ry="1.7" transform="rotate(14 370.9 94.7)"/><ellipse cx="349.3" cy="86.6" rx="1" ry="2.3" transform="rotate(22 349.3 86.6)"/><ellipse cx="327.7" cy="124.7" rx="0.8" ry="1.4" transform="rotate(21 327.7 124.7)"/><ellipse cx="343.6" cy="104.3" rx="0.9" ry="1.8" transform="rotate(26 343.6 104.3)"/><ellipse cx="360.7" cy="47.9" rx="0.8" ry="2" transform="rotate(20 360.7 47.9)"/><ellipse cx="283.2" cy="35.3" rx="0.8" ry="1.5" transform="rotate(24 283.2 35.3)"/><ellipse cx="316.3" cy="75.6" rx="1" ry="2.1" transform="rotate(23 316.3 75.6)"/><ellipse cx="301.2" cy="74.3" rx="0.9" ry="1.5" transform="rotate(17 301.2 74.3)"/><ellipse cx="286" cy="45.9" rx="0.9" ry="2" transform="rotate(22 286 45.9)"/><ellipse cx="319.3" cy="83.3" rx="0.9" ry="2.1" transform="rotate(25 319.3 83.3)"/><ellipse cx="332.6" cy="45.8" rx="1.1" ry="1.6" transform="rotate(15 332.6 45.8)"/><ellipse cx="277.2" cy="74.7" rx="0.8" ry="2.1" transform="rotate(17 277.2 74.7)"/><ellipse cx="286.9" cy="52.5" rx="1" ry="1.5" transform="rotate(12 286.9 52.5)"/><ellipse cx="279.2" cy="109.3" rx="1" ry="1.9" transform="rotate(18 279.2 109.3)"/><ellipse cx="322.5" cy="87.8" rx="0.9" ry="2" transform="rotate(21 322.5 87.8)"/><ellipse cx="309.2" cy="77.3" rx="0.9" ry="1.7" transform="rotate(23 309.2 77.3)"/><ellipse cx="313.7" cy="98.1" rx="0.8" ry="2" transform="rotate(14 313.7 98.1)"/><ellipse cx="324.8" cy="47.9" rx="1.1" ry="1.9" transform="rotate(25 324.8 47.9)"/><ellipse cx="283.4" cy="130.1" rx="0.8" ry="2.2" transform="rotate(15 283.4 130.1)"/><ellipse cx="331" cy="45.5" rx="0.9" ry="1.7" transform="rotate(21 331 45.5)"/><ellipse cx="302.3" cy="58.5" rx="1" ry="1.4" transform="rotate(19 302.3 58.5)"/><ellipse cx="356.4" cy="99.2" rx="0.9" ry="2.1" transform="rotate(26 356.4 99.2)"/><ellipse cx="369.5" cy="67.4" rx="1" ry="1.7" transform="rotate(16 369.5 67.4)"/><ellipse cx="308" cy="59.4" rx="1.1" ry="1.9" transform="rotate(24 308 59.4)"/><ellipse cx="334.8" cy="60.8" rx="0.8" ry="2.1" transform="rotate(24 334.8 60.8)"/><ellipse cx="355.7" cy="61.7" rx="0.7" ry="1.4" transform="rotate(17 355.7 61.7)"/><ellipse cx="367" cy="116.8" rx="0.8" ry="2.2" transform="rotate(21 367 116.8)"/><ellipse cx="361.1" cy="125.5" rx="0.9" ry="1.8" transform="rotate(16 361.1 125.5)"/><ellipse cx="364.5" cy="67.7" rx="0.9" ry="2" transform="rotate(19 364.5 67.7)"/><ellipse cx="318" cy="99.3" rx="0.8" ry="2" transform="rotate(15 318 99.3)"/><ellipse cx="292" cy="58.7" rx="1" ry="2.2" transform="rotate(22 292 58.7)"/><ellipse cx="363.9" cy="106" rx="1.1" ry="1.4" transform="rotate(17 363.9 106)"/><ellipse cx="275.8" cy="90.7" rx="0.7" ry="1.8" transform="rotate(24 275.8 90.7)"/><ellipse cx="318.2" cy="83.7" rx="0.8" ry="1.6" transform="rotate(29 318.2 83.7)"/><ellipse cx="297.2" cy="117.1" rx="0.7" ry="1.8" transform="rotate(14 297.2 117.1)"/><ellipse cx="382.3" cy="82.9" rx="1" ry="1.5" transform="rotate(18 382.3 82.9)"/><ellipse cx="366.9" cy="30.5" rx="1.1" ry="2.3" transform="rotate(15 366.9 30.5)"/><ellipse cx="283.5" cy="135.7" rx="1" ry="2.3" transform="rotate(22 283.5 135.7)"/><ellipse cx="287.7" cy="60.1" rx="1" ry="1.6" transform="rotate(19 287.7 60.1)"/><ellipse cx="383.1" cy="115.4" rx="0.9" ry="2.3" transform="rotate(27 383.1 115.4)"/><ellipse cx="282.8" cy="107.7" rx="1" ry="1.6" transform="rotate(12 282.8 107.7)"/><ellipse cx="352.8" cy="132.5" rx="0.9" ry="1.7" transform="rotate(16 352.8 132.5)"/><ellipse cx="366" cy="123.4" rx="0.9" ry="2" transform="rotate(26 366 123.4)"/><ellipse cx="380.3" cy="116.9" rx="0.9" ry="1.9" transform="rotate(29 380.3 116.9)"/><ellipse cx="304.6" cy="125.3" rx="0.7" ry="2" transform="rotate(17 304.6 125.3)"/><ellipse cx="291.4" cy="86.8" rx="1.1" ry="1.6" transform="rotate(24 291.4 86.8)"/><ellipse cx="280.4" cy="109.5" rx="0.9" ry="1.7" transform="rotate(23 280.4 109.5)"/><ellipse cx="369.3" cy="90.6" rx="1" ry="2.1" transform="rotate(23 369.3 90.6)"/><ellipse cx="349.1" cy="64.4" rx="1" ry="2.1" transform="rotate(15 349.1 64.4)"/><ellipse cx="373.5" cy="113" rx="1" ry="1.4" transform="rotate(16 373.5 113)"/><ellipse cx="332.9" cy="126.6" rx="0.9" ry="1.4" transform="rotate(27 332.9 126.6)"/><ellipse cx="383.4" cy="92.9" rx="1" ry="1.6" transform="rotate(27 383.4 92.9)"/><ellipse cx="355.6" cy="128.9" rx="1" ry="2" transform="rotate(23 355.6 128.9)"/><ellipse cx="282.8" cy="43.2" rx="1.1" ry="2.1" transform="rotate(19 282.8 43.2)"/><ellipse cx="275" cy="46.3" rx="1.1" ry="1.5" transform="rotate(27 275 46.3)"/><ellipse cx="362.5" cy="54.4" rx="1" ry="2.1" transform="rotate(21 362.5 54.4)"/><ellipse cx="328.9" cy="56.4" rx="1.1" ry="1.8" transform="rotate(22 328.9 56.4)"/><ellipse cx="295.7" cy="51.6" rx="0.8" ry="2.2" transform="rotate(16 295.7 51.6)"/><ellipse cx="373.4" cy="118.4" rx="0.8" ry="2.2" transform="rotate(17 373.4 118.4)"/><ellipse cx="339.7" cy="104.8" rx="0.7" ry="1.7" transform="rotate(14 339.7 104.8)"/><ellipse cx="316.5" cy="131" rx="0.9" ry="1.9" transform="rotate(19 316.5 131)"/><ellipse cx="282.2" cy="103.6" rx="0.9" ry="1.6" transform="rotate(25 282.2 103.6)"/><ellipse cx="312.9" cy="103.3" rx="0.9" ry="2.3" transform="rotate(28 312.9 103.3)"/><ellipse cx="330.2" cy="103.2" rx="0.7" ry="1.5" transform="rotate(19 330.2 103.2)"/><ellipse cx="343.7" cy="35.1" rx="1" ry="1.5" transform="rotate(15 343.7 35.1)"/><ellipse cx="367.6" cy="80.9" rx="0.9" ry="1.8" transform="rotate(24 367.6 80.9)"/></g><g fill="#333"><ellipse cx="373.1" cy="79.9" rx="0.9" ry="2.2" transform="rotate(25 373.1 79.9)"/><ellipse cx="374.4" cy="63.4" rx="1.1" ry="2" transform="rotate(21 374.4 63.4)"/><ellipse cx="320.9" cy="107.8" rx="0.7" ry="1.7" transform="rotate(15 320.9 107.8)"/><ellipse cx="383" cy="46.2" rx="0.7" ry="1.7" transform="rotate(23 383 46.2)"/><ellipse cx="287" cy="66.4" rx="0.7" ry="1.8" transform="rotate(25 287 66.4)"/><ellipse cx="376.9" cy="138" rx="0.8" ry="1.8" transform="rotate(16 376.9 138)"/><ellipse cx="342.9" cy="116.8" rx="1" ry="1.6" transform="rotate(19 342.9 116.8)"/><ellipse cx="285.5" cy="49.5" rx="0.8" ry="1.6" transform="rotate(21 285.5 49.5)"/><ellipse cx="308.5" cy="99.6" rx="0.8" ry="2.2" transform="rotate(29 308.5 99.6)"/><ellipse cx="322.1" cy="85.4" rx="0.9" ry="1.4" transform="rotate(19 322.1 85.4)"/><ellipse cx="341.5" cy="61.2" rx="1.1" ry="1.7" transform="rotate(12 341.5 61.2)"/><ellipse cx="285.7" cy="63" rx="1" ry="2" transform="rotate(12 285.7 63)"/><ellipse cx="315.4" cy="131.6" rx="0.7" ry="2.1" transform="rotate(15 315.4 131.6)"/><ellipse cx="346.8" cy="114.3" rx="1" ry="1.8" transform="rotate(18 346.8 114.3)"/><ellipse cx="348" cy="103.9" rx="0.9" ry="1.9" transform="rotate(14 348 103.9)"/><ellipse cx="351.8" cy="81.2" rx="1.1" ry="1.7" transform="rotate(25 351.8 81.2)"/><ellipse cx="358" cy="122.5" rx="0.8" ry="2" transform="rotate(19 358 122.5)"/><ellipse cx="345.8" cy="118.6" rx="0.7" ry="2.2" transform="rotate(25 345.8 118.6)"/><ellipse cx="356.1" cy="93.5" rx="0.8" ry="2.1" transform="rotate(14 356.1 93.5)"/><ellipse cx="282.6" cy="30" rx="0.9" ry="2.2" transform="rotate(23 282.6 30)"/><ellipse cx="333.5" cy="71.3" rx="0.9" ry="2.2" transform="rotate(17 333.5 71.3)"/><ellipse cx="343.9" cy="72.3" rx="0.9" ry="2.2" transform="rotate(26 343.9 72.3)"/><ellipse cx="376" cy="84.4" rx="1" ry="2.3" transform="rotate(25 376 84.4)"/><ellipse cx="369.8" cy="131.6" rx="1" ry="2.3" transform="rotate(17 369.8 131.6)"/><ellipse cx="334" cy="55.5" rx="1" ry="1.8" transform="rotate(17 334 55.5)"/><ellipse cx="326.5" cy="97.2" rx="0.8" ry="2.2" transform="rotate(22 326.5 97.2)"/><ellipse cx="381" cy="100.4" rx="0.7" ry="2.2" transform="rotate(16 381 100.4)"/><ellipse cx="364.6" cy="86.6" rx="1" ry="2.2" transform="rotate(14 364.6 86.6)"/><ellipse cx="316.1" cy="97.5" rx="1" ry="2.2" transform="rotate(24 316.1 97.5)"/><ellipse cx="299.7" cy="106.3" rx="1" ry="2" transform="rotate(12 299.7 106.3)"/><ellipse cx="296.7" cy="50.9" rx="0.9" ry="2" transform="rotate(23 296.7 50.9)"/><ellipse cx="340.1" cy="33.9" rx="0.8" ry="1.5" transform="rotate(23 340.1 33.9)"/><ellipse cx="297.5" cy="119.4" rx="1" ry="1.6" transform="rotate(28 297.5 119.4)"/><ellipse cx="351.5" cy="59.3" rx="1.1" ry="1.6" transform="rotate(17 351.5 59.3)"/><ellipse cx="317.6" cy="86.9" rx="1.1" ry="1.6" transform="rotate(25 317.6 86.9)"/><ellipse cx="293.3" cy="95.6" rx="1" ry="1.6" transform="rotate(23 293.3 95.6)"/><ellipse cx="291.2" cy="62.3" rx="1.1" ry="2.2" transform="rotate(15 291.2 62.3)"/><ellipse cx="352" cy="73.4" rx="0.9" ry="1.5" transform="rotate(21 352 73.4)"/><ellipse cx="327" cy="43.8" rx="0.8" ry="1.7" transform="rotate(21 327 43.8)"/><ellipse cx="345.4" cy="132.4" rx="0.7" ry="1.9" transform="rotate(13 345.4 132.4)"/><ellipse cx="314.4" cy="132.9" rx="1" ry="2.1" transform="rotate(28 314.4 132.9)"/><ellipse cx="380.5" cy="32.5" rx="0.8" ry="2.2" transform="rotate(12 380.5 32.5)"/><ellipse cx="384" cy="107.6" rx="1" ry="1.5" transform="rotate(21 384 107.6)"/><ellipse cx="322.3" cy="75.4" rx="1" ry="1.5" transform="rotate(12 322.3 75.4)"/><ellipse cx="329.4" cy="60.3" rx="1" ry="1.4" transform="rotate(21 329.4 60.3)"/><ellipse cx="323" cy="80.3" rx="0.9" ry="1.6" transform="rotate(15 323 80.3)"/><ellipse cx="381.1" cy="89.4" rx="0.9" ry="2" transform="rotate(16 381.1 89.4)"/><ellipse cx="314.6" cy="121.9" rx="0.9" ry="2" transform="rotate(22 314.6 121.9)"/><ellipse cx="356.4" cy="100.8" rx="1.1" ry="1.5" transform="rotate(22 356.4 100.8)"/><ellipse cx="324.4" cy="134.6" rx="1.1" ry="1.8" transform="rotate(23 324.4 134.6)"/><ellipse cx="350.8" cy="69.2" rx="1" ry="1.7" transform="rotate(14 350.8 69.2)"/><ellipse cx="310.3" cy="38.5" rx="0.9" ry="1.8" transform="rotate(28 310.3 38.5)"/><ellipse cx="310.7" cy="81.8" rx="1.1" ry="2.3" transform="rotate(27 310.7 81.8)"/><ellipse cx="336.8" cy="108.8" rx="0.9" ry="1.7" transform="rotate(21 336.8 108.8)"/><ellipse cx="353.6" cy="54.2" rx="0.9" ry="1.6" transform="rotate(27 353.6 54.2)"/><ellipse cx="277.6" cy="126.7" rx="0.8" ry="1.8" transform="rotate(14 277.6 126.7)"/><ellipse cx="291.6" cy="130.1" rx="0.7" ry="1.5" transform="rotate(13 291.6 130.1)"/><ellipse cx="344.5" cy="108" rx="1" ry="2.1" transform="rotate(14 344.5 108)"/><ellipse cx="382" cy="103.4" rx="0.9" ry="1.7" transform="rotate(13 382 103.4)"/><ellipse cx="375.9" cy="100.8" rx="0.8" ry="1.6" transform="rotate(29 375.9 100.8)"/><ellipse cx="304" cy="88.5" rx="1.1" ry="1.5" transform="rotate(27 304 88.5)"/><ellipse cx="312.3" cy="72.6" rx="0.9" ry="2.1" transform="rotate(16 312.3 72.6)"/><ellipse cx="300.1" cy="86.1" rx="1" ry="1.7" transform="rotate(19 300.1 86.1)"/><ellipse cx="376.2" cy="126.2" rx="0.9" ry="1.5" transform="rotate(27 376.2 126.2)"/><ellipse cx="326.1" cy="99.3" rx="0.8" ry="1.6" transform="rotate(26 326.1 99.3)"/><ellipse cx="292.4" cy="37.4" rx="1" ry="1.5" transform="rotate(21 292.4 37.4)"/><ellipse cx="360.3" cy="50.9" rx="0.8" ry="1.7" transform="rotate(29 360.3 50.9)"/><ellipse cx="316.5" cy="103.9" rx="0.8" ry="2" transform="rotate(17 316.5 103.9)"/><ellipse cx="293.6" cy="115.7" rx="0.9" ry="2.1" transform="rotate(29 293.6 115.7)"/><ellipse cx="276.9" cy="69.6" rx="1.1" ry="2" transform="rotate(25 276.9 69.6)"/><ellipse cx="384.1" cy="34.3" rx="0.8" ry="1.5" transform="rotate(20 384.1 34.3)"/><ellipse cx="345.2" cy="40.5" rx="0.9" ry="2" transform="rotate(16 345.2 40.5)"/><ellipse cx="279.6" cy="42.2" rx="0.8" ry="2.1" transform="rotate(28 279.6 42.2)"/><ellipse cx="297.2" cy="121.1" rx="0.7" ry="1.5" transform="rotate(14 297.2 121.1)"/><ellipse cx="374.3" cy="129.8" rx="1" ry="1.5" transform="rotate(24 374.3 129.8)"/><ellipse cx="338.9" cy="54.2" rx="1" ry="1.8" transform="rotate(20 338.9 54.2)"/><ellipse cx="309.5" cy="118.2" rx="0.9" ry="1.8" transform="rotate(25 309.5 118.2)"/><ellipse cx="292.7" cy="104.9" rx="1" ry="2.1" transform="rotate(16 292.7 104.9)"/><ellipse cx="317.3" cy="76.8" rx="1" ry="2" transform="rotate(14 317.3 76.8)"/><ellipse cx="281.1" cy="52.2" rx="1" ry="2.2" transform="rotate(16 281.1 52.2)"/><ellipse cx="294.6" cy="83.9" rx="0.8" ry="1.5" transform="rotate(19 294.6 83.9)"/><ellipse cx="364.4" cy="131.9" rx="0.8" ry="1.8" transform="rotate(21 364.4 131.9)"/><ellipse cx="379.6" cy="133.2" rx="0.7" ry="1.8" transform="rotate(21 379.6 133.2)"/><ellipse cx="381.5" cy="94.5" rx="1" ry="1.5" transform="rotate(16 381.5 94.5)"/><ellipse cx="379.3" cy="106.3" rx="0.7" ry="2.1" transform="rotate(15 379.3 106.3)"/><ellipse cx="295.5" cy="36.4" rx="1" ry="1.8" transform="rotate(22 295.5 36.4)"/><ellipse cx="319.3" cy="76.1" rx="0.9" ry="2.2" transform="rotate(17 319.3 76.1)"/><ellipse cx="328.3" cy="89.6" rx="1" ry="1.6" transform="rotate(22 328.3 89.6)"/><ellipse cx="380.9" cy="101.3" rx="1" ry="1.8" transform="rotate(16 380.9 101.3)"/><ellipse cx="275.4" cy="32.1" rx="0.8" ry="2.1" transform="rotate(22 275.4 32.1)"/><ellipse cx="287.6" cy="63.5" rx="0.8" ry="2.3" transform="rotate(29 287.6 63.5)"/><ellipse cx="320.7" cy="74.7" rx="0.7" ry="1.8" transform="rotate(14 320.7 74.7)"/><ellipse cx="344.8" cy="104.1" rx="1" ry="1.4" transform="rotate(26 344.8 104.1)"/><ellipse cx="333.9" cy="116.9" rx="1" ry="2.1" transform="rotate(17 333.9 116.9)"/><ellipse cx="317.9" cy="94.9" rx="1" ry="2.2" transform="rotate(17 317.9 94.9)"/><ellipse cx="289.6" cy="90.6" rx="0.8" ry="2.1" transform="rotate(15 289.6 90.6)"/><ellipse cx="313.8" cy="60.2" rx="0.8" ry="2.1" transform="rotate(21 313.8 60.2)"/><ellipse cx="325.5" cy="105.6" rx="1" ry="2" transform="rotate(29 325.5 105.6)"/><ellipse cx="317.7" cy="120.6" rx="0.9" ry="1.9" transform="rotate(22 317.7 120.6)"/><ellipse cx="320.5" cy="73.4" rx="1" ry="1.6" transform="rotate(18 320.5 73.4)"/><ellipse cx="352.9" cy="56.1" rx="0.9" ry="2.3" transform="rotate(16 352.9 56.1)"/><ellipse cx="364.4" cy="55.7" rx="0.8" ry="1.8" transform="rotate(22 364.4 55.7)"/><ellipse cx="306.1" cy="47.1" rx="0.7" ry="1.7" transform="rotate(13 306.1 47.1)"/><ellipse cx="353.6" cy="105.4" rx="1" ry="1.6" transform="rotate(29 353.6 105.4)"/><ellipse cx="330.8" cy="89.5" rx="1" ry="2" transform="rotate(18 330.8 89.5)"/><ellipse cx="302.4" cy="83.6" rx="0.8" ry="1.7" transform="rotate(13 302.4 83.6)"/><ellipse cx="335.6" cy="58.3" rx="0.9" ry="2.2" transform="rotate(26 335.6 58.3)"/><ellipse cx="355.8" cy="33.2" rx="0.8" ry="1.4" transform="rotate(20 355.8 33.2)"/><ellipse cx="276.5" cy="119" rx="0.9" ry="2.1" transform="rotate(29 276.5 119)"/><ellipse cx="327.6" cy="109.2" rx="0.8" ry="1.4" transform="rotate(16 327.6 109.2)"/><ellipse cx="372.3" cy="91.2" rx="0.9" ry="1.7" transform="rotate(21 372.3 91.2)"/><ellipse cx="318.9" cy="96" rx="0.9" ry="1.8" transform="rotate(25 318.9 96)"/><ellipse cx="350.3" cy="90.2" rx="1.1" ry="1.7" transform="rotate(19 350.3 90.2)"/><ellipse cx="307" cy="116.2" rx="0.8" ry="1.5" transform="rotate(21 307 116.2)"/><ellipse cx="319.1" cy="90.7" rx="0.7" ry="2" transform="rotate(29 319.1 90.7)"/><ellipse cx="304.1" cy="41.1" rx="1.1" ry="1.9" transform="rotate(27 304.1 41.1)"/><ellipse cx="373.3" cy="95.2" rx="1" ry="2" transform="rotate(29 373.3 95.2)"/><ellipse cx="381.2" cy="75" rx="0.8" ry="1.6" transform="rotate(20 381.2 75)"/><ellipse cx="350.1" cy="80.3" rx="1.1" ry="1.8" transform="rotate(12 350.1 80.3)"/><ellipse cx="346.6" cy="56.1" rx="1" ry="1.6" transform="rotate(28 346.6 56.1)"/><ellipse cx="358.7" cy="71.9" rx="1" ry="1.5" transform="rotate(13 358.7 71.9)"/><ellipse cx="373.8" cy="104.9" rx="1.1" ry="2.1" transform="rotate(24 373.8 104.9)"/><ellipse cx="298.9" cy="112.3" rx="0.9" ry="2" transform="rotate(20 298.9 112.3)"/><ellipse cx="333.1" cy="77.3" rx="1" ry="2" transform="rotate(15 333.1 77.3)"/><ellipse cx="354.4" cy="127.6" rx="0.9" ry="2.2" transform="rotate(12 354.4 127.6)"/><ellipse cx="319.7" cy="75.2" rx="0.9" ry="2.2" transform="rotate(21 319.7 75.2)"/><ellipse cx="288.7" cy="87.6" rx="1" ry="2" transform="rotate(29 288.7 87.6)"/><ellipse cx="315.3" cy="124.5" rx="1.1" ry="2.3" transform="rotate(14 315.3 124.5)"/><ellipse cx="294.9" cy="121.9" rx="1" ry="2.1" transform="rotate(16 294.9 121.9)"/><ellipse cx="320" cy="137.1" rx="1.1" ry="2.1" transform="rotate(23 320 137.1)"/><ellipse cx="367.5" cy="53" rx="1" ry="2.3" transform="rotate(14 367.5 53)"/><ellipse cx="314.9" cy="122.7" rx="0.9" ry="1.5" transform="rotate(18 314.9 122.7)"/><ellipse cx="334.3" cy="32.7" rx="1" ry="1.7" transform="rotate(12 334.3 32.7)"/><ellipse cx="348" cy="95.8" rx="0.7" ry="1.4" transform="rotate(25 348 95.8)"/><ellipse cx="319.1" cy="108.1" rx="0.8" ry="2" transform="rotate(13 319.1 108.1)"/><ellipse cx="294.1" cy="32.5" rx="0.9" ry="1.9" transform="rotate(27 294.1 32.5)"/><ellipse cx="358.9" cy="45.9" rx="0.9" ry="2.1" transform="rotate(21 358.9 45.9)"/><ellipse cx="321" cy="46.4" rx="1" ry="2.2" transform="rotate(19 321 46.4)"/><ellipse cx="280" cy="60.7" rx="0.8" ry="2" transform="rotate(26 280 60.7)"/><ellipse cx="307.7" cy="88.8" rx="1" ry="1.9" transform="rotate(15 307.7 88.8)"/><ellipse cx="358.9" cy="128.1" rx="0.9" ry="2.2" transform="rotate(18 358.9 128.1)"/><ellipse cx="371.1" cy="85.9" rx="0.7" ry="2.1" transform="rotate(15 371.1 85.9)"/><ellipse cx="382" cy="53" rx="0.8" ry="2" transform="rotate(26 382 53)"/><ellipse cx="359.4" cy="118.8" rx="0.8" ry="1.7" transform="rotate(19 359.4 118.8)"/><ellipse cx="360.3" cy="57.9" rx="0.9" ry="1.8" transform="rotate(24 360.3 57.9)"/><ellipse cx="299.5" cy="43.8" rx="1" ry="1.6" transform="rotate(16 299.5 43.8)"/><ellipse cx="319.4" cy="57" rx="0.9" ry="1.5" transform="rotate(18 319.4 57)"/><ellipse cx="307.3" cy="110.2" rx="0.8" ry="2.1" transform="rotate(24 307.3 110.2)"/><ellipse cx="287" cy="39.2" rx="0.8" ry="1.9" transform="rotate(25 287 39.2)"/><ellipse cx="302.6" cy="38.3" rx="1" ry="1.5" transform="rotate(26 302.6 38.3)"/><ellipse cx="371.4" cy="88.6" rx="1" ry="1.9" transform="rotate(14 371.4 88.6)"/><ellipse cx="298.3" cy="89.6" rx="0.7" ry="2" transform="rotate(26 298.3 89.6)"/><ellipse cx="362.7" cy="56.4" rx="1.1" ry="2" transform="rotate(12 362.7 56.4)"/><ellipse cx="316.2" cy="100.2" rx="0.7" ry="1.7" transform="rotate(28 316.2 100.2)"/><ellipse cx="326" cy="89.5" rx="0.7" ry="1.7" transform="rotate(26 326 89.5)"/></g><g fill="#555"><ellipse cx="345.9" cy="93.7" rx="0.8" ry="1.6" transform="rotate(21 345.9 93.7)"/><ellipse cx="356.2" cy="36.1" rx="1" ry="1.6" transform="rotate(16 356.2 36.1)"/><ellipse cx="286.2" cy="86.6" rx="1" ry="1.6" transform="rotate(15 286.2 86.6)"/><ellipse cx="278.3" cy="47.3" rx="0.7" ry="2" transform="rotate(21 278.3 47.3)"/><ellipse cx="294.4" cy="39.9" rx="1" ry="1.7" transform="rotate(21 294.4 39.9)"/><ellipse cx="362.1" cy="59" rx="0.9" ry="1.8" transform="rotate(29 362.1 59)"/><ellipse cx="372.6" cy="79.9" rx="1" ry="1.8" transform="rotate(29 372.6 79.9)"/><ellipse cx="337.4" cy="45.5" rx="0.9" ry="1.4" transform="rotate(22 337.4 45.5)"/><ellipse cx="294.4" cy="85.3" rx="0.9" ry="1.8" transform="rotate(24 294.4 85.3)"/><ellipse cx="381.6" cy="98.8" rx="0.7" ry="1.8" transform="rotate(24 381.6 98.8)"/><ellipse cx="322.2" cy="57.3" rx="0.9" ry="1.8" transform="rotate(15 322.2 57.3)"/><ellipse cx="308.3" cy="55.1" rx="0.9" ry="1.6" transform="rotate(16 308.3 55.1)"/><ellipse cx="324.7" cy="47.8" rx="0.9" ry="1.7" transform="rotate(28 324.7 47.8)"/><ellipse cx="363.1" cy="98.6" rx="0.9" ry="2.1" transform="rotate(18 363.1 98.6)"/><ellipse cx="367.8" cy="76.5" rx="1" ry="1.5" transform="rotate(21 367.8 76.5)"/><ellipse cx="332.1" cy="34.7" rx="0.7" ry="2.3" transform="rotate(14 332.1 34.7)"/><ellipse cx="335.8" cy="44.8" rx="0.9" ry="1.5" transform="rotate(15 335.8 44.8)"/><ellipse cx="315.9" cy="62.1" rx="0.9" ry="1.8" transform="rotate(19 315.9 62.1)"/><ellipse cx="363.5" cy="91" rx="0.9" ry="1.7" transform="rotate(25 363.5 91)"/><ellipse cx="351.5" cy="81.4" rx="0.7" ry="2.1" transform="rotate(26 351.5 81.4)"/><ellipse cx="339" cy="129.3" rx="1" ry="1.8" transform="rotate(26 339 129.3)"/><ellipse cx="322.5" cy="45" rx="0.8" ry="2" transform="rotate(20 322.5 45)"/><ellipse cx="313.5" cy="66.7" rx="1.1" ry="1.9" transform="rotate(13 313.5 66.7)"/><ellipse cx="381.2" cy="92" rx="0.9" ry="1.8" transform="rotate(19 381.2 92)"/><ellipse cx="378.9" cy="119.1" rx="0.9" ry="1.4" transform="rotate(17 378.9 119.1)"/><ellipse cx="325.1" cy="133.4" rx="1" ry="1.8" transform="rotate(21 325.1 133.4)"/><ellipse cx="374.4" cy="91.8" rx="0.9" ry="2" transform="rotate(26 374.4 91.8)"/><ellipse cx="377.8" cy="69.2" rx="0.9" ry="2.1" transform="rotate(15 377.8 69.2)"/><ellipse cx="337.6" cy="54" rx="0.9" ry="1.5" transform="rotate(17 337.6 54)"/><ellipse cx="301.1" cy="121.8" rx="1.1" ry="1.6" transform="rotate(16 301.1 121.8)"/><ellipse cx="296.3" cy="106" rx="1.1" ry="2.2" transform="rotate(23 296.3 106)"/><ellipse cx="289.2" cy="52.6" rx="1" ry="1.4" transform="rotate(13 289.2 52.6)"/><ellipse cx="296.2" cy="49.8" rx="0.9" ry="2.2" transform="rotate(12 296.2 49.8)"/><ellipse cx="299.6" cy="97.1" rx="1" ry="2.1" transform="rotate(23 299.6 97.1)"/><ellipse cx="379.9" cy="42.2" rx="1" ry="2.2" transform="rotate(18 379.9 42.2)"/><ellipse cx="311.6" cy="54.4" rx="0.8" ry="2.3" transform="rotate(28 311.6 54.4)"/><ellipse cx="320.8" cy="104.8" rx="1" ry="1.6" transform="rotate(12 320.8 104.8)"/><ellipse cx="382.3" cy="76.9" rx="1.1" ry="2.2" transform="rotate(21 382.3 76.9)"/><ellipse cx="349" cy="53.7" rx="1" ry="1.4" transform="rotate(22 349 53.7)"/><ellipse cx="334.4" cy="62.6" rx="1.1" ry="2.1" transform="rotate(26 334.4 62.6)"/><ellipse cx="277.7" cy="57.5" rx="0.7" ry="1.9" transform="rotate(28 277.7 57.5)"/><ellipse cx="364.3" cy="91.3" rx="1" ry="1.7" transform="rotate(25 364.3 91.3)"/><ellipse cx="289.7" cy="93.8" rx="0.9" ry="1.7" transform="rotate(12 289.7 93.8)"/><ellipse cx="346.1" cy="136.8" rx="0.9" ry="2" transform="rotate(22 346.1 136.8)"/><ellipse cx="357.7" cy="123.9" rx="0.8" ry="1.6" transform="rotate(19 357.7 123.9)"/><ellipse cx="352.3" cy="125" rx="1" ry="1.8" transform="rotate(23 352.3 125)"/><ellipse cx="356.7" cy="126" rx="1.1" ry="2.1" transform="rotate(27 356.7 126)"/><ellipse cx="363.4" cy="67" rx="1" ry="2" transform="rotate(20 363.4 67)"/><ellipse cx="310.8" cy="30.1" rx="1" ry="2.1" transform="rotate(25 310.8 30.1)"/><ellipse cx="339" cy="90.2" rx="0.9" ry="1.7" transform="rotate(19 339 90.2)"/><ellipse cx="319.9" cy="78.9" rx="1" ry="1.6" transform="rotate(28 319.9 78.9)"/><ellipse cx="365.3" cy="30.7" rx="1" ry="1.6" transform="rotate(12 365.3 30.7)"/><ellipse cx="363.1" cy="58.9" rx="0.9" ry="1.6" transform="rotate(16 363.1 58.9)"/><ellipse cx="300.6" cy="126.6" rx="0.9" ry="1.6" transform="rotate(24 300.6 126.6)"/><ellipse cx="375.3" cy="98.8" rx="0.7" ry="1.5" transform="rotate(15 375.3 98.8)"/><ellipse cx="300.4" cy="92.6" rx="0.7" ry="1.9" transform="rotate(25 300.4 92.6)"/><ellipse cx="365.7" cy="32.6" rx="0.9" ry="1.7" transform="rotate(16 365.7 32.6)"/><ellipse cx="329.4" cy="98.1" rx="1.1" ry="2.3" transform="rotate(17 329.4 98.1)"/><ellipse cx="352.2" cy="79.6" rx="1" ry="1.8" transform="rotate(25 352.2 79.6)"/><ellipse cx="287.6" cy="71.4" rx="0.9" ry="1.8" transform="rotate(16 287.6 71.4)"/><ellipse cx="380.1" cy="100" rx="0.9" ry="1.5" transform="rotate(20 380.1 100)"/><ellipse cx="375.5" cy="121" rx="0.8" ry="1.5" transform="rotate(12 375.5 121)"/><ellipse cx="321" cy="42.8" rx="0.7" ry="2.1" transform="rotate(15 321 42.8)"/><ellipse cx="288" cy="36.6" rx="0.9" ry="2.3" transform="rotate(12 288 36.6)"/><ellipse cx="370.3" cy="43.1" rx="0.9" ry="2.1" transform="rotate(19 370.3 43.1)"/><ellipse cx="346.2" cy="120.8" rx="0.9" ry="1.6" transform="rotate(23 346.2 120.8)"/><ellipse cx="362.7" cy="45.9" rx="0.9" ry="2.2" transform="rotate(15 362.7 45.9)"/><ellipse cx="325.6" cy="42.8" rx="0.9" ry="1.9" transform="rotate(24 325.6 42.8)"/><ellipse cx="378.9" cy="96.5" rx="1" ry="1.6" transform="rotate(27 378.9 96.5)"/><ellipse cx="291" cy="92.8" rx="0.8" ry="2.2" transform="rotate(27 291 92.8)"/><ellipse cx="324" cy="74" rx="0.8" ry="1.9" transform="rotate(24 324 74)"/><ellipse cx="327.8" cy="63.2" rx="0.8" ry="1.6" transform="rotate(29 327.8 63.2)"/><ellipse cx="300.5" cy="76.8" rx="1.1" ry="2.1" transform="rotate(15 300.5 76.8)"/><ellipse cx="293.7" cy="76.4" rx="0.8" ry="1.4" transform="rotate(18 293.7 76.4)"/><ellipse cx="294.2" cy="123.5" rx="0.8" ry="1.7" transform="rotate(22 294.2 123.5)"/><ellipse cx="376.7" cy="103.9" rx="1" ry="2" transform="rotate(16 376.7 103.9)"/><ellipse cx="326.3" cy="130.7" rx="0.9" ry="2" transform="rotate(27 326.3 130.7)"/><ellipse cx="372.6" cy="65.3" rx="0.8" ry="1.5" transform="rotate(24 372.6 65.3)"/><ellipse cx="315.5" cy="88" rx="1" ry="2.2" transform="rotate(18 315.5 88)"/><ellipse cx="341.7" cy="79.6" rx="1" ry="1.6" transform="rotate(21 341.7 79.6)"/><ellipse cx="328.4" cy="93.6" rx="1" ry="1.6" transform="rotate(29 328.4 93.6)"/><ellipse cx="295.2" cy="128.9" rx="0.8" ry="2.2" transform="rotate(15 295.2 128.9)"/><ellipse cx="337.6" cy="36.1" rx="1" ry="2.2" transform="rotate(23 337.6 36.1)"/><ellipse cx="337" cy="90.2" rx="1" ry="1.6" transform="rotate(19 337 90.2)"/><ellipse cx="322.2" cy="127.7" rx="1.1" ry="2.1" transform="rotate(29 322.2 127.7)"/><ellipse cx="276.2" cy="61.2" rx="0.7" ry="2.2" transform="rotate(14 276.2 61.2)"/><ellipse cx="378.4" cy="69.1" rx="0.8" ry="1.7" transform="rotate(20 378.4 69.1)"/><ellipse cx="337.9" cy="89.6" rx="0.8" ry="1.7" transform="rotate(20 337.9 89.6)"/><ellipse cx="326.3" cy="40.7" rx="0.9" ry="2.3" transform="rotate(14 326.3 40.7)"/><ellipse cx="325.1" cy="54.3" rx="0.7" ry="1.9" transform="rotate(18 325.1 54.3)"/><ellipse cx="373.4" cy="77.4" rx="0.9" ry="2" transform="rotate(13 373.4 77.4)"/><ellipse cx="382.9" cy="67.8" rx="0.8" ry="1.5" transform="rotate(19 382.9 67.8)"/><ellipse cx="312.2" cy="75.7" rx="0.7" ry="1.5" transform="rotate(13 312.2 75.7)"/></g></g>
</g>
<rect x="273.5" y="28.6" width="111.7" height="111.1" fill="none" stroke="#000" stroke-width="1.8"/>
<path d="M365.1 130.4H380.9" stroke="#f0201a" stroke-width="1.1"/>
<text x="373.1" y="136.9" font-size="4.8" font-weight="bold" text-anchor="middle" fill="#f0201a">100 µm</text>
<clipPath id="cp2"><rect x="421.3" y="27.7" width="113.4" height="112.9"/></clipPath>
<g clip-path="url(#cp2)">
<g transform="translate(421.3 27.7)"><rect x="0" y="0" width="113.4" height="112.9" fill="#ccc" filter="url(#mC)"/></g>
<g filter="url(#bl3)"><path d="M450.9 88.7L452.7 87.8L454.5 87.2L456.4 87.2L458.4 87.1M450.9 88.7L449.7 88L448.5 87.3L447.4 86.5L446.2 85.9M450.9 88.7L451.5 87.3L452.5 86.3L453.4 85.1L453.7 83.7M450.9 88.7L451.6 87.6L451.9 86.3L452.4 85.1L453.3 84.1M450.9 88.7L449.9 90.6L449 92.6L447.7 94.4L446.4 96.2M450.9 88.7L451.5 86.6L451.4 84.5L451 82.4L449.8 80.6M450.9 88.7L449.4 88.5L448 88L446.8 87L445.6 86.1M512.5 91.8L511.1 90.1L510.1 88.2L509.8 86L510.2 83.9M512.5 91.8L514.7 90.9L517 90.9L519.2 91.7L520.9 93.3M512.5 91.8L510.1 91.3L507.9 90.2L505.8 89L503.6 88.2M512.5 91.8L514.3 93.8L516.7 95L518.7 96.8L520.8 98.5M512.5 91.8L513.1 93.2L513.1 94.8L513.8 96.3L514.4 97.7M512.5 91.8L514.9 92.1L517.1 93.2L518.6 95.1L520.1 97M512.5 91.8L514 91.2L515.5 90.7L516.7 89.6L517.6 88.2M512.5 91.8L511.1 93.5L510.5 95.6L509.2 97.5L508.3 99.5M512.5 91.8L515.1 90.8L517.7 89.7L520.2 88.6L522.9 87.9M487.9 90.2L490.3 89.3L492.9 88.6L495.5 88.5L498 89.3M487.9 90.2L486.6 91.1L485.5 92.1L484.1 92.7L482.6 92.8M487.9 90.2L487.1 91.8L486.8 93.5L486.3 95.2L486.1 97M487.9 90.2L486 92.3L484.5 94.8L483 97.2L481.4 99.5M487.9 90.2L488.8 89.8L489.8 89.5L490.8 89.1L491.8 88.7M487.9 90.2L488.2 91.6L488.1 92.9L488.2 94.3L488.1 95.7M487.9 90.2L489.1 92.6L490 95.1L491.6 97.1L493.1 99.2M487.9 90.2L486.8 89.1L486 87.9L485.3 86.5L484.1 85.4M487.9 90.2L485.9 88.2L483.4 86.7L481.4 84.6L480.4 81.8M434.6 109.1L435.6 107.5L436.1 105.7L436.7 103.8L436.7 101.9M434.6 109.1L434.8 106.4L434.4 103.7L434.8 101.1L435.5 98.5M434.6 109.1L434.6 107.4L434.3 105.7L434.5 104L434.3 102.3M434.6 109.1L433.6 110.6L432.8 112.3L431.5 113.5L430.6 115.1M434.6 109.1L437.3 110.1L439.2 112.2L441.4 114.2L442.5 116.8M434.6 109.1L436 108.7L437.4 108.8L438.8 109.1L440.2 109.5M456.2 67.8L458.6 66.6L460.6 64.7L462 62.4L462.3 59.7M456.2 67.8L456.3 65.8L457.1 63.9L457.8 62L457.7 60M456.2 67.8L455 67.9L453.8 68.4L452.9 69.2L452 70.1M456.2 67.8L459 67.8L461.7 66.8L464.5 67L467.3 67.3M456.2 67.8L456.3 66.7L456.1 65.6L456.3 64.5L456.1 63.4M456.2 67.8L455.8 69.3L455.8 70.8L455.3 72.3L454.8 73.8M485.3 73.9L485.3 76.1L486.2 78.2L487.4 80.1L488 82.2M485.3 73.9L486 71.4L485.6 68.9L485.2 66.4L483.8 64.2M485.3 73.9L484.8 71.9L483.8 70.2L482.1 69L480.4 68M485.3 73.9L484.3 75.2L482.9 75.9L481.5 76.7L480.5 77.9M485.3 73.9L487.7 74.6L490 75.4L492.4 75.3L494.9 75M485.3 73.9L484.3 72.1L482.7 70.8L481.6 69L479.8 67.9M485.3 73.9L483.3 72.4L482 70.2L480.6 68.1L478.4 66.9M448.9 60.5L450.6 61.2L452 62.4L452.8 64.1L453.8 65.6M448.9 60.5L450.6 58.5L452.2 56.5L453.1 54.1L454.6 52M448.9 60.5L448.1 57.8L447.7 55.1L447.9 52.3L448.3 49.6M448.9 60.5L451 60.9L453.2 60.7L455.4 61L457.4 60.3M448.9 60.5L449.6 61.4L450.6 62.2L451.8 62.4L452.8 63M448.9 60.5L450.5 62.6L451.5 65.2L451.3 67.8L451 70.5M448.9 60.5L449.5 59.6L450 58.7L450.8 57.9L451.2 56.9M448.9 60.5L447.8 57.9L446.3 55.4L444.9 52.9L444.3 50.1M448.9 60.5L449.3 61.8L449.5 63.1L449.4 64.5L449.5 65.9M464.3 73.5L461.5 72.8L458.5 72.8L455.8 71.7L453.6 69.8M464.3 73.5L466.1 73.2L467.9 73.1L469.7 73.7L471.3 74.5M464.3 73.5L464.7 75.3L465.7 76.8L466.6 78.3L467.6 79.9M464.3 73.5L463.6 70.7L463.8 67.8L463.1 65L463 62.1M464.3 73.5L464.8 75.5L464.7 77.5L464.5 79.5L463.8 81.4M464.3 73.5L463.2 71L462.3 68.5L462.6 65.8L463.8 63.3M464.3 73.5L463.4 74.8L462.8 76.2L462.2 77.6L461.9 79.1M476.2 121.6L478.2 121.7L480.1 121.7L482 122.3L483.6 123.4M476.2 121.6L474.5 120.5L473.3 119L471.9 117.6L470.8 116M476.2 121.6L477.9 120.7L479.3 119.4L481 118.4L482.8 117.7M476.2 121.6L478.6 120.3L480.5 118.4L482 116.2L482.8 113.6M476.2 121.6L476.4 118.9L476 116.2L476.5 113.5L476.6 110.8M476.2 121.6L474.6 123.4L473.7 125.7L472.3 127.7L471.2 129.9M476.2 121.6L474.6 123L473.8 125L473.3 127.2L472.9 129.3M476.2 121.6L474.8 121.6L473.5 121.1L472.1 120.6L470.8 120.2M438.6 61L439.9 63.4L442 65.2L443.3 67.7L444.8 70M438.6 61L438.5 58.5L438.8 56L439.4 53.5L440.7 51.4M438.6 61L437.4 63.2L435.8 65.1L434.2 67L433.4 69.4M438.6 61L436.9 60.7L435.3 60.2L433.7 59.5L432 59.4M438.6 61L436.8 59.6L435.5 57.8L434.5 55.7L432.9 54.2M438.6 61L439.7 60.3L440.9 59.8L442.1 59.4L443.4 59.1M438.6 61L437.2 59.7L435.5 58.8L433.6 58.6L431.8 58.1M438.6 61L439.1 58.9L439.4 56.9L439.2 54.8L438.8 52.8M516.5 37L516.2 39.4L515.1 41.5L513.2 43L511.4 44.6M516.5 37L516.9 36L517.8 35.2L518.3 34.2L518.9 33.2M516.5 37L516.4 34.9L515.5 33L515 30.9L514.7 28.8M516.5 37L516.4 35.3L515.7 33.6L515.2 31.9L515.2 30.1M516.5 37L516.5 34.9L516 32.9L516.1 30.9L515.9 28.8M516.5 37L515.9 39.7L515.6 42.3L514.5 44.8L513.8 47.4M516.5 37L517.9 36.1L519.2 35.3L520.7 34.7L522.4 34.6M516.5 37L515.8 36.3L515.1 35.5L514.2 34.9L513.4 34.2M516.5 37L516.5 38.4L516.9 39.7L516.9 41L517.2 42.3M510.3 128L511.4 129.2L512.7 130L514.1 130.7L515.7 130.9M510.3 128L511.3 127.6L512.3 127.2L513.3 126.8L514 126.1M510.3 128L509.7 129.5L508.7 130.9L508.4 132.5L507.5 133.9M510.3 128L510.1 126.9L510.3 125.9L511 125.1L511.4 124.1M510.3 128L511.5 128.8L512.8 129.2L514.2 129.4L515.5 130M510.3 128L507.8 129L505.5 130.3L503.1 131.6L501.5 133.7M510.3 128L511.2 126.8L511.5 125.5L511.7 124.1L512.1 122.7M510.3 128L509 129.4L508 131L506.6 132.2L505.2 133.6M463.7 74L464 72.6L464.8 71.3L465.6 70L466 68.5M463.7 74L465.8 74.4L467.9 74.9L470.1 74.8L472.3 74.9M463.7 74L462.3 74.1L461 74.3L459.7 74.7L458.6 75.6M463.7 74L462.8 72.9L461.9 71.7L461.5 70.3L461.6 68.8M463.7 74L464.3 75.7L465.1 77.3L466.4 78.5L467.2 80.1M487.8 115.8L487.4 118.3L486.2 120.6L485.3 123L485 125.6M487.8 115.8L487.2 118.4L487 121L487.8 123.5L488.1 126.1M487.8 115.8L489.5 114.5L490.6 112.6L490.9 110.4L490.5 108.3M487.8 115.8L488.8 116.2L489.6 116.9L490.6 117.4L491.3 118.3M487.8 115.8L485.2 115.2L483.1 113.7L480.6 113.1L478 113M487.8 115.8L485 114.9L482.1 114.6L479.5 113.4L476.6 113.2M487.8 115.8L486.3 116.6L484.7 116.9L483.2 117.6L481.5 117.9M502.2 118.7L501.1 119.5L500 120.3L499 121.2L497.8 121.9M502.2 118.7L500.7 120.9L498.7 122.6L496.3 123.6L493.7 124.1M502.2 118.7L503.1 118.1L504.1 117.7L505.2 117.6L506.1 117.1M502.2 118.7L501 116.7L500 114.6L499.7 112.3L498.4 110.3M502.2 118.7L501.3 118L500.7 117.1L500.3 116.1L500.3 115M502.2 118.7L503.5 119.1L504.6 119.9L505.9 120.6L507.2 121M502.2 118.7L500 120.1L497.5 121.2L494.9 121.1L492.5 120M502.2 118.7L504.7 120.2L507.5 121.3L510.5 121.6L513.2 122.8M502.2 118.7L500.4 117.8L498.5 117.2L496.9 116L495.6 114.4M474.6 96.7L474.7 95.5L475.2 94.4L475.5 93.2L476.1 92.2M474.6 96.7L476.5 97.3L478.1 98.4L479.6 99.6L480.9 101M474.6 96.7L474.5 94L474.5 91.3L474.5 88.5L473.5 86M474.6 96.7L476.2 95.3L477.4 93.4L478.6 91.6L479.8 89.7M474.6 96.7L474.3 95.6L474 94.5L473.3 93.6L472.6 92.7M502.3 76.2L501.1 75.5L500.3 74.3L499.3 73.3L498.3 72.3M502.3 76.2L503.7 76.5L504.9 77.4L505.9 78.4L506.5 79.7M502.3 76.2L504.5 76.9L506.6 77.6L508.7 78.2L510.5 79.6M502.3 76.2L504.7 74.5L507.4 73.5L510 72.2L512.9 72.1M502.3 76.2L503.9 76L505.4 75.4L506.5 74.3L507.9 73.5M456.7 86.2L459.2 86.3L461.7 86.3L464.2 85.9L466.7 86.1M456.7 86.2L456.2 84.7L455.3 83.4L454.4 82.1L453 81.3M456.7 86.2L457.8 88.5L457.8 91L456.7 93.3L455 95.1M456.7 86.2L456 87.2L455.3 88.4L454.5 89.5L453.8 90.5M456.7 86.2L455.4 88.5L454.2 91L452.3 92.8L449.9 94.1M456.7 86.2L455.9 87.4L455.7 88.9L456 90.3L456.3 91.8M456.7 86.2L455.4 86.4L454.2 87L452.9 87.2L451.6 87.5M456.7 86.2L459.2 86.9L461.7 86.6L464.1 85.6L465.8 83.7M471 67.5L468.8 66L466.4 65L464.2 63.7L461.9 62.3M471 67.5L470.1 66.1L468.6 65.2L467.7 63.8L466.5 62.7M471 67.5L472 65.6L473.4 64L475.2 62.9L476.9 61.6M471 67.5L470.5 65.9L469.3 64.7L467.8 64.1L466.2 63.4M471 67.5L473.5 68.4L475.9 69.3L478.1 70.8L479.7 72.9M527.4 85.7L526 85.9L524.7 86L523.5 85.4L522.3 84.8M527.4 85.7L526 86.7L524.4 87.3L522.8 87.9L521.1 87.9M527.4 85.7L528.3 87.1L529.2 88.4L529.8 89.9L529.9 91.5M527.4 85.7L528.8 84L530.4 82.5L532 81L533.7 79.4M527.4 85.7L526.1 87.8L525.6 90.1L524.8 92.4L524.2 94.8M527.4 85.7L524.9 84.4L522.7 82.7L520.1 81.7L518 79.8M527.4 85.7L527.6 87.5L528.1 89.2L529 90.7L529.2 92.5M523.9 65.4L522.9 65.1L521.8 64.9L520.9 64.3L520 63.7M523.9 65.4L526.4 65.1L528.6 64.1L530.9 63.3L532.9 61.8M523.9 65.4L526.1 63.8L528.9 63.2L531.6 63.2L533.7 63M523.9 65.4L525.7 64.8L527.6 64.4L529.3 63.4L530.9 62.4M523.9 65.4L524.3 66.6L524.5 67.9L524.8 69.1L525.1 70.4M523.9 65.4L525.6 64.9L527.4 64.7L529.1 64.2L530.9 63.9M523.9 65.4L524.7 66.3L525.9 67L527.1 67.3L528.2 68M523.9 65.4L523 66.4L522.5 67.7L522.5 69L522.7 70.4M466 129.2L466.8 130.3L467.2 131.6L466.9 133L467 134.4M466 129.2L464.2 131.5L462.1 133.5L460.3 135.8L459.7 138.6M466 129.2L464.1 130.9L462.1 132.4L460.2 134L458.2 135.5M466 129.2L463.9 129.3L461.9 130L459.9 130.5L457.9 130.2M466 129.2L467.1 128.5L468.5 128.2L469.6 127.5L470.6 126.6M466 129.2L465.8 130.3L465.8 131.4L465.3 132.4L465.3 133.5M466 129.2L468.5 130.2L470.5 132.1L472 134.4L473.5 136.6M466 129.2L466.1 128L466.2 126.9L465.9 125.7L465.8 124.5M466 129.2L465.3 131.1L464.9 133.1L464.8 135.1L464.5 137.1M527.7 129L527.6 132L528.5 134.8L529.4 137.6L529.8 139.6M527.7 129L526.8 131.2L525.2 132.8L523.6 134.4L522.1 136.1M527.7 129L525.5 127.4L523.3 125.7L521 124.1L519 122.3M527.7 129L529 130.3L530 131.8L531.6 132.9L532.7 134.4M527.7 129L525.7 131.3L524.4 133.9L523 136.5L520.7 138.4M527.7 129L525 129.7L522.5 130.7L520.1 132.1L517.8 133.5M527.7 129L526.2 129.9L524.4 130.1L522.7 130.3L521.1 131M449 70.9L451.7 70.2L454.3 69.3L456.6 67.7L458.1 65.4M449 70.9L448.8 69.3L448.3 67.7L448.2 66.1L448.5 64.5M449 70.9L449.3 72.5L449.5 74.2L449.2 75.8L449.2 77.5M449 70.9L450 72.2L451.4 73L452.9 73.5L454.2 74.4M449 70.9L446.8 72.2L444.6 73.6L442 73.8L439.5 74.2M449 70.9L449.8 72.1L450.5 73.3L450.6 74.7L451 76.1M449 70.9L448 72.9L446.4 74.5L445.5 76.6L444 78.3M449 70.9L449.5 69.3L449.7 67.7L450.5 66.2L451.5 64.9M449 70.9L450.8 72.4L451.9 74.4L453.5 76.1L455.3 77.5" stroke="#2a2a2a" stroke-width="0.6" fill="none" stroke-linecap="round"/><g fill="#1a1a1a"><circle cx="450.9" cy="88.7" r="1.7"/><circle cx="512.5" cy="91.8" r="1.4"/><circle cx="434.6" cy="109.1" r="1.2"/><circle cx="485.3" cy="73.9" r="1.6"/><circle cx="476.2" cy="121.6" r="1.2"/><circle cx="438.6" cy="61" r="1.7"/><circle cx="516.5" cy="37" r="1.4"/><circle cx="510.3" cy="128" r="1.4"/><circle cx="463.7" cy="74" r="1.3"/><circle cx="487.8" cy="115.8" r="1.2"/><circle cx="474.6" cy="96.7" r="1.5"/><circle cx="502.3" cy="76.2" r="1.3"/><circle cx="527.4" cy="85.7" r="1.3"/><circle cx="466" cy="129.2" r="1.1"/><circle cx="527.7" cy="129" r="1.6"/><circle cx="449" cy="70.9" r="1.6"/></g></g>
</g>
<rect x="422.2" y="28.6" width="111.6" height="111.1" fill="none" stroke="#000" stroke-width="1.8"/>
<path d="M512.7 130.4H531.9" stroke="#f0201a" stroke-width="1.1"/>
<text x="522.6" y="136.9" font-size="4.8" font-weight="bold" text-anchor="middle" fill="#f0201a">50 µm</text>
<clipPath id="cp3"><rect x="571.3" y="27.7" width="112.4" height="112.9"/></clipPath>
<g clip-path="url(#cp3)">
<g transform="translate(571.3 27.7)"><rect x="0" y="0" width="112.4" height="112.9" fill="#ccc" filter="url(#mD)"/></g>
</g>
<rect x="572.2" y="28.6" width="110.6" height="111.1" fill="none" stroke="#000" stroke-width="1.8"/>
<path d="M661.7 130.4H680.9" stroke="#f0201a" stroke-width="1.1"/>
<text x="671.6" y="136.9" font-size="4.8" font-weight="bold" text-anchor="middle" fill="#f0201a">50 µm</text>
<rect x="147" y="228.3" width="15.4" height="32" fill="#EDD27A" stroke="#7a7a70" stroke-width="0.8"/>
<rect x="164.4" y="229" width="15.4" height="31.3" fill="#5E9C22" stroke="#2b4a12" stroke-width="0.8"/>
<rect x="197.6" y="232.4" width="15.2" height="27.9" fill="#EDD27A" stroke="#7a7a70" stroke-width="0.8"/>
<rect x="215" y="228.3" width="15.4" height="32" fill="#3B9D21" stroke="#2b4a12" stroke-width="0.8"/>
<path d="M145.3 173.5V260.3M142.3 260.3H231.3" stroke="#444" stroke-width="0.9" fill="none"/>
<path d="M142.3 260.3H145.3" stroke="#444" stroke-width="0.8"/>
<text x="140.7" y="262.6" font-size="6.6" text-anchor="end" fill="#111" stroke="#111" stroke-width="0.18">0</text>
<path d="M142.3 238.6H145.3" stroke="#444" stroke-width="0.8"/>
<text x="140.7" y="240.9" font-size="6.6" text-anchor="end" fill="#111" stroke="#111" stroke-width="0.18">500</text>
<path d="M142.3 216.9H145.3" stroke="#444" stroke-width="0.8"/>
<text x="140.7" y="219.2" font-size="6.6" text-anchor="end" fill="#111" stroke="#111" stroke-width="0.18">1000</text>
<path d="M142.3 195.2H145.3" stroke="#444" stroke-width="0.8"/>
<text x="140.7" y="197.5" font-size="6.6" text-anchor="end" fill="#111" stroke="#111" stroke-width="0.18">1500</text>
<path d="M142.3 173.5H145.3" stroke="#444" stroke-width="0.8"/>
<text x="140.7" y="175.8" font-size="6.6" text-anchor="end" fill="#111" stroke="#111" stroke-width="0.18">2000</text>
<path d="M154.7 260.3V263.3" stroke="#444" stroke-width="0.8"/>
<text x="154.7" y="271" font-size="6.7" text-anchor="middle" fill="#111" stroke="#111" stroke-width="0.18">VEH</text>
<path d="M172.1 260.3V263.3" stroke="#444" stroke-width="0.8"/>
<text x="172.1" y="271" font-size="6.7" text-anchor="middle" fill="#111" stroke="#111" stroke-width="0.18">CBD</text>
<path d="M205.2 260.3V263.3" stroke="#444" stroke-width="0.8"/>
<text x="205.2" y="271" font-size="6.7" text-anchor="middle" fill="#111" stroke="#111" stroke-width="0.18">VEH</text>
<path d="M222.7 260.3V263.3" stroke="#444" stroke-width="0.8"/>
<text x="222.7" y="271" font-size="6.7" text-anchor="middle" fill="#111" stroke="#111" stroke-width="0.18">CBD</text>
<text transform="translate(121.7 216.9) rotate(-90)" font-size="7" text-anchor="middle" fill="#111" stroke="#111" stroke-width="0.15" xml:space="preserve">Caspase-3-Positive  Cells/mm2</text>
<circle cx="150.1" cy="221.1" r="3.1" fill="#80FFFC" stroke="#000" stroke-width="0.7"/>
<circle cx="153.1" cy="226" r="3.1" fill="#80FFFC" stroke="#000" stroke-width="0.7"/>
<circle cx="158.9" cy="228.4" r="3.1" fill="#80FFFC" stroke="#000" stroke-width="0.7"/>
<circle cx="155.7" cy="230.7" r="3.1" fill="#80FFFC" stroke="#000" stroke-width="0.7"/>
<circle cx="149.8" cy="232.2" r="3.1" fill="#80FFFC" stroke="#000" stroke-width="0.7"/>
<circle cx="169.4" cy="226.6" r="3.1" fill="#80FFFC" stroke="#000" stroke-width="0.7"/>
<circle cx="174.7" cy="226.9" r="3.1" fill="#80FFFC" stroke="#000" stroke-width="0.7"/>
<circle cx="167.4" cy="231" r="3.1" fill="#80FFFC" stroke="#000" stroke-width="0.7"/>
<circle cx="176.4" cy="231.9" r="3.1" fill="#80FFFC" stroke="#000" stroke-width="0.7"/>
<circle cx="200.3" cy="228.6" r="3.1" fill="#FA2A0E" stroke="#000" stroke-width="0.7"/>
<circle cx="203.2" cy="225.4" r="3.1" fill="#FA2A0E" stroke="#000" stroke-width="0.7"/>
<circle cx="206.8" cy="226.3" r="3.1" fill="#FA2A0E" stroke="#000" stroke-width="0.7"/>
<circle cx="210.3" cy="227" r="3.1" fill="#FA2A0E" stroke="#000" stroke-width="0.7"/>
<circle cx="206.8" cy="230.5" r="3.1" fill="#FA2A0E" stroke="#000" stroke-width="0.7"/>
<circle cx="202.9" cy="233.4" r="3.1" fill="#FA2A0E" stroke="#000" stroke-width="0.7"/>
<circle cx="206.5" cy="237.9" r="3.1" fill="#FA2A0E" stroke="#000" stroke-width="0.7"/>
<circle cx="203.6" cy="242.1" r="3.1" fill="#FA2A0E" stroke="#000" stroke-width="0.7"/>
<circle cx="222.2" cy="214.1" r="3.1" fill="#FA2A0E" stroke="#000" stroke-width="0.7"/>
<circle cx="220.9" cy="222.5" r="3.1" fill="#FA2A0E" stroke="#000" stroke-width="0.7"/>
<circle cx="227.6" cy="224.1" r="3.1" fill="#FA2A0E" stroke="#000" stroke-width="0.7"/>
<circle cx="218.3" cy="228.3" r="3.1" fill="#FA2A0E" stroke="#000" stroke-width="0.7"/>
<circle cx="224.4" cy="228.3" r="3.1" fill="#FA2A0E" stroke="#000" stroke-width="0.7"/>
<circle cx="227.6" cy="233.4" r="3.1" fill="#FA2A0E" stroke="#000" stroke-width="0.7"/>
<circle cx="218" cy="236.6" r="3.1" fill="#FA2A0E" stroke="#000" stroke-width="0.7"/>
<circle cx="224.1" cy="236" r="3.1" fill="#FA2A0E" stroke="#000" stroke-width="0.7"/>
<rect x="295.2" y="225.5" width="15.4" height="36" fill="#EDD27A" stroke="#7a7a70" stroke-width="0.8"/>
<rect x="312.6" y="231.3" width="15.4" height="30.2" fill="#5E9C22" stroke="#2b4a12" stroke-width="0.8"/>
<rect x="345.8" y="238.5" width="15.2" height="23" fill="#EDD27A" stroke="#7a7a70" stroke-width="0.8"/>
<rect x="363.2" y="233.9" width="15.4" height="27.6" fill="#3B9D21" stroke="#2b4a12" stroke-width="0.8"/>
<path d="M303 224.4V220.4M300 220.4H306" stroke="#555" stroke-width="0.7" fill="none"/>
<path d="M319 231.2V227.2M316 227.2H322" stroke="#555" stroke-width="0.7" fill="none"/>
<path d="M293.5 174.6V261.5M290.5 261.5H379.5" stroke="#444" stroke-width="0.9" fill="none"/>
<path d="M290.5 261.5H293.5" stroke="#444" stroke-width="0.8"/>
<text x="288.9" y="263.8" font-size="6.6" text-anchor="end" fill="#111" stroke="#111" stroke-width="0.18">0</text>
<path d="M290.5 239.78H293.5" stroke="#444" stroke-width="0.8"/>
<text x="288.9" y="242.08" font-size="6.6" text-anchor="end" fill="#111" stroke="#111" stroke-width="0.18">500</text>
<path d="M290.5 218.05H293.5" stroke="#444" stroke-width="0.8"/>
<text x="288.9" y="220.35" font-size="6.6" text-anchor="end" fill="#111" stroke="#111" stroke-width="0.18">1000</text>
<path d="M290.5 196.32H293.5" stroke="#444" stroke-width="0.8"/>
<text x="288.9" y="198.62" font-size="6.6" text-anchor="end" fill="#111" stroke="#111" stroke-width="0.18">1500</text>
<path d="M290.5 174.6H293.5" stroke="#444" stroke-width="0.8"/>
<text x="288.9" y="176.9" font-size="6.6" text-anchor="end" fill="#111" stroke="#111" stroke-width="0.18">2000</text>
<path d="M302.9 261.5V264.5" stroke="#444" stroke-width="0.8"/>
<text x="302.9" y="272.2" font-size="6.7" text-anchor="middle" fill="#111" stroke="#111" stroke-width="0.18">VEH</text>
<path d="M320.3 261.5V264.5" stroke="#444" stroke-width="0.8"/>
<text x="320.3" y="272.2" font-size="6.7" text-anchor="middle" fill="#111" stroke="#111" stroke-width="0.18">CBD</text>
<path d="M353.4 261.5V264.5" stroke="#444" stroke-width="0.8"/>
<text x="353.4" y="272.2" font-size="6.7" text-anchor="middle" fill="#111" stroke="#111" stroke-width="0.18">VEH</text>
<path d="M370.9 261.5V264.5" stroke="#444" stroke-width="0.8"/>
<text x="370.9" y="272.2" font-size="6.7" text-anchor="middle" fill="#111" stroke="#111" stroke-width="0.18">CBD</text>
<text transform="translate(270 218.05) rotate(-90)" font-size="7" text-anchor="middle" fill="#111" stroke="#111" stroke-width="0.15" xml:space="preserve">NeuN-Positive  Cells/mm2</text>
<circle cx="302.5" cy="210.7" r="3.1" fill="#80FFFC" stroke="#000" stroke-width="0.7"/>
<circle cx="298.2" cy="223" r="3.1" fill="#80FFFC" stroke="#000" stroke-width="0.7"/>
<circle cx="302.5" cy="226.2" r="3.1" fill="#80FFFC" stroke="#000" stroke-width="0.7"/>
<circle cx="307.1" cy="226.2" r="3.1" fill="#80FFFC" stroke="#000" stroke-width="0.7"/>
<circle cx="298.2" cy="232.8" r="3.1" fill="#80FFFC" stroke="#000" stroke-width="0.7"/>
<circle cx="315.7" cy="222" r="3.1" fill="#80FFFC" stroke="#000" stroke-width="0.7"/>
<circle cx="324.5" cy="224.7" r="3.1" fill="#80FFFC" stroke="#000" stroke-width="0.7"/>
<circle cx="315.7" cy="230.2" r="3.1" fill="#80FFFC" stroke="#000" stroke-width="0.7"/>
<circle cx="324.5" cy="236.1" r="3.1" fill="#80FFFC" stroke="#000" stroke-width="0.7"/>
<circle cx="315.7" cy="241" r="3.1" fill="#80FFFC" stroke="#000" stroke-width="0.7"/>
<circle cx="348.5" cy="227" r="3.1" fill="#FA2A0E" stroke="#000" stroke-width="0.7"/>
<circle cx="357.7" cy="232.6" r="3.1" fill="#FA2A0E" stroke="#000" stroke-width="0.7"/>
<circle cx="354.5" cy="234.9" r="3.1" fill="#FA2A0E" stroke="#000" stroke-width="0.7"/>
<circle cx="348.5" cy="236.2" r="3.1" fill="#FA2A0E" stroke="#000" stroke-width="0.7"/>
<circle cx="351.5" cy="240.8" r="3.1" fill="#FA2A0E" stroke="#000" stroke-width="0.7"/>
<circle cx="357.4" cy="242.1" r="3.1" fill="#FA2A0E" stroke="#000" stroke-width="0.7"/>
<circle cx="354.1" cy="243.8" r="3.1" fill="#FA2A0E" stroke="#000" stroke-width="0.7"/>
<circle cx="348.5" cy="247" r="3.1" fill="#FA2A0E" stroke="#000" stroke-width="0.7"/>
<circle cx="370.6" cy="215.2" r="3.1" fill="#FA2A0E" stroke="#000" stroke-width="0.7"/>
<circle cx="370.6" cy="229.6" r="3.1" fill="#FA2A0E" stroke="#000" stroke-width="0.7"/>
<circle cx="367.9" cy="235.2" r="3.1" fill="#FA2A0E" stroke="#000" stroke-width="0.7"/>
<circle cx="375.2" cy="236.2" r="3.1" fill="#FA2A0E" stroke="#000" stroke-width="0.7"/>
<circle cx="366" cy="241.1" r="3.1" fill="#FA2A0E" stroke="#000" stroke-width="0.7"/>
<circle cx="373.2" cy="241.5" r="3.1" fill="#FA2A0E" stroke="#000" stroke-width="0.7"/>
<path d="M310.4 202.4H361.5" stroke="#555" stroke-width="1"/>
<text x="335.7" y="197.5" font-size="7.6" text-anchor="middle" fill="#111" stroke="#111" stroke-width="0.15">#</text>
<rect x="439.9" y="248.6" width="15.4" height="12.5" fill="#EDD27A" stroke="#7a7a70" stroke-width="0.8"/>
<rect x="457.3" y="244.4" width="15.4" height="16.7" fill="#5E9C22" stroke="#2b4a12" stroke-width="0.8"/>
<rect x="490.5" y="223.2" width="15.2" height="37.9" fill="#EDD27A" stroke="#7a7a70" stroke-width="0.8"/>
<rect x="507.9" y="228.4" width="15.4" height="32.7" fill="#3B9D21" stroke="#2b4a12" stroke-width="0.8"/>
<path d="M497.8 222.4V218.4M494.8 218.4H500.8" stroke="#555" stroke-width="0.7" fill="none"/>
<path d="M438.2 174.4V261.1M435.2 261.1H524.2" stroke="#444" stroke-width="0.9" fill="none"/>
<path d="M435.2 261.1H438.2" stroke="#444" stroke-width="0.8"/>
<text x="433.6" y="263.4" font-size="6.6" text-anchor="end" fill="#111" stroke="#111" stroke-width="0.18">0</text>
<path d="M435.2 243.76H438.2" stroke="#444" stroke-width="0.8"/>
<text x="433.6" y="246.06" font-size="6.6" text-anchor="end" fill="#111" stroke="#111" stroke-width="0.18">50</text>
<path d="M435.2 226.42H438.2" stroke="#444" stroke-width="0.8"/>
<text x="433.6" y="228.72" font-size="6.6" text-anchor="end" fill="#111" stroke="#111" stroke-width="0.18">100</text>
<path d="M435.2 209.08H438.2" stroke="#444" stroke-width="0.8"/>
<text x="433.6" y="211.38" font-size="6.6" text-anchor="end" fill="#111" stroke="#111" stroke-width="0.18">150</text>
<path d="M435.2 191.74H438.2" stroke="#444" stroke-width="0.8"/>
<text x="433.6" y="194.04" font-size="6.6" text-anchor="end" fill="#111" stroke="#111" stroke-width="0.18">200</text>
<path d="M435.2 174.4H438.2" stroke="#444" stroke-width="0.8"/>
<text x="433.6" y="176.7" font-size="6.6" text-anchor="end" fill="#111" stroke="#111" stroke-width="0.18">250</text>
<path d="M447.6 261.1V264.1" stroke="#444" stroke-width="0.8"/>
<text x="447.6" y="271.8" font-size="6.7" text-anchor="middle" fill="#111" stroke="#111" stroke-width="0.18">VEH</text>
<path d="M465 261.1V264.1" stroke="#444" stroke-width="0.8"/>
<text x="465" y="271.8" font-size="6.7" text-anchor="middle" fill="#111" stroke="#111" stroke-width="0.18">CBD</text>
<path d="M498.1 261.1V264.1" stroke="#444" stroke-width="0.8"/>
<text x="498.1" y="271.8" font-size="6.7" text-anchor="middle" fill="#111" stroke="#111" stroke-width="0.18">VEH</text>
<path d="M515.6 261.1V264.1" stroke="#444" stroke-width="0.8"/>
<text x="515.6" y="271.8" font-size="6.7" text-anchor="middle" fill="#111" stroke="#111" stroke-width="0.18">CBD</text>
<text transform="translate(417.8 217.75) rotate(-90)" font-size="7" text-anchor="middle" fill="#111" stroke="#111" stroke-width="0.15" xml:space="preserve">GFAP-Positive  Cells/mm2</text>
<circle cx="443" cy="241.9" r="3.1" fill="#80FFFC" stroke="#000" stroke-width="0.7"/>
<circle cx="445.8" cy="248.6" r="3.1" fill="#80FFFC" stroke="#000" stroke-width="0.7"/>
<circle cx="449.9" cy="249.3" r="3.1" fill="#80FFFC" stroke="#000" stroke-width="0.7"/>
<circle cx="452.7" cy="249" r="3.1" fill="#80FFFC" stroke="#000" stroke-width="0.7"/>
<circle cx="442.7" cy="252.8" r="3.1" fill="#80FFFC" stroke="#000" stroke-width="0.7"/>
<circle cx="464.6" cy="235.8" r="3.1" fill="#80FFFC" stroke="#000" stroke-width="0.7"/>
<circle cx="462.9" cy="242.6" r="3.1" fill="#80FFFC" stroke="#000" stroke-width="0.7"/>
<circle cx="469.4" cy="245.8" r="3.1" fill="#80FFFC" stroke="#000" stroke-width="0.7"/>
<circle cx="466" cy="247.9" r="3.1" fill="#80FFFC" stroke="#000" stroke-width="0.7"/>
<circle cx="460.1" cy="249.6" r="3.1" fill="#80FFFC" stroke="#000" stroke-width="0.7"/>
<circle cx="497.7" cy="197.5" r="3.1" fill="#FA2A0E" stroke="#000" stroke-width="0.7"/>
<circle cx="497.7" cy="210" r="3.1" fill="#FA2A0E" stroke="#000" stroke-width="0.7"/>
<circle cx="493.1" cy="223.5" r="3.1" fill="#FA2A0E" stroke="#000" stroke-width="0.7"/>
<circle cx="498" cy="224.9" r="3.1" fill="#FA2A0E" stroke="#000" stroke-width="0.7"/>
<circle cx="502.5" cy="227" r="3.1" fill="#FA2A0E" stroke="#000" stroke-width="0.7"/>
<circle cx="493.1" cy="235.6" r="3.1" fill="#FA2A0E" stroke="#000" stroke-width="0.7"/>
<circle cx="498" cy="234.2" r="3.1" fill="#FA2A0E" stroke="#000" stroke-width="0.7"/>
<circle cx="502.6" cy="235.6" r="3.1" fill="#FA2A0E" stroke="#000" stroke-width="0.7"/>
<circle cx="515.1" cy="214" r="3.1" fill="#FA2A0E" stroke="#000" stroke-width="0.7"/>
<circle cx="514.4" cy="222.1" r="3.1" fill="#FA2A0E" stroke="#000" stroke-width="0.7"/>
<circle cx="516.5" cy="227.7" r="3.1" fill="#FA2A0E" stroke="#000" stroke-width="0.7"/>
<circle cx="512.6" cy="229.8" r="3.1" fill="#FA2A0E" stroke="#000" stroke-width="0.7"/>
<circle cx="510.3" cy="233.3" r="3.1" fill="#FA2A0E" stroke="#000" stroke-width="0.7"/>
<circle cx="516.1" cy="232.8" r="3.1" fill="#FA2A0E" stroke="#000" stroke-width="0.7"/>
<circle cx="519.6" cy="235.4" r="3.1" fill="#FA2A0E" stroke="#000" stroke-width="0.7"/>
<path d="M447.1 181.3H498" stroke="#555" stroke-width="1"/>
<path d="M467.7 172.75L467.7 177.65M469.82 173.97L465.58 176.42M469.82 176.42L465.58 173.97" stroke="#111" stroke-width="1.2" stroke-linecap="round"/><path d="M472.8 172.75L472.8 177.65M474.92 173.97L470.68 176.42M474.92 176.42L470.68 173.97" stroke="#111" stroke-width="1.2" stroke-linecap="round"/><path d="M477.9 172.75L477.9 177.65M480.02 173.97L475.78 176.42M480.02 176.42L475.78 173.97" stroke="#111" stroke-width="1.2" stroke-linecap="round"/>
<path d="M464.4 191.4H515.5" stroke="#555" stroke-width="1"/>
<path d="M490.2 183.15L490.2 188.05M492.32 184.38L488.08 186.82M492.32 186.82L488.08 184.38" stroke="#111" stroke-width="1.2" stroke-linecap="round"/>
<rect x="581.2" y="214.5" width="15.4" height="46.9" fill="#EDD27A" stroke="#7a7a70" stroke-width="0.8"/>
<rect x="598.6" y="224.9" width="15.4" height="36.5" fill="#5E9C22" stroke="#2b4a12" stroke-width="0.8"/>
<rect x="631.8" y="230.5" width="15.2" height="30.9" fill="#EDD27A" stroke="#7a7a70" stroke-width="0.8"/>
<rect x="649.2" y="225.2" width="15.4" height="36.2" fill="#3B9D21" stroke="#2b4a12" stroke-width="0.8"/>
<path d="M589.5 214.3V210.3M586.5 210.3H592.5" stroke="#555" stroke-width="0.7" fill="none"/>
<path d="M579.5 174.8V261.4M576.5 261.4H665.5" stroke="#444" stroke-width="0.9" fill="none"/>
<path d="M576.5 261.4H579.5" stroke="#444" stroke-width="0.8"/>
<text x="574.9" y="263.7" font-size="6.6" text-anchor="end" fill="#111" stroke="#111" stroke-width="0.18">0</text>
<path d="M576.5 239.75H579.5" stroke="#444" stroke-width="0.8"/>
<text x="574.9" y="242.05" font-size="6.6" text-anchor="end" fill="#111" stroke="#111" stroke-width="0.18">20</text>
<path d="M576.5 218.1H579.5" stroke="#444" stroke-width="0.8"/>
<text x="574.9" y="220.4" font-size="6.6" text-anchor="end" fill="#111" stroke="#111" stroke-width="0.18">40</text>
<path d="M576.5 196.45H579.5" stroke="#444" stroke-width="0.8"/>
<text x="574.9" y="198.75" font-size="6.6" text-anchor="end" fill="#111" stroke="#111" stroke-width="0.18">60</text>
<path d="M576.5 174.8H579.5" stroke="#444" stroke-width="0.8"/>
<text x="574.9" y="177.1" font-size="6.6" text-anchor="end" fill="#111" stroke="#111" stroke-width="0.18">80</text>
<path d="M588.9 261.4V264.4" stroke="#444" stroke-width="0.8"/>
<text x="588.9" y="272.1" font-size="6.7" text-anchor="middle" fill="#111" stroke="#111" stroke-width="0.18">VEH</text>
<path d="M606.3 261.4V264.4" stroke="#444" stroke-width="0.8"/>
<text x="606.3" y="272.1" font-size="6.7" text-anchor="middle" fill="#111" stroke="#111" stroke-width="0.18">CBD</text>
<path d="M639.4 261.4V264.4" stroke="#444" stroke-width="0.8"/>
<text x="639.4" y="272.1" font-size="6.7" text-anchor="middle" fill="#111" stroke="#111" stroke-width="0.18">VEH</text>
<path d="M656.9 261.4V264.4" stroke="#444" stroke-width="0.8"/>
<text x="656.9" y="272.1" font-size="6.7" text-anchor="middle" fill="#111" stroke="#111" stroke-width="0.18">CBD</text>
<text transform="translate(563.4 218.1) rotate(-90)" font-size="7" text-anchor="middle" fill="#111" stroke="#111" stroke-width="0.15" xml:space="preserve">NG2-Positive  Cells/mm2</text>
<circle cx="589.1" cy="199.4" r="3.1" fill="#80FFFC" stroke="#000" stroke-width="0.7"/>
<circle cx="584.7" cy="212.8" r="3.1" fill="#80FFFC" stroke="#000" stroke-width="0.7"/>
<circle cx="589.1" cy="216.1" r="3.1" fill="#80FFFC" stroke="#000" stroke-width="0.7"/>
<circle cx="593.6" cy="219.3" r="3.1" fill="#80FFFC" stroke="#000" stroke-width="0.7"/>
<circle cx="584.7" cy="224.6" r="3.1" fill="#80FFFC" stroke="#000" stroke-width="0.7"/>
<circle cx="611" cy="218.6" r="3.1" fill="#80FFFC" stroke="#000" stroke-width="0.7"/>
<circle cx="602" cy="221.4" r="3.1" fill="#80FFFC" stroke="#000" stroke-width="0.7"/>
<circle cx="606.6" cy="223.5" r="3.1" fill="#80FFFC" stroke="#000" stroke-width="0.7"/>
<circle cx="611" cy="226.3" r="3.1" fill="#80FFFC" stroke="#000" stroke-width="0.7"/>
<circle cx="602" cy="232.1" r="3.1" fill="#80FFFC" stroke="#000" stroke-width="0.7"/>
<circle cx="635.1" cy="222.8" r="3.1" fill="#FA2A0E" stroke="#000" stroke-width="0.7"/>
<circle cx="641" cy="224.5" r="3.1" fill="#FA2A0E" stroke="#000" stroke-width="0.7"/>
<circle cx="644.5" cy="226.3" r="3.1" fill="#FA2A0E" stroke="#000" stroke-width="0.7"/>
<circle cx="635.1" cy="230.5" r="3.1" fill="#FA2A0E" stroke="#000" stroke-width="0.7"/>
<circle cx="644.2" cy="234.7" r="3.1" fill="#FA2A0E" stroke="#000" stroke-width="0.7"/>
<circle cx="641" cy="239.1" r="3.1" fill="#FA2A0E" stroke="#000" stroke-width="0.7"/>
<circle cx="635.1" cy="240.6" r="3.1" fill="#FA2A0E" stroke="#000" stroke-width="0.7"/>
<circle cx="657" cy="208.2" r="3.1" fill="#FA2A0E" stroke="#000" stroke-width="0.7"/>
<circle cx="657" cy="217.7" r="3.1" fill="#FA2A0E" stroke="#000" stroke-width="0.7"/>
<circle cx="654.6" cy="224.2" r="3.1" fill="#FA2A0E" stroke="#000" stroke-width="0.7"/>
<circle cx="659.5" cy="224.9" r="3.1" fill="#FA2A0E" stroke="#000" stroke-width="0.7"/>
<circle cx="662.3" cy="227.7" r="3.1" fill="#FA2A0E" stroke="#000" stroke-width="0.7"/>
<circle cx="652.5" cy="231.2" r="3.1" fill="#FA2A0E" stroke="#000" stroke-width="0.7"/>
<circle cx="657" cy="239.5" r="3.1" fill="#FA2A0E" stroke="#000" stroke-width="0.7"/>
<path d="M589.1 189.4H639.7" stroke="#555" stroke-width="1"/>
<path d="M611.85 180.75L611.85 185.65M613.97 181.97L609.73 184.42M613.97 184.42L609.73 181.97" stroke="#111" stroke-width="1.2" stroke-linecap="round"/><path d="M616.95 180.75L616.95 185.65M619.07 181.97L614.83 184.42M619.07 184.42L614.83 181.97" stroke="#111" stroke-width="1.2" stroke-linecap="round"/>
<rect x="147" y="363.5" width="15.4" height="36.9" fill="#EDD27A" stroke="#7a7a70" stroke-width="0.8"/>
<rect x="164.4" y="366" width="15.4" height="34.4" fill="#5E9C22" stroke="#2b4a12" stroke-width="0.8"/>
<rect x="197.6" y="354.5" width="15.2" height="45.9" fill="#EDD27A" stroke="#7a7a70" stroke-width="0.8"/>
<rect x="215" y="369.4" width="15.4" height="31" fill="#3B9D21" stroke="#2b4a12" stroke-width="0.8"/>
<path d="M154.6 363.3V359.3M151.6 359.3H157.6" stroke="#555" stroke-width="0.7" fill="none"/>
<path d="M172 367.2V363.2M169 363.2H175" stroke="#555" stroke-width="0.7" fill="none"/>
<path d="M145.3 313.6V400.4M142.3 400.4H231.3" stroke="#444" stroke-width="0.9" fill="none"/>
<path d="M142.3 400.4H145.3" stroke="#444" stroke-width="0.8"/>
<text x="140.7" y="402.7" font-size="6.6" text-anchor="end" fill="#111" stroke="#111" stroke-width="0.18">0</text>
<path d="M142.3 378.7H145.3" stroke="#444" stroke-width="0.8"/>
<text x="140.7" y="381" font-size="6.6" text-anchor="end" fill="#111" stroke="#111" stroke-width="0.18">500</text>
<path d="M142.3 357H145.3" stroke="#444" stroke-width="0.8"/>
<text x="140.7" y="359.3" font-size="6.6" text-anchor="end" fill="#111" stroke="#111" stroke-width="0.18">1000</text>
<path d="M142.3 335.3H145.3" stroke="#444" stroke-width="0.8"/>
<text x="140.7" y="337.6" font-size="6.6" text-anchor="end" fill="#111" stroke="#111" stroke-width="0.18">1500</text>
<path d="M142.3 313.6H145.3" stroke="#444" stroke-width="0.8"/>
<text x="140.7" y="315.9" font-size="6.6" text-anchor="end" fill="#111" stroke="#111" stroke-width="0.18">2000</text>
<path d="M154.7 400.4V403.4" stroke="#444" stroke-width="0.8"/>
<text x="154.7" y="411.1" font-size="6.7" text-anchor="middle" fill="#111" stroke="#111" stroke-width="0.18">VEH</text>
<path d="M172.1 400.4V403.4" stroke="#444" stroke-width="0.8"/>
<text x="172.1" y="411.1" font-size="6.7" text-anchor="middle" fill="#111" stroke="#111" stroke-width="0.18">CBD</text>
<path d="M205.2 400.4V403.4" stroke="#444" stroke-width="0.8"/>
<text x="205.2" y="411.1" font-size="6.7" text-anchor="middle" fill="#111" stroke="#111" stroke-width="0.18">VEH</text>
<path d="M222.7 400.4V403.4" stroke="#444" stroke-width="0.8"/>
<text x="222.7" y="411.1" font-size="6.7" text-anchor="middle" fill="#111" stroke="#111" stroke-width="0.18">CBD</text>
<text transform="translate(121.7 357) rotate(-90)" font-size="7" text-anchor="middle" fill="#111" stroke="#111" stroke-width="0.15" xml:space="preserve">Caspase-3-Positive  Cells/mm2</text>
<circle cx="150.2" cy="353.8" r="3.1" fill="#80FFFC" stroke="#000" stroke-width="0.7"/>
<circle cx="155.3" cy="355.8" r="3.1" fill="#80FFFC" stroke="#000" stroke-width="0.7"/>
<circle cx="154.8" cy="366.3" r="3.1" fill="#80FFFC" stroke="#000" stroke-width="0.7"/>
<circle cx="150.2" cy="368.8" r="3.1" fill="#80FFFC" stroke="#000" stroke-width="0.7"/>
<circle cx="159.4" cy="368.8" r="3.1" fill="#80FFFC" stroke="#000" stroke-width="0.7"/>
<circle cx="176.4" cy="357" r="3.1" fill="#80FFFC" stroke="#000" stroke-width="0.7"/>
<circle cx="167.8" cy="363.8" r="3.1" fill="#80FFFC" stroke="#000" stroke-width="0.7"/>
<circle cx="172.3" cy="367.7" r="3.1" fill="#80FFFC" stroke="#000" stroke-width="0.7"/>
<circle cx="176.7" cy="369.1" r="3.1" fill="#80FFFC" stroke="#000" stroke-width="0.7"/>
<circle cx="167.8" cy="372.1" r="3.1" fill="#80FFFC" stroke="#000" stroke-width="0.7"/>
<circle cx="205" cy="336.3" r="3.1" fill="#FA2A0E" stroke="#000" stroke-width="0.7"/>
<circle cx="203.6" cy="350.7" r="3.1" fill="#FA2A0E" stroke="#000" stroke-width="0.7"/>
<circle cx="209.5" cy="351.7" r="3.1" fill="#FA2A0E" stroke="#000" stroke-width="0.7"/>
<circle cx="200.5" cy="356.8" r="3.1" fill="#FA2A0E" stroke="#000" stroke-width="0.7"/>
<circle cx="206.4" cy="361.4" r="3.1" fill="#FA2A0E" stroke="#000" stroke-width="0.7"/>
<circle cx="210.6" cy="361.4" r="3.1" fill="#FA2A0E" stroke="#000" stroke-width="0.7"/>
<circle cx="200.5" cy="364.9" r="3.1" fill="#FA2A0E" stroke="#000" stroke-width="0.7"/>
<circle cx="222.4" cy="361.7" r="3.1" fill="#FA2A0E" stroke="#000" stroke-width="0.7"/>
<circle cx="218.2" cy="366.3" r="3.1" fill="#FA2A0E" stroke="#000" stroke-width="0.7"/>
<circle cx="227" cy="367.3" r="3.1" fill="#FA2A0E" stroke="#000" stroke-width="0.7"/>
<circle cx="222.4" cy="371.2" r="3.1" fill="#FA2A0E" stroke="#000" stroke-width="0.7"/>
<circle cx="226.3" cy="372.3" r="3.1" fill="#FA2A0E" stroke="#000" stroke-width="0.7"/>
<circle cx="219.6" cy="378.1" r="3.1" fill="#FA2A0E" stroke="#000" stroke-width="0.7"/>
<path d="M205 325.9H222.7" stroke="#555" stroke-width="1"/>
<path d="M211.45 317.15L211.45 322.05M213.57 318.38L209.33 320.83M213.57 320.83L209.33 318.38" stroke="#111" stroke-width="1.2" stroke-linecap="round"/><path d="M216.55 317.15L216.55 322.05M218.67 318.38L214.43 320.83M218.67 320.83L214.43 318.38" stroke="#111" stroke-width="1.2" stroke-linecap="round"/>
<rect x="295.2" y="376.7" width="15.4" height="24.7" fill="#EDD27A" stroke="#7a7a70" stroke-width="0.8"/>
<rect x="312.6" y="375.4" width="15.4" height="26" fill="#5E9C22" stroke="#2b4a12" stroke-width="0.8"/>
<rect x="345.8" y="384.1" width="15.2" height="17.3" fill="#EDD27A" stroke="#7a7a70" stroke-width="0.8"/>
<rect x="363.2" y="374.2" width="15.4" height="27.2" fill="#3B9D21" stroke="#2b4a12" stroke-width="0.8"/>
<path d="M302.8 376.3V372.3M299.8 372.3H305.8" stroke="#555" stroke-width="0.7" fill="none"/>
<path d="M370.7 374.8V370.8M367.7 370.8H373.7" stroke="#555" stroke-width="0.7" fill="none"/>
<path d="M293.5 315V401.4M290.5 401.4H379.5" stroke="#444" stroke-width="0.9" fill="none"/>
<path d="M290.5 401.4H293.5" stroke="#444" stroke-width="0.8"/>
<text x="288.9" y="403.7" font-size="6.6" text-anchor="end" fill="#111" stroke="#111" stroke-width="0.18">0</text>
<path d="M290.5 379.8H293.5" stroke="#444" stroke-width="0.8"/>
<text x="288.9" y="382.1" font-size="6.6" text-anchor="end" fill="#111" stroke="#111" stroke-width="0.18">500</text>
<path d="M290.5 358.2H293.5" stroke="#444" stroke-width="0.8"/>
<text x="288.9" y="360.5" font-size="6.6" text-anchor="end" fill="#111" stroke="#111" stroke-width="0.18">1000</text>
<path d="M290.5 336.6H293.5" stroke="#444" stroke-width="0.8"/>
<text x="288.9" y="338.9" font-size="6.6" text-anchor="end" fill="#111" stroke="#111" stroke-width="0.18">1500</text>
<path d="M290.5 315H293.5" stroke="#444" stroke-width="0.8"/>
<text x="288.9" y="317.3" font-size="6.6" text-anchor="end" fill="#111" stroke="#111" stroke-width="0.18">2000</text>
<path d="M302.9 401.4V404.4" stroke="#444" stroke-width="0.8"/>
<text x="302.9" y="412.1" font-size="6.7" text-anchor="middle" fill="#111" stroke="#111" stroke-width="0.18">VEH</text>
<path d="M320.3 401.4V404.4" stroke="#444" stroke-width="0.8"/>
<text x="320.3" y="412.1" font-size="6.7" text-anchor="middle" fill="#111" stroke="#111" stroke-width="0.18">CBD</text>
<path d="M353.4 401.4V404.4" stroke="#444" stroke-width="0.8"/>
<text x="353.4" y="412.1" font-size="6.7" text-anchor="middle" fill="#111" stroke="#111" stroke-width="0.18">VEH</text>
<path d="M370.9 401.4V404.4" stroke="#444" stroke-width="0.8"/>
<text x="370.9" y="412.1" font-size="6.7" text-anchor="middle" fill="#111" stroke="#111" stroke-width="0.18">CBD</text>
<text transform="translate(270 358.2) rotate(-90)" font-size="7" text-anchor="middle" fill="#111" stroke="#111" stroke-width="0.15" xml:space="preserve">NeuN-Positive  Cells/mm2</text>
<circle cx="298.2" cy="367.7" r="3.1" fill="#80FFFC" stroke="#000" stroke-width="0.7"/>
<circle cx="307.3" cy="368.7" r="3.1" fill="#80FFFC" stroke="#000" stroke-width="0.7"/>
<circle cx="298.2" cy="378.1" r="3.1" fill="#80FFFC" stroke="#000" stroke-width="0.7"/>
<circle cx="307.3" cy="378.8" r="3.1" fill="#80FFFC" stroke="#000" stroke-width="0.7"/>
<circle cx="302.8" cy="387.9" r="3.1" fill="#80FFFC" stroke="#000" stroke-width="0.7"/>
<circle cx="315.7" cy="372.1" r="3.1" fill="#80FFFC" stroke="#000" stroke-width="0.7"/>
<circle cx="319.6" cy="372.6" r="3.1" fill="#80FFFC" stroke="#000" stroke-width="0.7"/>
<circle cx="324.4" cy="372.6" r="3.1" fill="#80FFFC" stroke="#000" stroke-width="0.7"/>
<circle cx="315.7" cy="378.8" r="3.1" fill="#80FFFC" stroke="#000" stroke-width="0.7"/>
<circle cx="321.6" cy="379.3" r="3.1" fill="#80FFFC" stroke="#000" stroke-width="0.7"/>
<circle cx="353.3" cy="368.4" r="3.1" fill="#FA2A0E" stroke="#000" stroke-width="0.7"/>
<circle cx="353.3" cy="375.4" r="3.1" fill="#FA2A0E" stroke="#000" stroke-width="0.7"/>
<circle cx="353.3" cy="382.3" r="3.1" fill="#FA2A0E" stroke="#000" stroke-width="0.7"/>
<circle cx="349.5" cy="385.5" r="3.1" fill="#FA2A0E" stroke="#000" stroke-width="0.7"/>
<circle cx="357.2" cy="387.2" r="3.1" fill="#FA2A0E" stroke="#000" stroke-width="0.7"/>
<circle cx="353.3" cy="388.6" r="3.1" fill="#FA2A0E" stroke="#000" stroke-width="0.7"/>
<circle cx="348.1" cy="390.3" r="3.1" fill="#FA2A0E" stroke="#000" stroke-width="0.7"/>
<circle cx="357.9" cy="391" r="3.1" fill="#FA2A0E" stroke="#000" stroke-width="0.7"/>
<circle cx="370.4" cy="334.5" r="3.1" fill="#FA2A0E" stroke="#000" stroke-width="0.7"/>
<circle cx="370.4" cy="352.8" r="3.1" fill="#FA2A0E" stroke="#000" stroke-width="0.7"/>
<circle cx="370.4" cy="367" r="3.1" fill="#FA2A0E" stroke="#000" stroke-width="0.7"/>
<circle cx="366.2" cy="383.4" r="3.1" fill="#FA2A0E" stroke="#000" stroke-width="0.7"/>
<circle cx="371.1" cy="386.5" r="3.1" fill="#FA2A0E" stroke="#000" stroke-width="0.7"/>
<circle cx="375" cy="387.9" r="3.1" fill="#FA2A0E" stroke="#000" stroke-width="0.7"/>
<circle cx="366.2" cy="392.5" r="3.1" fill="#FA2A0E" stroke="#000" stroke-width="0.7"/>
<circle cx="371.8" cy="389.3" r="3.1" fill="#FA2A0E" stroke="#000" stroke-width="0.7"/>
<rect x="439.9" y="390.3" width="15.4" height="11.1" fill="#EDD27A" stroke="#7a7a70" stroke-width="0.8"/>
<rect x="457.3" y="383" width="15.4" height="18.4" fill="#5E9C22" stroke="#2b4a12" stroke-width="0.8"/>
<rect x="490.5" y="380.2" width="15.2" height="21.2" fill="#EDD27A" stroke="#7a7a70" stroke-width="0.8"/>
<rect x="507.9" y="385.1" width="15.4" height="16.3" fill="#3B9D21" stroke="#2b4a12" stroke-width="0.8"/>
<path d="M464.9 383.5V379.5M461.9 379.5H467.9" stroke="#555" stroke-width="0.7" fill="none"/>
<path d="M438.2 315V401.4M435.2 401.4H524.2" stroke="#444" stroke-width="0.9" fill="none"/>
<path d="M435.2 401.4H438.2" stroke="#444" stroke-width="0.8"/>
<text x="433.6" y="403.7" font-size="6.6" text-anchor="end" fill="#111" stroke="#111" stroke-width="0.18">0</text>
<path d="M435.2 384.12H438.2" stroke="#444" stroke-width="0.8"/>
<text x="433.6" y="386.42" font-size="6.6" text-anchor="end" fill="#111" stroke="#111" stroke-width="0.18">50</text>
<path d="M435.2 366.84H438.2" stroke="#444" stroke-width="0.8"/>
<text x="433.6" y="369.14" font-size="6.6" text-anchor="end" fill="#111" stroke="#111" stroke-width="0.18">100</text>
<path d="M435.2 349.56H438.2" stroke="#444" stroke-width="0.8"/>
<text x="433.6" y="351.86" font-size="6.6" text-anchor="end" fill="#111" stroke="#111" stroke-width="0.18">150</text>
<path d="M435.2 332.28H438.2" stroke="#444" stroke-width="0.8"/>
<text x="433.6" y="334.58" font-size="6.6" text-anchor="end" fill="#111" stroke="#111" stroke-width="0.18">200</text>
<path d="M435.2 315H438.2" stroke="#444" stroke-width="0.8"/>
<text x="433.6" y="317.3" font-size="6.6" text-anchor="end" fill="#111" stroke="#111" stroke-width="0.18">250</text>
<path d="M447.6 401.4V404.4" stroke="#444" stroke-width="0.8"/>
<text x="447.6" y="412.1" font-size="6.7" text-anchor="middle" fill="#111" stroke="#111" stroke-width="0.18">VEH</text>
<path d="M465 401.4V404.4" stroke="#444" stroke-width="0.8"/>
<text x="465" y="412.1" font-size="6.7" text-anchor="middle" fill="#111" stroke="#111" stroke-width="0.18">CBD</text>
<path d="M498.1 401.4V404.4" stroke="#444" stroke-width="0.8"/>
<text x="498.1" y="412.1" font-size="6.7" text-anchor="middle" fill="#111" stroke="#111" stroke-width="0.18">VEH</text>
<path d="M515.6 401.4V404.4" stroke="#444" stroke-width="0.8"/>
<text x="515.6" y="412.1" font-size="6.7" text-anchor="middle" fill="#111" stroke="#111" stroke-width="0.18">CBD</text>
<text transform="translate(417.8 358.2) rotate(-90)" font-size="7" text-anchor="middle" fill="#111" stroke="#111" stroke-width="0.15" xml:space="preserve">GFAP-Positive  Cells/mm2</text>
<circle cx="446" cy="383" r="3.1" fill="#80FFFC" stroke="#000" stroke-width="0.7"/>
<circle cx="442.3" cy="385.8" r="3.1" fill="#80FFFC" stroke="#000" stroke-width="0.7"/>
<circle cx="451.6" cy="387.9" r="3.1" fill="#80FFFC" stroke="#000" stroke-width="0.7"/>
<circle cx="448.5" cy="390.3" r="3.1" fill="#80FFFC" stroke="#000" stroke-width="0.7"/>
<circle cx="442.7" cy="392.8" r="3.1" fill="#80FFFC" stroke="#000" stroke-width="0.7"/>
<circle cx="464.6" cy="369.5" r="3.1" fill="#80FFFC" stroke="#000" stroke-width="0.7"/>
<circle cx="466" cy="385.5" r="3.1" fill="#80FFFC" stroke="#000" stroke-width="0.7"/>
<circle cx="462.5" cy="385.8" r="3.1" fill="#80FFFC" stroke="#000" stroke-width="0.7"/>
<circle cx="470.1" cy="385.5" r="3.1" fill="#80FFFC" stroke="#000" stroke-width="0.7"/>
<circle cx="460.1" cy="387.5" r="3.1" fill="#80FFFC" stroke="#000" stroke-width="0.7"/>
<circle cx="493.4" cy="369.1" r="3.1" fill="#FA2A0E" stroke="#000" stroke-width="0.7"/>
<circle cx="502.5" cy="371.6" r="3.1" fill="#FA2A0E" stroke="#000" stroke-width="0.7"/>
<circle cx="492.4" cy="377.4" r="3.1" fill="#FA2A0E" stroke="#000" stroke-width="0.7"/>
<circle cx="496.2" cy="377.9" r="3.1" fill="#FA2A0E" stroke="#000" stroke-width="0.7"/>
<circle cx="500.1" cy="377.4" r="3.1" fill="#FA2A0E" stroke="#000" stroke-width="0.7"/>
<circle cx="502.9" cy="380.2" r="3.1" fill="#FA2A0E" stroke="#000" stroke-width="0.7"/>
<circle cx="493.4" cy="384.7" r="3.1" fill="#FA2A0E" stroke="#000" stroke-width="0.7"/>
<circle cx="499.4" cy="384.4" r="3.1" fill="#FA2A0E" stroke="#000" stroke-width="0.7"/>
<circle cx="511" cy="379.1" r="3.1" fill="#FA2A0E" stroke="#000" stroke-width="0.7"/>
<circle cx="519.6" cy="382.3" r="3.1" fill="#FA2A0E" stroke="#000" stroke-width="0.7"/>
<circle cx="514.7" cy="382.3" r="3.1" fill="#FA2A0E" stroke="#000" stroke-width="0.7"/>
<circle cx="515.4" cy="387.2" r="3.1" fill="#FA2A0E" stroke="#000" stroke-width="0.7"/>
<circle cx="512.3" cy="392.1" r="3.1" fill="#FA2A0E" stroke="#000" stroke-width="0.7"/>
<circle cx="518.9" cy="387.2" r="3.1" fill="#FA2A0E" stroke="#000" stroke-width="0.7"/>
<path d="M447.1 359.3H498" stroke="#555" stroke-width="1"/>
<path d="M470.25 350.65L470.25 355.55M472.37 351.88L468.13 354.33M472.37 354.33L468.13 351.88" stroke="#111" stroke-width="1.2" stroke-linecap="round"/><path d="M475.35 350.65L475.35 355.55M477.47 351.88L473.23 354.33M477.47 354.33L473.23 351.88" stroke="#111" stroke-width="1.2" stroke-linecap="round"/>
<rect x="581.2" y="356.3" width="15.4" height="45.1" fill="#EDD27A" stroke="#7a7a70" stroke-width="0.8"/>
<rect x="598.6" y="365.3" width="15.4" height="36.1" fill="#5E9C22" stroke="#2b4a12" stroke-width="0.8"/>
<rect x="631.8" y="387.2" width="15.2" height="14.2" fill="#EDD27A" stroke="#7a7a70" stroke-width="0.8"/>
<rect x="649.2" y="366.3" width="15.4" height="35.1" fill="#3B9D21" stroke="#2b4a12" stroke-width="0.8"/>
<path d="M606.5 366.1V362.1M603.5 362.1H609.5" stroke="#555" stroke-width="0.7" fill="none"/>
<path d="M579.5 314.8V401.4M576.5 401.4H665.5" stroke="#444" stroke-width="0.9" fill="none"/>
<path d="M576.5 401.4H579.5" stroke="#444" stroke-width="0.8"/>
<text x="574.9" y="403.7" font-size="6.6" text-anchor="end" fill="#111" stroke="#111" stroke-width="0.18">0</text>
<path d="M576.5 379.75H579.5" stroke="#444" stroke-width="0.8"/>
<text x="574.9" y="382.05" font-size="6.6" text-anchor="end" fill="#111" stroke="#111" stroke-width="0.18">20</text>
<path d="M576.5 358.1H579.5" stroke="#444" stroke-width="0.8"/>
<text x="574.9" y="360.4" font-size="6.6" text-anchor="end" fill="#111" stroke="#111" stroke-width="0.18">40</text>
<path d="M576.5 336.45H579.5" stroke="#444" stroke-width="0.8"/>
<text x="574.9" y="338.75" font-size="6.6" text-anchor="end" fill="#111" stroke="#111" stroke-width="0.18">60</text>
<path d="M576.5 314.8H579.5" stroke="#444" stroke-width="0.8"/>
<text x="574.9" y="317.1" font-size="6.6" text-anchor="end" fill="#111" stroke="#111" stroke-width="0.18">80</text>
<path d="M588.9 401.4V404.4" stroke="#444" stroke-width="0.8"/>
<text x="588.9" y="412.1" font-size="6.7" text-anchor="middle" fill="#111" stroke="#111" stroke-width="0.18">VEH</text>
<path d="M606.3 401.4V404.4" stroke="#444" stroke-width="0.8"/>
<text x="606.3" y="412.1" font-size="6.7" text-anchor="middle" fill="#111" stroke="#111" stroke-width="0.18">CBD</text>
<path d="M639.4 401.4V404.4" stroke="#444" stroke-width="0.8"/>
<text x="639.4" y="412.1" font-size="6.7" text-anchor="middle" fill="#111" stroke="#111" stroke-width="0.18">VEH</text>
<path d="M656.9 401.4V404.4" stroke="#444" stroke-width="0.8"/>
<text x="656.9" y="412.1" font-size="6.7" text-anchor="middle" fill="#111" stroke="#111" stroke-width="0.18">CBD</text>
<text transform="translate(563.4 358.1) rotate(-90)" font-size="7" text-anchor="middle" fill="#111" stroke="#111" stroke-width="0.15" xml:space="preserve">NG2-Positive  Cells/mm2</text>
<circle cx="584.7" cy="346.5" r="3.1" fill="#80FFFC" stroke="#000" stroke-width="0.7"/>
<circle cx="593.6" cy="349.3" r="3.1" fill="#80FFFC" stroke="#000" stroke-width="0.7"/>
<circle cx="584.7" cy="353.8" r="3.1" fill="#80FFFC" stroke="#000" stroke-width="0.7"/>
<circle cx="589.1" cy="361" r="3.1" fill="#80FFFC" stroke="#000" stroke-width="0.7"/>
<circle cx="589.1" cy="369.1" r="3.1" fill="#80FFFC" stroke="#000" stroke-width="0.7"/>
<circle cx="606.6" cy="358.4" r="3.1" fill="#80FFFC" stroke="#000" stroke-width="0.7"/>
<circle cx="611.4" cy="360.7" r="3.1" fill="#80FFFC" stroke="#000" stroke-width="0.7"/>
<circle cx="606.6" cy="367.3" r="3.1" fill="#80FFFC" stroke="#000" stroke-width="0.7"/>
<circle cx="611.4" cy="369.4" r="3.1" fill="#80FFFC" stroke="#000" stroke-width="0.7"/>
<circle cx="602" cy="371.6" r="3.1" fill="#80FFFC" stroke="#000" stroke-width="0.7"/>
<circle cx="638.2" cy="375.4" r="3.1" fill="#FA2A0E" stroke="#000" stroke-width="0.7"/>
<circle cx="634.4" cy="379.5" r="3.1" fill="#FA2A0E" stroke="#000" stroke-width="0.7"/>
<circle cx="641.4" cy="381.3" r="3.1" fill="#FA2A0E" stroke="#000" stroke-width="0.7"/>
<circle cx="638.2" cy="384.4" r="3.1" fill="#FA2A0E" stroke="#000" stroke-width="0.7"/>
<circle cx="644.5" cy="385.5" r="3.1" fill="#FA2A0E" stroke="#000" stroke-width="0.7"/>
<circle cx="634.4" cy="387.2" r="3.1" fill="#FA2A0E" stroke="#000" stroke-width="0.7"/>
<circle cx="641" cy="389.6" r="3.1" fill="#FA2A0E" stroke="#000" stroke-width="0.7"/>
<circle cx="637.9" cy="394.9" r="3.1" fill="#FA2A0E" stroke="#000" stroke-width="0.7"/>
<circle cx="655.6" cy="353.3" r="3.1" fill="#FA2A0E" stroke="#000" stroke-width="0.7"/>
<circle cx="652.5" cy="359.1" r="3.1" fill="#FA2A0E" stroke="#000" stroke-width="0.7"/>
<circle cx="658.5" cy="360.7" r="3.1" fill="#FA2A0E" stroke="#000" stroke-width="0.7"/>
<circle cx="662.3" cy="361" r="3.1" fill="#FA2A0E" stroke="#000" stroke-width="0.7"/>
<circle cx="655" cy="362.8" r="3.1" fill="#FA2A0E" stroke="#000" stroke-width="0.7"/>
<circle cx="657.1" cy="374.2" r="3.1" fill="#FA2A0E" stroke="#000" stroke-width="0.7"/>
<circle cx="660.2" cy="376.3" r="3.1" fill="#FA2A0E" stroke="#000" stroke-width="0.7"/>
<circle cx="653.9" cy="380.9" r="3.1" fill="#FA2A0E" stroke="#000" stroke-width="0.7"/>
<path d="M589.1 336.3H637.9" stroke="#555" stroke-width="1"/>
<path d="M606.25 327.65L606.25 332.55M608.37 328.88L604.13 331.33M608.37 331.33L604.13 328.88" stroke="#111" stroke-width="1.2" stroke-linecap="round"/><path d="M611.35 327.65L611.35 332.55M613.47 328.88L609.23 331.33M613.47 331.33L609.23 328.88" stroke="#111" stroke-width="1.2" stroke-linecap="round"/><path d="M616.45 327.65L616.45 332.55M618.57 328.88L614.33 331.33M618.57 331.33L614.33 328.88" stroke="#111" stroke-width="1.2" stroke-linecap="round"/><path d="M621.55 327.65L621.55 332.55M623.67 328.88L619.43 331.33M623.67 331.33L619.43 328.88" stroke="#111" stroke-width="1.2" stroke-linecap="round"/>
<path d="M641.1 336.3H657.1" stroke="#555" stroke-width="1"/>
<path d="M644.2 327.65L644.2 332.55M646.32 328.88L642.08 331.33M646.32 331.33L642.08 328.88" stroke="#111" stroke-width="1.2" stroke-linecap="round"/><path d="M649.3 327.65L649.3 332.55M651.42 328.88L647.18 331.33M651.42 331.33L647.18 328.88" stroke="#111" stroke-width="1.2" stroke-linecap="round"/><path d="M654.4 327.65L654.4 332.55M656.52 328.88L652.28 331.33M656.52 331.33L652.28 328.88" stroke="#111" stroke-width="1.2" stroke-linecap="round"/>
<rect x="147" y="525.1" width="15.4" height="15.7" fill="#EDD27A" stroke="#7a7a70" stroke-width="0.8"/>
<rect x="164.4" y="525.5" width="15.4" height="15.3" fill="#5E9C22" stroke="#2b4a12" stroke-width="0.8"/>
<rect x="197.6" y="511.9" width="15.2" height="28.9" fill="#EDD27A" stroke="#7a7a70" stroke-width="0.8"/>
<rect x="215" y="510.5" width="15.4" height="30.3" fill="#3B9D21" stroke="#2b4a12" stroke-width="0.8"/>
<path d="M145.3 454.5V540.8M142.3 540.8H231.3" stroke="#444" stroke-width="0.9" fill="none"/>
<path d="M142.3 540.8H145.3" stroke="#444" stroke-width="0.8"/>
<text x="140.7" y="543.1" font-size="6.6" text-anchor="end" fill="#111" stroke="#111" stroke-width="0.18">0</text>
<path d="M142.3 519.22H145.3" stroke="#444" stroke-width="0.8"/>
<text x="140.7" y="521.52" font-size="6.6" text-anchor="end" fill="#111" stroke="#111" stroke-width="0.18">500</text>
<path d="M142.3 497.65H145.3" stroke="#444" stroke-width="0.8"/>
<text x="140.7" y="499.95" font-size="6.6" text-anchor="end" fill="#111" stroke="#111" stroke-width="0.18">1000</text>
<path d="M142.3 476.07H145.3" stroke="#444" stroke-width="0.8"/>
<text x="140.7" y="478.38" font-size="6.6" text-anchor="end" fill="#111" stroke="#111" stroke-width="0.18">1500</text>
<path d="M142.3 454.5H145.3" stroke="#444" stroke-width="0.8"/>
<text x="140.7" y="456.8" font-size="6.6" text-anchor="end" fill="#111" stroke="#111" stroke-width="0.18">2000</text>
<path d="M154.7 540.8V543.8" stroke="#444" stroke-width="0.8"/>
<text x="154.7" y="551.5" font-size="6.7" text-anchor="middle" fill="#111" stroke="#111" stroke-width="0.18">VEH</text>
<path d="M172.1 540.8V543.8" stroke="#444" stroke-width="0.8"/>
<text x="172.1" y="551.5" font-size="6.7" text-anchor="middle" fill="#111" stroke="#111" stroke-width="0.18">CBD</text>
<path d="M205.2 540.8V543.8" stroke="#444" stroke-width="0.8"/>
<text x="205.2" y="551.5" font-size="6.7" text-anchor="middle" fill="#111" stroke="#111" stroke-width="0.18">VEH</text>
<path d="M222.7 540.8V543.8" stroke="#444" stroke-width="0.8"/>
<text x="222.7" y="551.5" font-size="6.7" text-anchor="middle" fill="#111" stroke="#111" stroke-width="0.18">CBD</text>
<text transform="translate(121.7 497.65) rotate(-90)" font-size="7" text-anchor="middle" fill="#111" stroke="#111" stroke-width="0.15" xml:space="preserve">Caspase-3-Positive  Cells/mm2</text>
<circle cx="149.3" cy="521.6" r="3.1" fill="#80FFFC" stroke="#000" stroke-width="0.7"/>
<circle cx="152.1" cy="520.9" r="3.1" fill="#80FFFC" stroke="#000" stroke-width="0.7"/>
<circle cx="154.8" cy="520.6" r="3.1" fill="#80FFFC" stroke="#000" stroke-width="0.7"/>
<circle cx="157.6" cy="520.9" r="3.1" fill="#80FFFC" stroke="#000" stroke-width="0.7"/>
<circle cx="159.7" cy="522" r="3.1" fill="#80FFFC" stroke="#000" stroke-width="0.7"/>
<circle cx="166.7" cy="522.3" r="3.1" fill="#80FFFC" stroke="#000" stroke-width="0.7"/>
<circle cx="169.5" cy="520.2" r="3.1" fill="#80FFFC" stroke="#000" stroke-width="0.7"/>
<circle cx="171.6" cy="521.6" r="3.1" fill="#80FFFC" stroke="#000" stroke-width="0.7"/>
<circle cx="175" cy="520.6" r="3.1" fill="#80FFFC" stroke="#000" stroke-width="0.7"/>
<circle cx="177.1" cy="522.3" r="3.1" fill="#80FFFC" stroke="#000" stroke-width="0.7"/>
<circle cx="202.9" cy="507" r="3.1" fill="#FA2A0E" stroke="#000" stroke-width="0.7"/>
<circle cx="207.8" cy="508.4" r="3.1" fill="#FA2A0E" stroke="#000" stroke-width="0.7"/>
<circle cx="200.8" cy="513.3" r="3.1" fill="#FA2A0E" stroke="#000" stroke-width="0.7"/>
<circle cx="202.9" cy="510.5" r="3.1" fill="#FA2A0E" stroke="#000" stroke-width="0.7"/>
<circle cx="206.4" cy="511.9" r="3.1" fill="#FA2A0E" stroke="#000" stroke-width="0.7"/>
<circle cx="209.6" cy="517.9" r="3.1" fill="#FA2A0E" stroke="#000" stroke-width="0.7"/>
<circle cx="198.7" cy="514" r="3.1" fill="#FA2A0E" stroke="#000" stroke-width="0.7"/>
<circle cx="222.4" cy="501.4" r="3.1" fill="#FA2A0E" stroke="#000" stroke-width="0.7"/>
<circle cx="218" cy="508.4" r="3.1" fill="#FA2A0E" stroke="#000" stroke-width="0.7"/>
<circle cx="223.8" cy="509.4" r="3.1" fill="#FA2A0E" stroke="#000" stroke-width="0.7"/>
<circle cx="227.7" cy="511.6" r="3.1" fill="#FA2A0E" stroke="#000" stroke-width="0.7"/>
<circle cx="222.1" cy="514.2" r="3.1" fill="#FA2A0E" stroke="#000" stroke-width="0.7"/>
<circle cx="226.3" cy="516" r="3.1" fill="#FA2A0E" stroke="#000" stroke-width="0.7"/>
<circle cx="219.3" cy="518.8" r="3.1" fill="#FA2A0E" stroke="#000" stroke-width="0.7"/>
<path d="M158.3 494.5H215.4" stroke="#555" stroke-width="1"/>
<text x="186.9" y="490" font-size="7.6" text-anchor="middle" fill="#111" stroke="#111" stroke-width="0.15">####</text>
<rect x="295.2" y="508.4" width="15.4" height="33.4" fill="#EDD27A" stroke="#7a7a70" stroke-width="0.8"/>
<rect x="312.6" y="511.9" width="15.4" height="29.9" fill="#5E9C22" stroke="#2b4a12" stroke-width="0.8"/>
<rect x="345.8" y="510.5" width="15.2" height="31.3" fill="#EDD27A" stroke="#7a7a70" stroke-width="0.8"/>
<rect x="363.2" y="508.1" width="15.4" height="33.7" fill="#3B9D21" stroke="#2b4a12" stroke-width="0.8"/>
<path d="M320 511.5V507.5M317 507.5H323" stroke="#555" stroke-width="0.7" fill="none"/>
<path d="M293.5 455.4V541.8M290.5 541.8H379.5" stroke="#444" stroke-width="0.9" fill="none"/>
<path d="M290.5 541.8H293.5" stroke="#444" stroke-width="0.8"/>
<text x="288.9" y="544.1" font-size="6.6" text-anchor="end" fill="#111" stroke="#111" stroke-width="0.18">0</text>
<path d="M290.5 520.2H293.5" stroke="#444" stroke-width="0.8"/>
<text x="288.9" y="522.5" font-size="6.6" text-anchor="end" fill="#111" stroke="#111" stroke-width="0.18">500</text>
<path d="M290.5 498.6H293.5" stroke="#444" stroke-width="0.8"/>
<text x="288.9" y="500.9" font-size="6.6" text-anchor="end" fill="#111" stroke="#111" stroke-width="0.18">1000</text>
<path d="M290.5 477H293.5" stroke="#444" stroke-width="0.8"/>
<text x="288.9" y="479.3" font-size="6.6" text-anchor="end" fill="#111" stroke="#111" stroke-width="0.18">1500</text>
<path d="M290.5 455.4H293.5" stroke="#444" stroke-width="0.8"/>
<text x="288.9" y="457.7" font-size="6.6" text-anchor="end" fill="#111" stroke="#111" stroke-width="0.18">2000</text>
<path d="M302.9 541.8V544.8" stroke="#444" stroke-width="0.8"/>
<text x="302.9" y="552.5" font-size="6.7" text-anchor="middle" fill="#111" stroke="#111" stroke-width="0.18">VEH</text>
<path d="M320.3 541.8V544.8" stroke="#444" stroke-width="0.8"/>
<text x="320.3" y="552.5" font-size="6.7" text-anchor="middle" fill="#111" stroke="#111" stroke-width="0.18">CBD</text>
<path d="M353.4 541.8V544.8" stroke="#444" stroke-width="0.8"/>
<text x="353.4" y="552.5" font-size="6.7" text-anchor="middle" fill="#111" stroke="#111" stroke-width="0.18">VEH</text>
<path d="M370.9 541.8V544.8" stroke="#444" stroke-width="0.8"/>
<text x="370.9" y="552.5" font-size="6.7" text-anchor="middle" fill="#111" stroke="#111" stroke-width="0.18">CBD</text>
<text transform="translate(270 498.6) rotate(-90)" font-size="7" text-anchor="middle" fill="#111" stroke="#111" stroke-width="0.15" xml:space="preserve">NeuN-Positive  Cells/mm2</text>
<circle cx="298.2" cy="502.1" r="3.1" fill="#80FFFC" stroke="#000" stroke-width="0.7"/>
<circle cx="301.4" cy="506.7" r="3.1" fill="#80FFFC" stroke="#000" stroke-width="0.7"/>
<circle cx="307" cy="508" r="3.1" fill="#80FFFC" stroke="#000" stroke-width="0.7"/>
<circle cx="303.8" cy="510.5" r="3.1" fill="#80FFFC" stroke="#000" stroke-width="0.7"/>
<circle cx="298.2" cy="513.3" r="3.1" fill="#80FFFC" stroke="#000" stroke-width="0.7"/>
<circle cx="315.8" cy="502.5" r="3.1" fill="#80FFFC" stroke="#000" stroke-width="0.7"/>
<circle cx="324.4" cy="505.6" r="3.1" fill="#80FFFC" stroke="#000" stroke-width="0.7"/>
<circle cx="315.8" cy="510.8" r="3.1" fill="#80FFFC" stroke="#000" stroke-width="0.7"/>
<circle cx="324.4" cy="517" r="3.1" fill="#80FFFC" stroke="#000" stroke-width="0.7"/>
<circle cx="315.8" cy="522" r="3.1" fill="#80FFFC" stroke="#000" stroke-width="0.7"/>
<circle cx="348.1" cy="502.4" r="3.1" fill="#FA2A0E" stroke="#000" stroke-width="0.7"/>
<circle cx="353.3" cy="502.8" r="3.1" fill="#FA2A0E" stroke="#000" stroke-width="0.7"/>
<circle cx="357.9" cy="503.2" r="3.1" fill="#FA2A0E" stroke="#000" stroke-width="0.7"/>
<circle cx="348.1" cy="507.7" r="3.1" fill="#FA2A0E" stroke="#000" stroke-width="0.7"/>
<circle cx="353.3" cy="507" r="3.1" fill="#FA2A0E" stroke="#000" stroke-width="0.7"/>
<circle cx="357.9" cy="508" r="3.1" fill="#FA2A0E" stroke="#000" stroke-width="0.7"/>
<circle cx="353.3" cy="519.3" r="3.1" fill="#FA2A0E" stroke="#000" stroke-width="0.7"/>
<circle cx="353.3" cy="532.2" r="3.1" fill="#FA2A0E" stroke="#000" stroke-width="0.7"/>
<circle cx="366.2" cy="502.1" r="3.1" fill="#FA2A0E" stroke="#000" stroke-width="0.7"/>
<circle cx="375" cy="502.1" r="3.1" fill="#FA2A0E" stroke="#000" stroke-width="0.7"/>
<circle cx="370.4" cy="503.5" r="3.1" fill="#FA2A0E" stroke="#000" stroke-width="0.7"/>
<circle cx="372.5" cy="505.2" r="3.1" fill="#FA2A0E" stroke="#000" stroke-width="0.7"/>
<circle cx="370.4" cy="512.8" r="3.1" fill="#FA2A0E" stroke="#000" stroke-width="0.7"/>
<circle cx="375" cy="515.6" r="3.1" fill="#FA2A0E" stroke="#000" stroke-width="0.7"/>
<circle cx="366.2" cy="517.7" r="3.1" fill="#FA2A0E" stroke="#000" stroke-width="0.7"/>
<rect x="439.9" y="527.2" width="15.4" height="14.6" fill="#EDD27A" stroke="#7a7a70" stroke-width="0.8"/>
<rect x="457.3" y="525.8" width="15.4" height="16" fill="#5E9C22" stroke="#2b4a12" stroke-width="0.8"/>
<rect x="490.5" y="516.3" width="15.2" height="25.5" fill="#EDD27A" stroke="#7a7a70" stroke-width="0.8"/>
<rect x="507.9" y="509.1" width="15.4" height="32.7" fill="#3B9D21" stroke="#2b4a12" stroke-width="0.8"/>
<path d="M438.2 455.4V541.8M435.2 541.8H524.2" stroke="#444" stroke-width="0.9" fill="none"/>
<path d="M435.2 541.8H438.2" stroke="#444" stroke-width="0.8"/>
<text x="433.6" y="544.1" font-size="6.6" text-anchor="end" fill="#111" stroke="#111" stroke-width="0.18">0</text>
<path d="M435.2 524.52H438.2" stroke="#444" stroke-width="0.8"/>
<text x="433.6" y="526.82" font-size="6.6" text-anchor="end" fill="#111" stroke="#111" stroke-width="0.18">50</text>
<path d="M435.2 507.24H438.2" stroke="#444" stroke-width="0.8"/>
<text x="433.6" y="509.54" font-size="6.6" text-anchor="end" fill="#111" stroke="#111" stroke-width="0.18">100</text>
<path d="M435.2 489.96H438.2" stroke="#444" stroke-width="0.8"/>
<text x="433.6" y="492.26" font-size="6.6" text-anchor="end" fill="#111" stroke="#111" stroke-width="0.18">150</text>
<path d="M435.2 472.68H438.2" stroke="#444" stroke-width="0.8"/>
<text x="433.6" y="474.98" font-size="6.6" text-anchor="end" fill="#111" stroke="#111" stroke-width="0.18">200</text>
<path d="M435.2 455.4H438.2" stroke="#444" stroke-width="0.8"/>
<text x="433.6" y="457.7" font-size="6.6" text-anchor="end" fill="#111" stroke="#111" stroke-width="0.18">250</text>
<path d="M447.6 541.8V544.8" stroke="#444" stroke-width="0.8"/>
<text x="447.6" y="552.5" font-size="6.7" text-anchor="middle" fill="#111" stroke="#111" stroke-width="0.18">VEH</text>
<path d="M465 541.8V544.8" stroke="#444" stroke-width="0.8"/>
<text x="465" y="552.5" font-size="6.7" text-anchor="middle" fill="#111" stroke="#111" stroke-width="0.18">CBD</text>
<path d="M498.1 541.8V544.8" stroke="#444" stroke-width="0.8"/>
<text x="498.1" y="552.5" font-size="6.7" text-anchor="middle" fill="#111" stroke="#111" stroke-width="0.18">VEH</text>
<path d="M515.6 541.8V544.8" stroke="#444" stroke-width="0.8"/>
<text x="515.6" y="552.5" font-size="6.7" text-anchor="middle" fill="#111" stroke="#111" stroke-width="0.18">CBD</text>
<text transform="translate(417.8 498.6) rotate(-90)" font-size="7" text-anchor="middle" fill="#111" stroke="#111" stroke-width="0.15" xml:space="preserve">GFAP-Positive  Cells/mm2</text>
<circle cx="443" cy="523" r="3.1" fill="#80FFFC" stroke="#000" stroke-width="0.7"/>
<circle cx="446" cy="522.3" r="3.1" fill="#80FFFC" stroke="#000" stroke-width="0.7"/>
<circle cx="448.8" cy="527.2" r="3.1" fill="#80FFFC" stroke="#000" stroke-width="0.7"/>
<circle cx="452.4" cy="526.5" r="3.1" fill="#80FFFC" stroke="#000" stroke-width="0.7"/>
<circle cx="443" cy="532.8" r="3.1" fill="#80FFFC" stroke="#000" stroke-width="0.7"/>
<circle cx="460" cy="522.3" r="3.1" fill="#80FFFC" stroke="#000" stroke-width="0.7"/>
<circle cx="463.2" cy="522.3" r="3.1" fill="#80FFFC" stroke="#000" stroke-width="0.7"/>
<circle cx="469.2" cy="525.1" r="3.1" fill="#80FFFC" stroke="#000" stroke-width="0.7"/>
<circle cx="466" cy="528.3" r="3.1" fill="#80FFFC" stroke="#000" stroke-width="0.7"/>
<circle cx="460.4" cy="531.4" r="3.1" fill="#80FFFC" stroke="#000" stroke-width="0.7"/>
<circle cx="497.7" cy="496.5" r="3.1" fill="#FA2A0E" stroke="#000" stroke-width="0.7"/>
<circle cx="496.2" cy="508.8" r="3.1" fill="#FA2A0E" stroke="#000" stroke-width="0.7"/>
<circle cx="499.4" cy="511.9" r="3.1" fill="#FA2A0E" stroke="#000" stroke-width="0.7"/>
<circle cx="496.2" cy="517.2" r="3.1" fill="#FA2A0E" stroke="#000" stroke-width="0.7"/>
<circle cx="493.1" cy="519.8" r="3.1" fill="#FA2A0E" stroke="#000" stroke-width="0.7"/>
<circle cx="502.2" cy="523" r="3.1" fill="#FA2A0E" stroke="#000" stroke-width="0.7"/>
<circle cx="499.1" cy="524.1" r="3.1" fill="#FA2A0E" stroke="#000" stroke-width="0.7"/>
<circle cx="493.1" cy="527.9" r="3.1" fill="#FA2A0E" stroke="#000" stroke-width="0.7"/>
<circle cx="513.3" cy="496.5" r="3.1" fill="#FA2A0E" stroke="#000" stroke-width="0.7"/>
<circle cx="516.8" cy="496.8" r="3.1" fill="#FA2A0E" stroke="#000" stroke-width="0.7"/>
<circle cx="513.7" cy="505.6" r="3.1" fill="#FA2A0E" stroke="#000" stroke-width="0.7"/>
<circle cx="520" cy="508.8" r="3.1" fill="#FA2A0E" stroke="#000" stroke-width="0.7"/>
<circle cx="511" cy="510.8" r="3.1" fill="#FA2A0E" stroke="#000" stroke-width="0.7"/>
<circle cx="516.8" cy="511.9" r="3.1" fill="#FA2A0E" stroke="#000" stroke-width="0.7"/>
<circle cx="516.8" cy="527.9" r="3.1" fill="#FA2A0E" stroke="#000" stroke-width="0.7"/>
<circle cx="513.3" cy="528.9" r="3.1" fill="#FA2A0E" stroke="#000" stroke-width="0.7"/>
<path d="M457.2 483.3H506.1" stroke="#555" stroke-width="1"/>
<text x="481.7" y="479" font-size="7.6" text-anchor="middle" fill="#111" stroke="#111" stroke-width="0.15">##</text>
<rect x="581.2" y="485.1" width="15.4" height="56.7" fill="#EDD27A" stroke="#7a7a70" stroke-width="0.8"/>
<rect x="598.6" y="499.3" width="15.4" height="42.5" fill="#5E9C22" stroke="#2b4a12" stroke-width="0.8"/>
<rect x="631.8" y="509.4" width="15.2" height="32.4" fill="#EDD27A" stroke="#7a7a70" stroke-width="0.8"/>
<rect x="649.2" y="502.1" width="15.4" height="39.7" fill="#3B9D21" stroke="#2b4a12" stroke-width="0.8"/>
<path d="M589.3 483.1V479.1M586.3 479.1H592.3" stroke="#555" stroke-width="0.7" fill="none"/>
<path d="M657.2 497.5V493.5M654.2 493.5H660.2" stroke="#555" stroke-width="0.7" fill="none"/>
<path d="M579.5 455.4V541.8M576.5 541.8H665.5" stroke="#444" stroke-width="0.9" fill="none"/>
<path d="M576.5 541.8H579.5" stroke="#444" stroke-width="0.8"/>
<text x="574.9" y="544.1" font-size="6.6" text-anchor="end" fill="#111" stroke="#111" stroke-width="0.18">0</text>
<path d="M576.5 520.2H579.5" stroke="#444" stroke-width="0.8"/>
<text x="574.9" y="522.5" font-size="6.6" text-anchor="end" fill="#111" stroke="#111" stroke-width="0.18">20</text>
<path d="M576.5 498.6H579.5" stroke="#444" stroke-width="0.8"/>
<text x="574.9" y="500.9" font-size="6.6" text-anchor="end" fill="#111" stroke="#111" stroke-width="0.18">40</text>
<path d="M576.5 477H579.5" stroke="#444" stroke-width="0.8"/>
<text x="574.9" y="479.3" font-size="6.6" text-anchor="end" fill="#111" stroke="#111" stroke-width="0.18">60</text>
<path d="M576.5 455.4H579.5" stroke="#444" stroke-width="0.8"/>
<text x="574.9" y="457.7" font-size="6.6" text-anchor="end" fill="#111" stroke="#111" stroke-width="0.18">80</text>
<path d="M588.9 541.8V544.8" stroke="#444" stroke-width="0.8"/>
<text x="588.9" y="552.5" font-size="6.7" text-anchor="middle" fill="#111" stroke="#111" stroke-width="0.18">VEH</text>
<path d="M606.3 541.8V544.8" stroke="#444" stroke-width="0.8"/>
<text x="606.3" y="552.5" font-size="6.7" text-anchor="middle" fill="#111" stroke="#111" stroke-width="0.18">CBD</text>
<path d="M639.4 541.8V544.8" stroke="#444" stroke-width="0.8"/>
<text x="639.4" y="552.5" font-size="6.7" text-anchor="middle" fill="#111" stroke="#111" stroke-width="0.18">VEH</text>
<path d="M656.9 541.8V544.8" stroke="#444" stroke-width="0.8"/>
<text x="656.9" y="552.5" font-size="6.7" text-anchor="middle" fill="#111" stroke="#111" stroke-width="0.18">CBD</text>
<text transform="translate(563.4 498.6) rotate(-90)" font-size="7" text-anchor="middle" fill="#111" stroke="#111" stroke-width="0.15" xml:space="preserve">NG2-Positive  Cells/mm2</text>
<circle cx="584.7" cy="470.1" r="3.1" fill="#80FFFC" stroke="#000" stroke-width="0.7"/>
<circle cx="593.6" cy="476.8" r="3.1" fill="#80FFFC" stroke="#000" stroke-width="0.7"/>
<circle cx="584.7" cy="486.8" r="3.1" fill="#80FFFC" stroke="#000" stroke-width="0.7"/>
<circle cx="593.6" cy="489.3" r="3.1" fill="#80FFFC" stroke="#000" stroke-width="0.7"/>
<circle cx="589.1" cy="500.4" r="3.1" fill="#80FFFC" stroke="#000" stroke-width="0.7"/>
<circle cx="602" cy="492.1" r="3.1" fill="#80FFFC" stroke="#000" stroke-width="0.7"/>
<circle cx="611" cy="494.5" r="3.1" fill="#80FFFC" stroke="#000" stroke-width="0.7"/>
<circle cx="606.6" cy="499.1" r="3.1" fill="#80FFFC" stroke="#000" stroke-width="0.7"/>
<circle cx="611" cy="502.1" r="3.1" fill="#80FFFC" stroke="#000" stroke-width="0.7"/>
<circle cx="602" cy="506.3" r="3.1" fill="#80FFFC" stroke="#000" stroke-width="0.7"/>
<circle cx="635.1" cy="490.3" r="3.1" fill="#FA2A0E" stroke="#000" stroke-width="0.7"/>
<circle cx="644.2" cy="496.5" r="3.1" fill="#FA2A0E" stroke="#000" stroke-width="0.7"/>
<circle cx="635.1" cy="501" r="3.1" fill="#FA2A0E" stroke="#000" stroke-width="0.7"/>
<circle cx="644.2" cy="503.8" r="3.1" fill="#FA2A0E" stroke="#000" stroke-width="0.7"/>
<circle cx="639.3" cy="506.3" r="3.1" fill="#FA2A0E" stroke="#000" stroke-width="0.7"/>
<circle cx="639.3" cy="516.7" r="3.1" fill="#FA2A0E" stroke="#000" stroke-width="0.7"/>
<circle cx="641.8" cy="525.5" r="3.1" fill="#FA2A0E" stroke="#000" stroke-width="0.7"/>
<circle cx="637.2" cy="531.4" r="3.1" fill="#FA2A0E" stroke="#000" stroke-width="0.7"/>
<circle cx="658.5" cy="472.6" r="3.1" fill="#FA2A0E" stroke="#000" stroke-width="0.7"/>
<circle cx="655.3" cy="477.3" r="3.1" fill="#FA2A0E" stroke="#000" stroke-width="0.7"/>
<circle cx="652.5" cy="501" r="3.1" fill="#FA2A0E" stroke="#000" stroke-width="0.7"/>
<circle cx="661.3" cy="500" r="3.1" fill="#FA2A0E" stroke="#000" stroke-width="0.7"/>
<circle cx="658.1" cy="503.5" r="3.1" fill="#FA2A0E" stroke="#000" stroke-width="0.7"/>
<circle cx="655.3" cy="507" r="3.1" fill="#FA2A0E" stroke="#000" stroke-width="0.7"/>
<circle cx="658.5" cy="516.1" r="3.1" fill="#FA2A0E" stroke="#000" stroke-width="0.7"/>
<circle cx="655.3" cy="522.7" r="3.1" fill="#FA2A0E" stroke="#000" stroke-width="0.7"/>
<path d="M596.5 458.7H649.3" stroke="#555" stroke-width="1"/>
<text x="622.9" y="453.9" font-size="7.6" text-anchor="middle" fill="#111" stroke="#111" stroke-width="0.15">#</text>
<rect x="147" y="654.7" width="15.4" height="25.7" fill="#EDD27A" stroke="#7a7a70" stroke-width="0.8"/>
<rect x="164.4" y="657.4" width="15.4" height="23" fill="#5E9C22" stroke="#2b4a12" stroke-width="0.8"/>
<rect x="197.6" y="642.1" width="15.2" height="38.3" fill="#EDD27A" stroke="#7a7a70" stroke-width="0.8"/>
<rect x="215" y="651.9" width="15.4" height="28.5" fill="#3B9D21" stroke="#2b4a12" stroke-width="0.8"/>
<path d="M145.3 594.5V680.4M142.3 680.4H231.3" stroke="#444" stroke-width="0.9" fill="none"/>
<path d="M142.3 680.4H145.3" stroke="#444" stroke-width="0.8"/>
<text x="140.7" y="682.7" font-size="6.6" text-anchor="end" fill="#111" stroke="#111" stroke-width="0.18">0</text>
<path d="M142.3 658.92H145.3" stroke="#444" stroke-width="0.8"/>
<text x="140.7" y="661.22" font-size="6.6" text-anchor="end" fill="#111" stroke="#111" stroke-width="0.18">500</text>
<path d="M142.3 637.45H145.3" stroke="#444" stroke-width="0.8"/>
<text x="140.7" y="639.75" font-size="6.6" text-anchor="end" fill="#111" stroke="#111" stroke-width="0.18">1000</text>
<path d="M142.3 615.98H145.3" stroke="#444" stroke-width="0.8"/>
<text x="140.7" y="618.27" font-size="6.6" text-anchor="end" fill="#111" stroke="#111" stroke-width="0.18">1500</text>
<path d="M142.3 594.5H145.3" stroke="#444" stroke-width="0.8"/>
<text x="140.7" y="596.8" font-size="6.6" text-anchor="end" fill="#111" stroke="#111" stroke-width="0.18">2000</text>
<path d="M154.7 680.4V683.4" stroke="#444" stroke-width="0.8"/>
<text x="154.7" y="691.1" font-size="6.7" text-anchor="middle" fill="#111" stroke="#111" stroke-width="0.18">VEH</text>
<path d="M172.1 680.4V683.4" stroke="#444" stroke-width="0.8"/>
<text x="172.1" y="691.1" font-size="6.7" text-anchor="middle" fill="#111" stroke="#111" stroke-width="0.18">CBD</text>
<path d="M205.2 680.4V683.4" stroke="#444" stroke-width="0.8"/>
<text x="205.2" y="691.1" font-size="6.7" text-anchor="middle" fill="#111" stroke="#111" stroke-width="0.18">VEH</text>
<path d="M222.7 680.4V683.4" stroke="#444" stroke-width="0.8"/>
<text x="222.7" y="691.1" font-size="6.7" text-anchor="middle" fill="#111" stroke="#111" stroke-width="0.18">CBD</text>
<text transform="translate(121.7 637.45) rotate(-90)" font-size="7" text-anchor="middle" fill="#111" stroke="#111" stroke-width="0.15" xml:space="preserve">Caspase-3-Positive  Cells/mm2</text>
<circle cx="152.1" cy="647.4" r="3.1" fill="#80FFFC" stroke="#000" stroke-width="0.7"/>
<circle cx="156.9" cy="648.4" r="3.1" fill="#80FFFC" stroke="#000" stroke-width="0.7"/>
<circle cx="154.8" cy="649.8" r="3.1" fill="#80FFFC" stroke="#000" stroke-width="0.7"/>
<circle cx="150" cy="651.9" r="3.1" fill="#80FFFC" stroke="#000" stroke-width="0.7"/>
<circle cx="159" cy="654" r="3.1" fill="#80FFFC" stroke="#000" stroke-width="0.7"/>
<circle cx="169.5" cy="652.6" r="3.1" fill="#80FFFC" stroke="#000" stroke-width="0.7"/>
<circle cx="173.6" cy="653" r="3.1" fill="#80FFFC" stroke="#000" stroke-width="0.7"/>
<circle cx="167.1" cy="656.7" r="3.1" fill="#80FFFC" stroke="#000" stroke-width="0.7"/>
<circle cx="176.4" cy="657.4" r="3.1" fill="#80FFFC" stroke="#000" stroke-width="0.7"/>
<circle cx="171" cy="654.5" r="3.1" fill="#80FFFC" stroke="#000" stroke-width="0.7"/>
<circle cx="202.9" cy="635.4" r="3.1" fill="#FA2A0E" stroke="#000" stroke-width="0.7"/>
<circle cx="207.8" cy="639.1" r="3.1" fill="#FA2A0E" stroke="#000" stroke-width="0.7"/>
<circle cx="202.9" cy="641.4" r="3.1" fill="#FA2A0E" stroke="#000" stroke-width="0.7"/>
<circle cx="200.1" cy="644.6" r="3.1" fill="#FA2A0E" stroke="#000" stroke-width="0.7"/>
<circle cx="207.1" cy="643.5" r="3.1" fill="#FA2A0E" stroke="#000" stroke-width="0.7"/>
<circle cx="209.6" cy="648" r="3.1" fill="#FA2A0E" stroke="#000" stroke-width="0.7"/>
<circle cx="222.4" cy="644.9" r="3.1" fill="#FA2A0E" stroke="#000" stroke-width="0.7"/>
<circle cx="218.2" cy="652.6" r="3.1" fill="#FA2A0E" stroke="#000" stroke-width="0.7"/>
<circle cx="222.4" cy="651.6" r="3.1" fill="#FA2A0E" stroke="#000" stroke-width="0.7"/>
<circle cx="227" cy="651.2" r="3.1" fill="#FA2A0E" stroke="#000" stroke-width="0.7"/>
<circle cx="225.2" cy="654.7" r="3.1" fill="#FA2A0E" stroke="#000" stroke-width="0.7"/>
<circle cx="222.4" cy="661.3" r="3.1" fill="#FA2A0E" stroke="#000" stroke-width="0.7"/>
<circle cx="220.3" cy="649.8" r="3.1" fill="#FA2A0E" stroke="#000" stroke-width="0.7"/>
<path d="M153 626.4H202.9" stroke="#555" stroke-width="1"/>
<path d="M173.4 617.35L173.4 622.25M175.52 618.57L171.28 621.02M175.52 621.02L171.28 618.57" stroke="#111" stroke-width="1.2" stroke-linecap="round"/><path d="M178.5 617.35L178.5 622.25M180.62 618.57L176.38 621.02M180.62 621.02L176.38 618.57" stroke="#111" stroke-width="1.2" stroke-linecap="round"/><path d="M183.6 617.35L183.6 622.25M185.72 618.57L181.48 621.02M185.72 621.02L181.48 618.57" stroke="#111" stroke-width="1.2" stroke-linecap="round"/>
<path d="M205 626.4H222.7" stroke="#555" stroke-width="1"/>
<path d="M206.35 617.35L206.35 622.25M208.47 618.57L204.23 621.02M208.47 621.02L204.23 618.57" stroke="#111" stroke-width="1.2" stroke-linecap="round"/><path d="M211.45 617.35L211.45 622.25M213.57 618.57L209.33 621.02M213.57 621.02L209.33 618.57" stroke="#111" stroke-width="1.2" stroke-linecap="round"/><path d="M216.55 617.35L216.55 622.25M218.67 618.57L214.43 621.02M218.67 621.02L214.43 618.57" stroke="#111" stroke-width="1.2" stroke-linecap="round"/><path d="M221.65 617.35L221.65 622.25M223.77 618.57L219.53 621.02M223.77 621.02L219.53 618.57" stroke="#111" stroke-width="1.2" stroke-linecap="round"/>
<rect x="295.2" y="653.3" width="15.4" height="28.5" fill="#EDD27A" stroke="#7a7a70" stroke-width="0.8"/>
<rect x="312.6" y="650.8" width="15.4" height="31" fill="#5E9C22" stroke="#2b4a12" stroke-width="0.8"/>
<rect x="345.8" y="657.4" width="15.2" height="24.4" fill="#EDD27A" stroke="#7a7a70" stroke-width="0.8"/>
<rect x="363.2" y="648.4" width="15.4" height="33.4" fill="#3B9D21" stroke="#2b4a12" stroke-width="0.8"/>
<path d="M320.2 650.3V646.3M317.2 646.3H323.2" stroke="#555" stroke-width="0.7" fill="none"/>
<path d="M293.5 595.4V681.8M290.5 681.8H379.5" stroke="#444" stroke-width="0.9" fill="none"/>
<path d="M290.5 681.8H293.5" stroke="#444" stroke-width="0.8"/>
<text x="288.9" y="684.1" font-size="6.6" text-anchor="end" fill="#111" stroke="#111" stroke-width="0.18">0</text>
<path d="M290.5 660.2H293.5" stroke="#444" stroke-width="0.8"/>
<text x="288.9" y="662.5" font-size="6.6" text-anchor="end" fill="#111" stroke="#111" stroke-width="0.18">500</text>
<path d="M290.5 638.6H293.5" stroke="#444" stroke-width="0.8"/>
<text x="288.9" y="640.9" font-size="6.6" text-anchor="end" fill="#111" stroke="#111" stroke-width="0.18">1000</text>
<path d="M290.5 617H293.5" stroke="#444" stroke-width="0.8"/>
<text x="288.9" y="619.3" font-size="6.6" text-anchor="end" fill="#111" stroke="#111" stroke-width="0.18">1500</text>
<path d="M290.5 595.4H293.5" stroke="#444" stroke-width="0.8"/>
<text x="288.9" y="597.7" font-size="6.6" text-anchor="end" fill="#111" stroke="#111" stroke-width="0.18">2000</text>
<path d="M302.9 681.8V684.8" stroke="#444" stroke-width="0.8"/>
<text x="302.9" y="692.5" font-size="6.7" text-anchor="middle" fill="#111" stroke="#111" stroke-width="0.18">VEH</text>
<path d="M320.3 681.8V684.8" stroke="#444" stroke-width="0.8"/>
<text x="320.3" y="692.5" font-size="6.7" text-anchor="middle" fill="#111" stroke="#111" stroke-width="0.18">CBD</text>
<path d="M353.4 681.8V684.8" stroke="#444" stroke-width="0.8"/>
<text x="353.4" y="692.5" font-size="6.7" text-anchor="middle" fill="#111" stroke="#111" stroke-width="0.18">VEH</text>
<path d="M370.9 681.8V684.8" stroke="#444" stroke-width="0.8"/>
<text x="370.9" y="692.5" font-size="6.7" text-anchor="middle" fill="#111" stroke="#111" stroke-width="0.18">CBD</text>
<text transform="translate(270 638.6) rotate(-90)" font-size="7" text-anchor="middle" fill="#111" stroke="#111" stroke-width="0.15" xml:space="preserve">NeuN-Positive  Cells/mm2</text>
<circle cx="298.2" cy="650.2" r="3.1" fill="#80FFFC" stroke="#000" stroke-width="0.7"/>
<circle cx="307" cy="648.4" r="3.1" fill="#80FFFC" stroke="#000" stroke-width="0.7"/>
<circle cx="302.8" cy="651.9" r="3.1" fill="#80FFFC" stroke="#000" stroke-width="0.7"/>
<circle cx="307.3" cy="656.7" r="3.1" fill="#80FFFC" stroke="#000" stroke-width="0.7"/>
<circle cx="298.2" cy="658.6" r="3.1" fill="#80FFFC" stroke="#000" stroke-width="0.7"/>
<circle cx="317.7" cy="640" r="3.1" fill="#80FFFC" stroke="#000" stroke-width="0.7"/>
<circle cx="322.6" cy="643.2" r="3.1" fill="#80FFFC" stroke="#000" stroke-width="0.7"/>
<circle cx="319.8" cy="653.3" r="3.1" fill="#80FFFC" stroke="#000" stroke-width="0.7"/>
<circle cx="324.4" cy="656.7" r="3.1" fill="#80FFFC" stroke="#000" stroke-width="0.7"/>
<circle cx="315.8" cy="659.5" r="3.1" fill="#80FFFC" stroke="#000" stroke-width="0.7"/>
<circle cx="348.1" cy="651.9" r="3.1" fill="#FA2A0E" stroke="#000" stroke-width="0.7"/>
<circle cx="351.6" cy="651.2" r="3.1" fill="#FA2A0E" stroke="#000" stroke-width="0.7"/>
<circle cx="355.1" cy="650.9" r="3.1" fill="#FA2A0E" stroke="#000" stroke-width="0.7"/>
<circle cx="357.9" cy="652.3" r="3.1" fill="#FA2A0E" stroke="#000" stroke-width="0.7"/>
<circle cx="353.3" cy="655.8" r="3.1" fill="#FA2A0E" stroke="#000" stroke-width="0.7"/>
<circle cx="353.3" cy="660.2" r="3.1" fill="#FA2A0E" stroke="#000" stroke-width="0.7"/>
<circle cx="354.4" cy="664.7" r="3.1" fill="#FA2A0E" stroke="#000" stroke-width="0.7"/>
<circle cx="352.3" cy="670.4" r="3.1" fill="#FA2A0E" stroke="#000" stroke-width="0.7"/>
<circle cx="366.2" cy="641.4" r="3.1" fill="#FA2A0E" stroke="#000" stroke-width="0.7"/>
<circle cx="370.4" cy="641.8" r="3.1" fill="#FA2A0E" stroke="#000" stroke-width="0.7"/>
<circle cx="375.3" cy="642.8" r="3.1" fill="#FA2A0E" stroke="#000" stroke-width="0.7"/>
<circle cx="372.5" cy="645.9" r="3.1" fill="#FA2A0E" stroke="#000" stroke-width="0.7"/>
<circle cx="368" cy="648.4" r="3.1" fill="#FA2A0E" stroke="#000" stroke-width="0.7"/>
<circle cx="371.1" cy="651.2" r="3.1" fill="#FA2A0E" stroke="#000" stroke-width="0.7"/>
<circle cx="368" cy="655.4" r="3.1" fill="#FA2A0E" stroke="#000" stroke-width="0.7"/>
<circle cx="373.2" cy="655.4" r="3.1" fill="#FA2A0E" stroke="#000" stroke-width="0.7"/>
<path d="M303.1 626.8H319.8" stroke="#555" stroke-width="1"/>
<text x="311.5" y="622.3" font-size="7.6" text-anchor="middle" fill="#111" stroke="#111" stroke-width="0.15">#</text>
<path d="M354.8 627.2H371.5" stroke="#555" stroke-width="1"/>
<text x="363" y="622.8" font-size="7.6" text-anchor="middle" fill="#111" stroke="#111" stroke-width="0.15">#</text>
<rect x="439.9" y="668" width="15.4" height="13.8" fill="#EDD27A" stroke="#7a7a70" stroke-width="0.8"/>
<rect x="457.3" y="664" width="15.4" height="17.8" fill="#5E9C22" stroke="#2b4a12" stroke-width="0.8"/>
<rect x="490.5" y="643.5" width="15.2" height="38.3" fill="#EDD27A" stroke="#7a7a70" stroke-width="0.8"/>
<rect x="507.9" y="656" width="15.4" height="25.8" fill="#3B9D21" stroke="#2b4a12" stroke-width="0.8"/>
<path d="M497.5 645V641M494.5 641H500.5" stroke="#555" stroke-width="0.7" fill="none"/>
<path d="M438.2 595.4V681.8M435.2 681.8H524.2" stroke="#444" stroke-width="0.9" fill="none"/>
<path d="M435.2 681.8H438.2" stroke="#444" stroke-width="0.8"/>
<text x="433.6" y="684.1" font-size="6.6" text-anchor="end" fill="#111" stroke="#111" stroke-width="0.18">0</text>
<path d="M435.2 664.52H438.2" stroke="#444" stroke-width="0.8"/>
<text x="433.6" y="666.82" font-size="6.6" text-anchor="end" fill="#111" stroke="#111" stroke-width="0.18">50</text>
<path d="M435.2 647.24H438.2" stroke="#444" stroke-width="0.8"/>
<text x="433.6" y="649.54" font-size="6.6" text-anchor="end" fill="#111" stroke="#111" stroke-width="0.18">100</text>
<path d="M435.2 629.96H438.2" stroke="#444" stroke-width="0.8"/>
<text x="433.6" y="632.26" font-size="6.6" text-anchor="end" fill="#111" stroke="#111" stroke-width="0.18">150</text>
<path d="M435.2 612.68H438.2" stroke="#444" stroke-width="0.8"/>
<text x="433.6" y="614.98" font-size="6.6" text-anchor="end" fill="#111" stroke="#111" stroke-width="0.18">200</text>
<path d="M435.2 595.4H438.2" stroke="#444" stroke-width="0.8"/>
<text x="433.6" y="597.7" font-size="6.6" text-anchor="end" fill="#111" stroke="#111" stroke-width="0.18">250</text>
<path d="M447.6 681.8V684.8" stroke="#444" stroke-width="0.8"/>
<text x="447.6" y="692.5" font-size="6.7" text-anchor="middle" fill="#111" stroke="#111" stroke-width="0.18">VEH</text>
<path d="M465 681.8V684.8" stroke="#444" stroke-width="0.8"/>
<text x="465" y="692.5" font-size="6.7" text-anchor="middle" fill="#111" stroke="#111" stroke-width="0.18">CBD</text>
<path d="M498.1 681.8V684.8" stroke="#444" stroke-width="0.8"/>
<text x="498.1" y="692.5" font-size="6.7" text-anchor="middle" fill="#111" stroke="#111" stroke-width="0.18">VEH</text>
<path d="M515.6 681.8V684.8" stroke="#444" stroke-width="0.8"/>
<text x="515.6" y="692.5" font-size="6.7" text-anchor="middle" fill="#111" stroke="#111" stroke-width="0.18">CBD</text>
<text transform="translate(417.8 638.6) rotate(-90)" font-size="7" text-anchor="middle" fill="#111" stroke="#111" stroke-width="0.15" xml:space="preserve">GFAP-Positive  Cells/mm2</text>
<circle cx="445.1" cy="662" r="3.1" fill="#80FFFC" stroke="#000" stroke-width="0.7"/>
<circle cx="449.7" cy="662.6" r="3.1" fill="#80FFFC" stroke="#000" stroke-width="0.7"/>
<circle cx="443" cy="668.2" r="3.1" fill="#80FFFC" stroke="#000" stroke-width="0.7"/>
<circle cx="451.6" cy="669" r="3.1" fill="#80FFFC" stroke="#000" stroke-width="0.7"/>
<circle cx="447.1" cy="665.8" r="3.1" fill="#80FFFC" stroke="#000" stroke-width="0.7"/>
<circle cx="460.1" cy="659.8" r="3.1" fill="#80FFFC" stroke="#000" stroke-width="0.7"/>
<circle cx="466.4" cy="660.2" r="3.1" fill="#80FFFC" stroke="#000" stroke-width="0.7"/>
<circle cx="463.2" cy="662.6" r="3.1" fill="#80FFFC" stroke="#000" stroke-width="0.7"/>
<circle cx="469.4" cy="663" r="3.1" fill="#80FFFC" stroke="#000" stroke-width="0.7"/>
<circle cx="464.6" cy="672.1" r="3.1" fill="#80FFFC" stroke="#000" stroke-width="0.7"/>
<circle cx="497.6" cy="619.8" r="3.1" fill="#FA2A0E" stroke="#000" stroke-width="0.7"/>
<circle cx="502.2" cy="641" r="3.1" fill="#FA2A0E" stroke="#000" stroke-width="0.7"/>
<circle cx="492.8" cy="645.3" r="3.1" fill="#FA2A0E" stroke="#000" stroke-width="0.7"/>
<circle cx="499.4" cy="644.6" r="3.1" fill="#FA2A0E" stroke="#000" stroke-width="0.7"/>
<circle cx="496.2" cy="647" r="3.1" fill="#FA2A0E" stroke="#000" stroke-width="0.7"/>
<circle cx="502.9" cy="651.6" r="3.1" fill="#FA2A0E" stroke="#000" stroke-width="0.7"/>
<circle cx="499" cy="652.1" r="3.1" fill="#FA2A0E" stroke="#000" stroke-width="0.7"/>
<circle cx="492.8" cy="652.8" r="3.1" fill="#FA2A0E" stroke="#000" stroke-width="0.7"/>
<circle cx="515.1" cy="641.1" r="3.1" fill="#FA2A0E" stroke="#000" stroke-width="0.7"/>
<circle cx="515.1" cy="647.4" r="3.1" fill="#FA2A0E" stroke="#000" stroke-width="0.7"/>
<circle cx="513.3" cy="656.7" r="3.1" fill="#FA2A0E" stroke="#000" stroke-width="0.7"/>
<circle cx="519.6" cy="657.2" r="3.1" fill="#FA2A0E" stroke="#000" stroke-width="0.7"/>
<circle cx="510.3" cy="659.8" r="3.1" fill="#FA2A0E" stroke="#000" stroke-width="0.7"/>
<circle cx="516.5" cy="663" r="3.1" fill="#FA2A0E" stroke="#000" stroke-width="0.7"/>
<circle cx="513.6" cy="669" r="3.1" fill="#FA2A0E" stroke="#000" stroke-width="0.7"/>
<path d="M447.1 609.8H495.9" stroke="#555" stroke-width="1"/>
<path d="M466.4 601.35L466.4 606.25M468.52 602.57L464.28 605.02M468.52 605.02L464.28 602.57" stroke="#111" stroke-width="1.2" stroke-linecap="round"/><path d="M471.5 601.35L471.5 606.25M473.62 602.57L469.38 605.02M473.62 605.02L469.38 602.57" stroke="#111" stroke-width="1.2" stroke-linecap="round"/><path d="M476.6 601.35L476.6 606.25M478.72 602.57L474.48 605.02M478.72 605.02L474.48 602.57" stroke="#111" stroke-width="1.2" stroke-linecap="round"/>
<path d="M499.1 609.8H515" stroke="#555" stroke-width="1"/>
<path d="M507.3 601.35L507.3 606.25M509.42 602.57L505.18 605.02M509.42 605.02L505.18 602.57" stroke="#111" stroke-width="1.2" stroke-linecap="round"/>
<rect x="581.2" y="629.3" width="15.4" height="52.5" fill="#EDD27A" stroke="#7a7a70" stroke-width="0.8"/>
<rect x="598.6" y="637.2" width="15.4" height="44.6" fill="#5E9C22" stroke="#2b4a12" stroke-width="0.8"/>
<rect x="631.8" y="655.4" width="15.2" height="26.4" fill="#EDD27A" stroke="#7a7a70" stroke-width="0.8"/>
<rect x="649.2" y="640.3" width="15.4" height="41.5" fill="#3B9D21" stroke="#2b4a12" stroke-width="0.8"/>
<path d="M589.3 630.4V626.4M586.3 626.4H592.3" stroke="#555" stroke-width="0.7" fill="none"/>
<path d="M606.6 637.8V633.8M603.6 633.8H609.6" stroke="#555" stroke-width="0.7" fill="none"/>
<path d="M639.6 654.5V650.5M636.6 650.5H642.6" stroke="#555" stroke-width="0.7" fill="none"/>
<path d="M657.1 638.5V634.5M654.1 634.5H660.1" stroke="#555" stroke-width="0.7" fill="none"/>
<path d="M579.5 595.4V681.8M576.5 681.8H665.5" stroke="#444" stroke-width="0.9" fill="none"/>
<path d="M576.5 681.8H579.5" stroke="#444" stroke-width="0.8"/>
<text x="574.9" y="684.1" font-size="6.6" text-anchor="end" fill="#111" stroke="#111" stroke-width="0.18">0</text>
<path d="M576.5 660.2H579.5" stroke="#444" stroke-width="0.8"/>
<text x="574.9" y="662.5" font-size="6.6" text-anchor="end" fill="#111" stroke="#111" stroke-width="0.18">20</text>
<path d="M576.5 638.6H579.5" stroke="#444" stroke-width="0.8"/>
<text x="574.9" y="640.9" font-size="6.6" text-anchor="end" fill="#111" stroke="#111" stroke-width="0.18">40</text>
<path d="M576.5 617H579.5" stroke="#444" stroke-width="0.8"/>
<text x="574.9" y="619.3" font-size="6.6" text-anchor="end" fill="#111" stroke="#111" stroke-width="0.18">60</text>
<path d="M576.5 595.4H579.5" stroke="#444" stroke-width="0.8"/>
<text x="574.9" y="597.7" font-size="6.6" text-anchor="end" fill="#111" stroke="#111" stroke-width="0.18">80</text>
<path d="M588.9 681.8V684.8" stroke="#444" stroke-width="0.8"/>
<text x="588.9" y="692.5" font-size="6.7" text-anchor="middle" fill="#111" stroke="#111" stroke-width="0.18">VEH</text>
<path d="M606.3 681.8V684.8" stroke="#444" stroke-width="0.8"/>
<text x="606.3" y="692.5" font-size="6.7" text-anchor="middle" fill="#111" stroke="#111" stroke-width="0.18">CBD</text>
<path d="M639.4 681.8V684.8" stroke="#444" stroke-width="0.8"/>
<text x="639.4" y="692.5" font-size="6.7" text-anchor="middle" fill="#111" stroke="#111" stroke-width="0.18">VEH</text>
<path d="M656.9 681.8V684.8" stroke="#444" stroke-width="0.8"/>
<text x="656.9" y="692.5" font-size="6.7" text-anchor="middle" fill="#111" stroke="#111" stroke-width="0.18">CBD</text>
<text transform="translate(563.4 638.6) rotate(-90)" font-size="7" text-anchor="middle" fill="#111" stroke="#111" stroke-width="0.15" xml:space="preserve">NG2-Positive  Cells/mm2</text>
<circle cx="584.7" cy="621.9" r="3.1" fill="#80FFFC" stroke="#000" stroke-width="0.7"/>
<circle cx="593.6" cy="622.3" r="3.1" fill="#80FFFC" stroke="#000" stroke-width="0.7"/>
<circle cx="584.7" cy="631" r="3.1" fill="#80FFFC" stroke="#000" stroke-width="0.7"/>
<circle cx="593.6" cy="632.8" r="3.1" fill="#80FFFC" stroke="#000" stroke-width="0.7"/>
<circle cx="589.1" cy="641.1" r="3.1" fill="#80FFFC" stroke="#000" stroke-width="0.7"/>
<circle cx="606.6" cy="624" r="3.1" fill="#80FFFC" stroke="#000" stroke-width="0.7"/>
<circle cx="602" cy="636.1" r="3.1" fill="#80FFFC" stroke="#000" stroke-width="0.7"/>
<circle cx="606.6" cy="638.4" r="3.1" fill="#80FFFC" stroke="#000" stroke-width="0.7"/>
<circle cx="611.4" cy="640.7" r="3.1" fill="#80FFFC" stroke="#000" stroke-width="0.7"/>
<circle cx="602" cy="647" r="3.1" fill="#80FFFC" stroke="#000" stroke-width="0.7"/>
<circle cx="639.6" cy="636.5" r="3.1" fill="#FA2A0E" stroke="#000" stroke-width="0.7"/>
<circle cx="639.3" cy="645.3" r="3.1" fill="#FA2A0E" stroke="#000" stroke-width="0.7"/>
<circle cx="644.2" cy="646.7" r="3.1" fill="#FA2A0E" stroke="#000" stroke-width="0.7"/>
<circle cx="635.1" cy="650.8" r="3.1" fill="#FA2A0E" stroke="#000" stroke-width="0.7"/>
<circle cx="642.4" cy="660.2" r="3.1" fill="#FA2A0E" stroke="#000" stroke-width="0.7"/>
<circle cx="637.2" cy="660.9" r="3.1" fill="#FA2A0E" stroke="#000" stroke-width="0.7"/>
<circle cx="641.8" cy="668.6" r="3.1" fill="#FA2A0E" stroke="#000" stroke-width="0.7"/>
<circle cx="637.2" cy="672.5" r="3.1" fill="#FA2A0E" stroke="#000" stroke-width="0.7"/>
<circle cx="652.5" cy="619.1" r="3.1" fill="#FA2A0E" stroke="#000" stroke-width="0.7"/>
<circle cx="661.3" cy="619.8" r="3.1" fill="#FA2A0E" stroke="#000" stroke-width="0.7"/>
<circle cx="657.1" cy="630.7" r="3.1" fill="#FA2A0E" stroke="#000" stroke-width="0.7"/>
<circle cx="652.5" cy="640.7" r="3.1" fill="#FA2A0E" stroke="#000" stroke-width="0.7"/>
<circle cx="661.3" cy="645.9" r="3.1" fill="#FA2A0E" stroke="#000" stroke-width="0.7"/>
<circle cx="652.5" cy="649.1" r="3.1" fill="#FA2A0E" stroke="#000" stroke-width="0.7"/>
<circle cx="661.3" cy="656.5" r="3.1" fill="#FA2A0E" stroke="#000" stroke-width="0.7"/>
<circle cx="652.5" cy="659.8" r="3.1" fill="#FA2A0E" stroke="#000" stroke-width="0.7"/>
<path d="M589.1 609H639.7" stroke="#555" stroke-width="1"/>
<path d="M611.85 600.35L611.85 605.25M613.97 601.57L609.73 604.02M613.97 604.02L609.73 601.57" stroke="#111" stroke-width="1.2" stroke-linecap="round"/><path d="M616.95 600.35L616.95 605.25M619.07 601.57L614.83 604.02M619.07 604.02L614.83 601.57" stroke="#111" stroke-width="1.2" stroke-linecap="round"/>
<circle cx="315.8" cy="709.3" r="7.1" fill="#80FFFC" stroke="#111" stroke-width="1.1"/>
<text x="336.5" y="714.4" font-size="14.3" fill="#000" stroke="#000" stroke-width="0.22">Saccharin</text>
<circle cx="417" cy="709.3" r="7.1" fill="#FA2A0E" stroke="#111" stroke-width="1.1"/>
<text x="437.2" y="714.4" font-size="14.3" fill="#000" stroke="#000" stroke-width="0.22">Alcohol</text>
</svg></body></html>
